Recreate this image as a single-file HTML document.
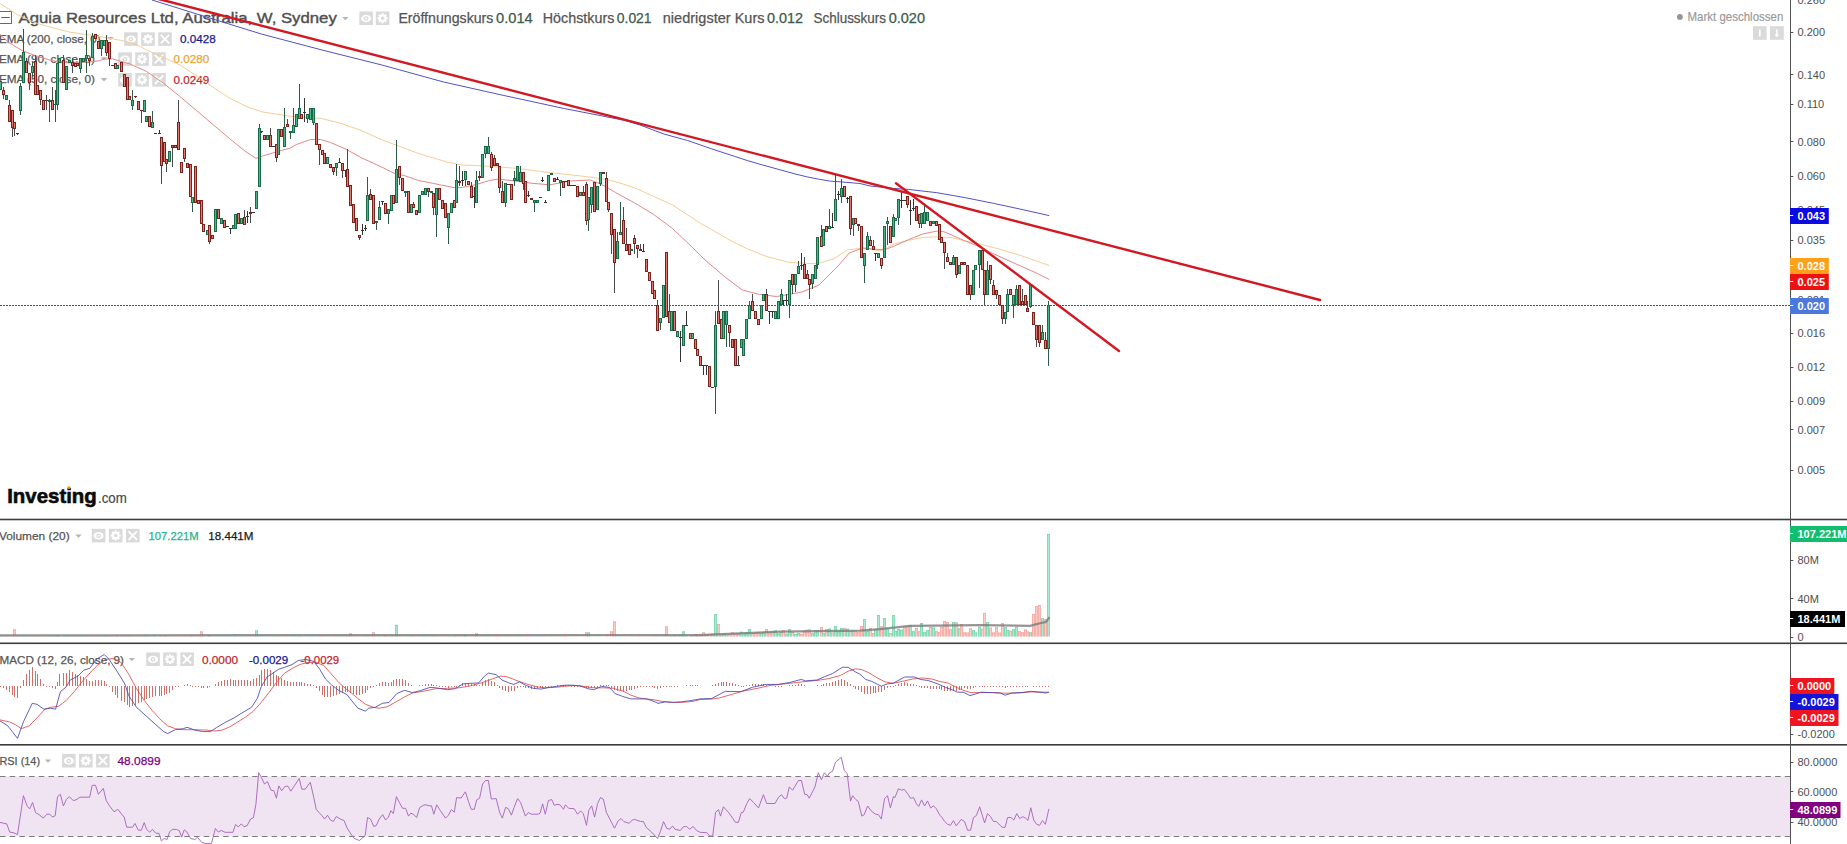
<!DOCTYPE html>
<html><head><meta charset="utf-8"><title>Chart</title>
<style>
html,body{margin:0;padding:0;background:#fff;}
body{width:1847px;height:844px;overflow:hidden;position:relative;font-family:"Liberation Sans",sans-serif;}
svg text{font-family:"Liberation Sans",sans-serif;}
</style></head><body>
<svg width="1847" height="844" viewBox="0 0 1847 844" style="position:absolute;left:0;top:0">
<rect x="0" y="776.5" width="1790.5" height="60" fill="#f0e4f3"/>
<line x1="0" y1="776.5" x2="1790.5" y2="776.5" stroke="#7d7d7d" stroke-width="1" stroke-dasharray="5.5 4.2"/>
<line x1="0" y1="836.5" x2="1790.5" y2="836.5" stroke="#7d7d7d" stroke-width="1" stroke-dasharray="5.5 4.2"/>
<rect x="-2.5" y="11.5" width="14" height="12" fill="none" stroke="#6a6a6a" stroke-width="1"/><rect x="1.3" y="17" width="8.4" height="1" fill="#5a5a5a"/>
<text x="18.5" y="23.4" font-size="15.2" fill="#505050" textLength="318.3" lengthAdjust="spacingAndGlyphs" stroke="#505050" stroke-width="0.4" text-anchor="start">Aguia Resources Ltd, Australia, W, Sydney</text>
<path d="M342.1,16.9 L348.5,16.9 L345.3,20.3 Z" fill="#b5b5b5"/>
<rect x="359.3" y="11.5" width="13.6" height="13.6" fill="#dadada"/>
<ellipse cx="366.1" cy="18.5" rx="5" ry="3.7" fill="#fff"/><circle cx="366.1" cy="18.5" r="2.3" fill="#dadada"/><circle cx="366.1" cy="18.5" r="1" fill="#fff"/>
<rect x="375.8" y="11.5" width="13.6" height="13.6" fill="#dadada"/>
<rect x="381.5" y="13.3" width="2.2" height="10" fill="#fff" transform="rotate(0 382.6 18.3)"/><rect x="381.5" y="13.3" width="2.2" height="10" fill="#fff" transform="rotate(45 382.6 18.3)"/><rect x="381.5" y="13.3" width="2.2" height="10" fill="#fff" transform="rotate(90 382.6 18.3)"/><rect x="381.5" y="13.3" width="2.2" height="10" fill="#fff" transform="rotate(135 382.6 18.3)"/><circle cx="382.6" cy="18.3" r="3.7" fill="#fff"/><circle cx="382.6" cy="18.3" r="1.7" fill="#dadada"/>
<text x="398.4" y="23.2" font-size="14.2" fill="#555555" textLength="95" lengthAdjust="spacingAndGlyphs" stroke="#555555" stroke-width="0.25" text-anchor="start">Eröffnungskurs</text>
<text x="496" y="23.2" font-size="14.2" fill="#3d5a4c" textLength="36.7" lengthAdjust="spacingAndGlyphs" stroke="#3d5a4c" stroke-width="0.25" text-anchor="start">0.014</text>
<text x="542.8" y="23.2" font-size="14.2" fill="#555555" textLength="71.5" lengthAdjust="spacingAndGlyphs" stroke="#555555" stroke-width="0.25" text-anchor="start">Höchstkurs</text>
<text x="616.8" y="23.2" font-size="14.2" fill="#3d5a4c" textLength="34.8" lengthAdjust="spacingAndGlyphs" stroke="#3d5a4c" stroke-width="0.25" text-anchor="start">0.021</text>
<text x="662.8" y="23.2" font-size="14.2" fill="#555555" textLength="101.7" lengthAdjust="spacingAndGlyphs" stroke="#555555" stroke-width="0.25" text-anchor="start">niedrigster Kurs</text>
<text x="767" y="23.2" font-size="14.2" fill="#3d5a4c" textLength="36" lengthAdjust="spacingAndGlyphs" stroke="#3d5a4c" stroke-width="0.25" text-anchor="start">0.012</text>
<text x="813.5" y="23.2" font-size="14.2" fill="#555555" textLength="72.5" lengthAdjust="spacingAndGlyphs" stroke="#555555" stroke-width="0.25" text-anchor="start">Schlusskurs</text>
<text x="888.7" y="23.2" font-size="14.2" fill="#3d5a4c" textLength="36.3" lengthAdjust="spacingAndGlyphs" stroke="#3d5a4c" stroke-width="0.25" text-anchor="start">0.020</text>
<text x="-1" y="42.7" font-size="11.7" fill="#555555" textLength="101.7" lengthAdjust="spacingAndGlyphs" stroke="#555555" stroke-width="0.25" text-anchor="start">EMA (200, close, 0)</text>
<path d="M107.3,36.9 L113.7,36.9 L110.5,40.3 Z" fill="#b5b5b5"/>
<rect x="124.1" y="32.3" width="13.6" height="13.6" fill="#dadada"/>
<ellipse cx="130.9" cy="39.3" rx="5" ry="3.7" fill="#fff"/><circle cx="130.9" cy="39.3" r="2.3" fill="#dadada"/><circle cx="130.9" cy="39.3" r="1" fill="#fff"/>
<rect x="141.2" y="32.3" width="13.6" height="13.6" fill="#dadada"/>
<rect x="146.9" y="34.099999999999994" width="2.2" height="10" fill="#fff" transform="rotate(0 148.0 39.099999999999994)"/><rect x="146.9" y="34.099999999999994" width="2.2" height="10" fill="#fff" transform="rotate(45 148.0 39.099999999999994)"/><rect x="146.9" y="34.099999999999994" width="2.2" height="10" fill="#fff" transform="rotate(90 148.0 39.099999999999994)"/><rect x="146.9" y="34.099999999999994" width="2.2" height="10" fill="#fff" transform="rotate(135 148.0 39.099999999999994)"/><circle cx="148.0" cy="39.099999999999994" r="3.7" fill="#fff"/><circle cx="148.0" cy="39.099999999999994" r="1.7" fill="#dadada"/>
<rect x="158.2" y="32.3" width="13.6" height="13.6" fill="#dadada"/>
<path d="M160.79999999999998,34.9 L169.2,43.3 M169.2,34.9 L160.79999999999998,43.3" stroke="#fff" stroke-width="1.8" fill="none"/>
<text x="180" y="42.9" font-size="11.7" fill="#17178f" textLength="35.7" lengthAdjust="spacingAndGlyphs" stroke="#17178f" stroke-width="0.25" text-anchor="start">0.0428</text>
<text x="-1" y="62.9" font-size="11.7" fill="#555555" textLength="96" lengthAdjust="spacingAndGlyphs" stroke="#555555" stroke-width="0.25" text-anchor="start">EMA (90, close, 0)</text>
<path d="M100.8,57.199999999999996 L107.2,57.199999999999996 L104,60.599999999999994 Z" fill="#b5b5b5"/>
<rect x="118.2" y="52.3" width="13.6" height="13.6" fill="#dadada"/>
<ellipse cx="125.0" cy="59.3" rx="5" ry="3.7" fill="#fff"/><circle cx="125.0" cy="59.3" r="2.3" fill="#dadada"/><circle cx="125.0" cy="59.3" r="1" fill="#fff"/>
<rect x="135.2" y="52.3" width="13.6" height="13.6" fill="#dadada"/>
<rect x="140.9" y="54.099999999999994" width="2.2" height="10" fill="#fff" transform="rotate(0 142.0 59.099999999999994)"/><rect x="140.9" y="54.099999999999994" width="2.2" height="10" fill="#fff" transform="rotate(45 142.0 59.099999999999994)"/><rect x="140.9" y="54.099999999999994" width="2.2" height="10" fill="#fff" transform="rotate(90 142.0 59.099999999999994)"/><rect x="140.9" y="54.099999999999994" width="2.2" height="10" fill="#fff" transform="rotate(135 142.0 59.099999999999994)"/><circle cx="142.0" cy="59.099999999999994" r="3.7" fill="#fff"/><circle cx="142.0" cy="59.099999999999994" r="1.7" fill="#dadada"/>
<rect x="152.2" y="52.3" width="13.6" height="13.6" fill="#dadada"/>
<path d="M154.79999999999998,54.9 L163.2,63.3 M163.2,54.9 L154.79999999999998,63.3" stroke="#fff" stroke-width="1.8" fill="none"/>
<text x="173.6" y="63.1" font-size="11.7" fill="#e8a530" textLength="35.7" lengthAdjust="spacingAndGlyphs" stroke="#e8a530" stroke-width="0.25" text-anchor="start">0.0280</text>
<text x="-1" y="83.4" font-size="11.7" fill="#555555" textLength="96" lengthAdjust="spacingAndGlyphs" stroke="#555555" stroke-width="0.25" text-anchor="start">EMA (50, close, 0)</text>
<path d="M100.8,78.0 L107.2,78.0 L104,81.39999999999999 Z" fill="#b5b5b5"/>
<rect x="118.2" y="73" width="13.6" height="13.6" fill="#dadada"/>
<ellipse cx="125.0" cy="80.0" rx="5" ry="3.7" fill="#fff"/><circle cx="125.0" cy="80.0" r="2.3" fill="#dadada"/><circle cx="125.0" cy="80.0" r="1" fill="#fff"/>
<rect x="135.2" y="73" width="13.6" height="13.6" fill="#dadada"/>
<rect x="140.9" y="74.8" width="2.2" height="10" fill="#fff" transform="rotate(0 142.0 79.8)"/><rect x="140.9" y="74.8" width="2.2" height="10" fill="#fff" transform="rotate(45 142.0 79.8)"/><rect x="140.9" y="74.8" width="2.2" height="10" fill="#fff" transform="rotate(90 142.0 79.8)"/><rect x="140.9" y="74.8" width="2.2" height="10" fill="#fff" transform="rotate(135 142.0 79.8)"/><circle cx="142.0" cy="79.8" r="3.7" fill="#fff"/><circle cx="142.0" cy="79.8" r="1.7" fill="#dadada"/>
<rect x="152.2" y="73" width="13.6" height="13.6" fill="#dadada"/>
<path d="M154.79999999999998,75.6 L163.2,84 M163.2,75.6 L154.79999999999998,84" stroke="#fff" stroke-width="1.8" fill="none"/>
<text x="173.6" y="83.6" font-size="11.7" fill="#c4262c" textLength="35.7" lengthAdjust="spacingAndGlyphs" stroke="#c4262c" stroke-width="0.25" text-anchor="start">0.0249</text>
<circle cx="1679.9" cy="16.9" r="2.9" fill="#949494"/>
<text x="1687.5" y="20.9" font-size="12.6" fill="#989898" textLength="95.8" lengthAdjust="spacingAndGlyphs" stroke="#989898" stroke-width="0.15" text-anchor="start">Markt geschlossen</text>
<rect x="1753" y="26.2" width="13.6" height="13.6" fill="#dadada"/><rect x="1770" y="26.2" width="13.8" height="13.6" fill="#dadada"/>
<path d="M1759.8,29.5 v7" stroke="#fff" stroke-width="1.8"/><path d="M1776.9,29.3 v6" stroke="#fff" stroke-width="1.5" fill="none"/><path d="M1774.6,34.6 h4.6 l-2.3,2.8 z" fill="#fff"/>
<text x="7.2" y="502.8" font-size="20.4" fill="#0a0a0a" textLength="89.6" lengthAdjust="spacingAndGlyphs" font-weight="bold" stroke="#0a0a0a" stroke-width="0.6" text-anchor="start">Investing</text>
<circle cx="68.9" cy="487.6" r="1.5" fill="#f0a020"/>
<text x="98" y="502.8" font-size="14.5" fill="#4a4a4a" textLength="28.8" lengthAdjust="spacingAndGlyphs" stroke="#4a4a4a" stroke-width="0.2" text-anchor="start">.com</text>
<text x="-1" y="540" font-size="11.7" fill="#555555" textLength="70.6" lengthAdjust="spacingAndGlyphs" stroke="#555555" stroke-width="0.25" text-anchor="start">Volumen (20)</text>
<path d="M75.3,534.4 L81.7,534.4 L78.5,537.8 Z" fill="#b5b5b5"/>
<rect x="91.8" y="528.8" width="13.6" height="13.6" fill="#dadada"/>
<ellipse cx="98.6" cy="535.8" rx="5" ry="3.7" fill="#fff"/><circle cx="98.6" cy="535.8" r="2.3" fill="#dadada"/><circle cx="98.6" cy="535.8" r="1" fill="#fff"/>
<rect x="108.9" y="528.8" width="13.6" height="13.6" fill="#dadada"/>
<rect x="114.60000000000001" y="530.5999999999999" width="2.2" height="10" fill="#fff" transform="rotate(0 115.7 535.5999999999999)"/><rect x="114.60000000000001" y="530.5999999999999" width="2.2" height="10" fill="#fff" transform="rotate(45 115.7 535.5999999999999)"/><rect x="114.60000000000001" y="530.5999999999999" width="2.2" height="10" fill="#fff" transform="rotate(90 115.7 535.5999999999999)"/><rect x="114.60000000000001" y="530.5999999999999" width="2.2" height="10" fill="#fff" transform="rotate(135 115.7 535.5999999999999)"/><circle cx="115.7" cy="535.5999999999999" r="3.7" fill="#fff"/><circle cx="115.7" cy="535.5999999999999" r="1.7" fill="#dadada"/>
<rect x="126" y="528.8" width="13.6" height="13.6" fill="#dadada"/>
<path d="M128.6,531.4 L137,539.8 M137,531.4 L128.6,539.8" stroke="#fff" stroke-width="1.8" fill="none"/>
<text x="148.5" y="540.2" font-size="11.7" fill="#26b38a" textLength="50.2" lengthAdjust="spacingAndGlyphs" stroke="#26b38a" stroke-width="0.25" text-anchor="start">107.221M</text>
<text x="208.3" y="540.2" font-size="11.7" fill="#1a1a1a" textLength="45.2" lengthAdjust="spacingAndGlyphs" stroke="#1a1a1a" stroke-width="0.25" text-anchor="start">18.441M</text>
<text x="-0.5" y="663.7" font-size="11.7" fill="#555555" textLength="124.5" lengthAdjust="spacingAndGlyphs" stroke="#555555" stroke-width="0.25" text-anchor="start">MACD (12, 26, close, 9)</text>
<path d="M128.60000000000002,657.9 L135.0,657.9 L131.8,661.3 Z" fill="#b5b5b5"/>
<rect x="146.2" y="652.4" width="13.6" height="13.6" fill="#dadada"/>
<ellipse cx="153.0" cy="659.4" rx="5" ry="3.7" fill="#fff"/><circle cx="153.0" cy="659.4" r="2.3" fill="#dadada"/><circle cx="153.0" cy="659.4" r="1" fill="#fff"/>
<rect x="163.2" y="652.4" width="13.6" height="13.6" fill="#dadada"/>
<rect x="168.9" y="654.1999999999999" width="2.2" height="10" fill="#fff" transform="rotate(0 170.0 659.1999999999999)"/><rect x="168.9" y="654.1999999999999" width="2.2" height="10" fill="#fff" transform="rotate(45 170.0 659.1999999999999)"/><rect x="168.9" y="654.1999999999999" width="2.2" height="10" fill="#fff" transform="rotate(90 170.0 659.1999999999999)"/><rect x="168.9" y="654.1999999999999" width="2.2" height="10" fill="#fff" transform="rotate(135 170.0 659.1999999999999)"/><circle cx="170.0" cy="659.1999999999999" r="3.7" fill="#fff"/><circle cx="170.0" cy="659.1999999999999" r="1.7" fill="#dadada"/>
<rect x="180.3" y="652.4" width="13.6" height="13.6" fill="#dadada"/>
<path d="M182.9,655.0 L191.3,663.4 M191.3,655.0 L182.9,663.4" stroke="#fff" stroke-width="1.8" fill="none"/>
<text x="202" y="663.9" font-size="11.7" fill="#c4262c" textLength="36" lengthAdjust="spacingAndGlyphs" stroke="#c4262c" stroke-width="0.25" text-anchor="start">0.0000</text>
<text x="249" y="663.9" font-size="11.7" fill="#17178f" textLength="39.2" lengthAdjust="spacingAndGlyphs" stroke="#17178f" stroke-width="0.25" text-anchor="start">-0.0029</text>
<text x="300.5" y="663.9" font-size="11.7" fill="#c4262c" textLength="38.7" lengthAdjust="spacingAndGlyphs" stroke="#c4262c" stroke-width="0.25" text-anchor="start">-0.0029</text>
<text x="-0.5" y="765.2" font-size="11.7" fill="#555555" textLength="40.5" lengthAdjust="spacingAndGlyphs" stroke="#555555" stroke-width="0.25" text-anchor="start">RSI (14)</text>
<path d="M44.8,759.4 L51.2,759.4 L48,762.8 Z" fill="#b5b5b5"/>
<rect x="62" y="753.9" width="13.6" height="13.6" fill="#dadada"/>
<ellipse cx="68.8" cy="760.9" rx="5" ry="3.7" fill="#fff"/><circle cx="68.8" cy="760.9" r="2.3" fill="#dadada"/><circle cx="68.8" cy="760.9" r="1" fill="#fff"/>
<rect x="79" y="753.9" width="13.6" height="13.6" fill="#dadada"/>
<rect x="84.7" y="755.6999999999999" width="2.2" height="10" fill="#fff" transform="rotate(0 85.8 760.6999999999999)"/><rect x="84.7" y="755.6999999999999" width="2.2" height="10" fill="#fff" transform="rotate(45 85.8 760.6999999999999)"/><rect x="84.7" y="755.6999999999999" width="2.2" height="10" fill="#fff" transform="rotate(90 85.8 760.6999999999999)"/><rect x="84.7" y="755.6999999999999" width="2.2" height="10" fill="#fff" transform="rotate(135 85.8 760.6999999999999)"/><circle cx="85.8" cy="760.6999999999999" r="3.7" fill="#fff"/><circle cx="85.8" cy="760.6999999999999" r="1.7" fill="#dadada"/>
<rect x="96.1" y="753.9" width="13.6" height="13.6" fill="#dadada"/>
<path d="M98.69999999999999,756.5 L107.1,764.9 M107.1,756.5 L98.69999999999999,764.9" stroke="#fff" stroke-width="1.8" fill="none"/>
<text x="117.5" y="765.4" font-size="11.7" fill="#800080" textLength="43" lengthAdjust="spacingAndGlyphs" stroke="#800080" stroke-width="0.25" text-anchor="start">48.0899</text>
<polyline points="-6.0,0.0 0.0,3.5 17.3,14.7 34.7,22.5 52.0,27.7 69.3,32.0 86.7,34.7 104.0,37.3 120.0,40.2 133.0,43.3 140.0,46.4 146.6,50.0 163.2,57.4 179.7,64.8 196.3,75.6 213.0,87.2 229.5,98.0 246.0,106.3 262.7,112.0 279.2,114.6 290.0,116.2 300.5,117.3 320.6,118.3 340.8,123.3 361.0,130.4 381.0,139.5 400.0,146.5 418.4,153.5 446.9,162.0 461.0,164.8 489.6,166.3 518.0,168.4 550.0,172.7 578.0,175.6 606.4,179.4 620.0,183.0 634.8,187.9 653.7,196.4 672.7,205.0 700.0,223.0 729.6,240.0 746.6,248.5 768.0,257.0 789.3,262.4 810.6,263.5 820.0,263.0 834.0,258.6 847.4,250.0 862.6,248.0 880.0,251.0 887.0,248.0 894.2,243.9 908.4,240.4 922.6,237.5 936.9,236.8 951.0,237.5 965.3,241.0 979.5,243.9 993.7,247.5 1007.9,251.7 1022.1,256.0 1036.4,261.0 1049.2,265.5" fill="none" stroke="#f4cd94" stroke-width="1" />
<polyline points="-3.0,30.0 0.0,34.7 8.7,42.5 21.7,50.3 34.7,55.5 52.0,60.7 69.3,62.8 86.7,62.4 99.7,60.7 104.0,59.0 112.7,59.0 130.0,64.0 146.6,71.5 163.2,83.0 179.7,96.3 196.3,110.4 213.0,124.5 229.5,138.6 246.0,151.9 256.0,158.3 262.7,156.0 279.2,151.0 290.0,148.2 296.5,144.5 310.6,139.5 320.6,139.5 330.7,142.5 346.9,149.6 361.0,157.6 381.0,166.7 395.2,173.8 404.2,175.5 418.4,180.5 432.7,183.3 446.9,186.2 454.0,187.6 461.0,187.6 475.3,184.8 489.6,180.5 498.0,179.0 511.0,180.5 532.2,183.3 550.0,184.8 570.5,181.0 590.0,180.0 597.0,182.5 606.4,187.0 615.8,192.7 634.8,203.0 653.7,214.5 672.7,228.7 691.7,246.7 704.0,259.0 725.3,277.3 742.4,290.0 759.4,294.4 776.5,296.5 789.3,294.4 802.0,292.0 819.0,285.0 838.0,266.0 849.3,253.0 862.6,248.0 880.0,249.6 887.1,248.9 894.2,246.0 908.4,239.7 922.6,234.0 936.9,231.1 944.0,231.8 951.0,234.7 965.3,241.0 979.5,246.8 993.7,253.9 1007.9,260.3 1022.1,266.7 1036.4,273.0 1049.2,279.5" fill="none" stroke="#e48888" stroke-width="1" />
<polyline points="152.0,0.0 200.6,15.2 261.3,34.0 322.0,50.0 382.6,65.2 443.2,81.9 503.9,95.5 564.5,108.6 600.0,115.5 625.2,120.5 640.0,125.0 663.8,134.0 687.6,140.5 711.5,148.8 735.3,156.6 747.2,160.5 759.0,164.0 771.0,167.3 783.0,170.6 794.9,173.9 806.8,176.8 818.7,179.2 830.6,181.2 842.5,182.0 860.0,183.5 870.0,186.0 894.2,188.5 908.4,189.4 936.9,192.7 965.3,197.7 993.7,203.4 1022.1,209.5 1049.2,215.6" fill="none" stroke="#5252c4" stroke-width="1" />
<line x1="0" y1="305.5" x2="1790.5" y2="305.5" stroke="#4f5473" stroke-width="1" stroke-dasharray="2 1"/>
<g shape-rendering="crispEdges"><rect x="-1" y="81.0" width="3" height="9.0" fill="#1a6b47"/><rect x="0" y="82.0" width="1" height="7.0" fill="#4ab587"/><rect x="3" y="87.0" width="1" height="12.0" fill="#4a4a4a"/><rect x="2" y="90.0" width="3" height="5.0" fill="#7a221b"/><rect x="3" y="91.0" width="1" height="3.0" fill="#e27770"/><rect x="5" y="95.0" width="3" height="5.0" fill="#1a6b47"/><rect x="6" y="96.0" width="1" height="3.0" fill="#4ab587"/><rect x="9" y="100.0" width="1" height="22.0" fill="#4a4a4a"/><rect x="8" y="105.0" width="3" height="17.0" fill="#7a221b"/><rect x="9" y="106.0" width="1" height="15.0" fill="#e27770"/><rect x="12" y="110.0" width="1" height="27.0" fill="#4a4a4a"/><rect x="11" y="110.0" width="3" height="18.0" fill="#7a221b"/><rect x="12" y="111.0" width="1" height="16.0" fill="#e27770"/><rect x="14" y="122.0" width="1" height="14.0" fill="#4a4a4a"/><rect x="13" y="122.0" width="3" height="7.0" fill="#7a221b"/><rect x="14" y="123.0" width="1" height="5.0" fill="#e27770"/><rect x="17" y="132.5" width="1" height="2.5" fill="#4a4a4a"/><rect x="16" y="132.5" width="3" height="1.0" fill="#7a221b"/><rect x="20" y="83.0" width="1" height="32.0" fill="#2f5a45"/><rect x="19" y="86.0" width="3" height="25.0" fill="#1a6b47"/><rect x="20" y="87.0" width="1" height="23.0" fill="#4ab587"/><rect x="23" y="28.5" width="1" height="54.5" fill="#2f5a45"/><rect x="22" y="52.0" width="3" height="31.0" fill="#1a6b47"/><rect x="23" y="53.0" width="1" height="29.0" fill="#4ab587"/><rect x="26" y="58.0" width="1" height="15.0" fill="#4a4a4a"/><rect x="25" y="61.0" width="3" height="12.0" fill="#7a221b"/><rect x="26" y="62.0" width="1" height="10.0" fill="#e27770"/><rect x="29" y="73.0" width="1" height="17.0" fill="#4a4a4a"/><rect x="28" y="73.0" width="3" height="10.0" fill="#7a221b"/><rect x="29" y="74.0" width="1" height="8.0" fill="#e27770"/><rect x="32" y="62.0" width="1" height="15.0" fill="#2f5a45"/><rect x="31" y="66.0" width="3" height="7.0" fill="#1a6b47"/><rect x="32" y="67.0" width="1" height="5.0" fill="#4ab587"/><rect x="35" y="55.0" width="1" height="40.0" fill="#4a4a4a"/><rect x="34" y="61.0" width="3" height="34.0" fill="#7a221b"/><rect x="35" y="62.0" width="1" height="32.0" fill="#e27770"/><rect x="36" y="85.0" width="3" height="10.0" fill="#7a221b"/><rect x="37" y="86.0" width="1" height="8.0" fill="#e27770"/><rect x="40" y="90.0" width="1" height="15.0" fill="#4a4a4a"/><rect x="39" y="90.0" width="3" height="10.0" fill="#7a221b"/><rect x="40" y="91.0" width="1" height="8.0" fill="#e27770"/><rect x="42" y="100.0" width="3" height="10.0" fill="#7a221b"/><rect x="43" y="101.0" width="1" height="8.0" fill="#e27770"/><rect x="46" y="95.0" width="1" height="15.0" fill="#4a4a4a"/><rect x="45" y="100.0" width="3" height="1.0" fill="#7a221b"/><rect x="49" y="99.0" width="1" height="23.0" fill="#2f5a45"/><rect x="48" y="100.0" width="3" height="2.0" fill="#1a6b47"/><rect x="52" y="87.0" width="1" height="23.0" fill="#4a4a4a"/><rect x="51" y="100.0" width="3" height="10.0" fill="#7a221b"/><rect x="52" y="101.0" width="1" height="8.0" fill="#e27770"/><rect x="55" y="90.0" width="1" height="32.0" fill="#2f5a45"/><rect x="54" y="104.0" width="3" height="1.0" fill="#1a6b47"/><rect x="57" y="63.0" width="1" height="47.0" fill="#2f5a45"/><rect x="56" y="63.0" width="3" height="42.0" fill="#1a6b47"/><rect x="57" y="64.0" width="1" height="40.0" fill="#4ab587"/><rect x="58" y="58.0" width="3" height="5.0" fill="#1a6b47"/><rect x="59" y="59.0" width="1" height="3.0" fill="#4ab587"/><rect x="63" y="55.0" width="1" height="28.0" fill="#4a4a4a"/><rect x="62" y="60.0" width="3" height="23.0" fill="#7a221b"/><rect x="63" y="61.0" width="1" height="21.0" fill="#e27770"/><rect x="65" y="66.0" width="3" height="24.0" fill="#1a6b47"/><rect x="66" y="67.0" width="1" height="22.0" fill="#4ab587"/><rect x="68" y="60.0" width="3" height="3.0" fill="#1a6b47"/><rect x="69" y="61.0" width="1" height="1.0" fill="#4ab587"/><rect x="72" y="58.0" width="1" height="15.0" fill="#4a4a4a"/><rect x="71" y="62.0" width="3" height="4.0" fill="#7a221b"/><rect x="72" y="63.0" width="1" height="2.0" fill="#e27770"/><rect x="74" y="63.0" width="3" height="4.0" fill="#7a221b"/><rect x="75" y="64.0" width="1" height="2.0" fill="#e27770"/><rect x="76" y="63.0" width="3" height="3.0" fill="#7a221b"/><rect x="77" y="64.0" width="1" height="1.0" fill="#e27770"/><rect x="80" y="58.0" width="1" height="15.0" fill="#2f5a45"/><rect x="79" y="58.0" width="3" height="11.0" fill="#1a6b47"/><rect x="80" y="59.0" width="1" height="9.0" fill="#4ab587"/><rect x="82" y="58.0" width="3" height="4.0" fill="#1a6b47"/><rect x="83" y="59.0" width="1" height="2.0" fill="#4ab587"/><rect x="86" y="30.0" width="1" height="43.0" fill="#2f5a45"/><rect x="85" y="55.0" width="3" height="4.0" fill="#1a6b47"/><rect x="86" y="56.0" width="1" height="2.0" fill="#4ab587"/><rect x="89" y="58.0" width="1" height="8.0" fill="#4a4a4a"/><rect x="88" y="58.0" width="3" height="3.0" fill="#7a221b"/><rect x="89" y="59.0" width="1" height="1.0" fill="#e27770"/><rect x="92" y="33.0" width="1" height="25.0" fill="#2f5a45"/><rect x="91" y="36.0" width="3" height="22.0" fill="#1a6b47"/><rect x="92" y="37.0" width="1" height="20.0" fill="#4ab587"/><rect x="94" y="33.5" width="3" height="5.5" fill="#7a221b"/><rect x="95" y="34.5" width="1" height="3.5" fill="#e27770"/><rect x="97" y="41.0" width="3" height="7.5" fill="#7a221b"/><rect x="98" y="42.0" width="1" height="5.5" fill="#e27770"/><rect x="101" y="40.0" width="1" height="16.0" fill="#2f5a45"/><rect x="100" y="40.0" width="3" height="8.5" fill="#1a6b47"/><rect x="101" y="41.0" width="1" height="6.5" fill="#4ab587"/><rect x="103" y="40.0" width="3" height="6.0" fill="#1a6b47"/><rect x="104" y="41.0" width="1" height="4.0" fill="#4ab587"/><rect x="106" y="35.0" width="1" height="21.0" fill="#4a4a4a"/><rect x="105" y="40.0" width="3" height="13.0" fill="#7a221b"/><rect x="106" y="41.0" width="1" height="11.0" fill="#e27770"/><rect x="109" y="42.0" width="1" height="23.5" fill="#4a4a4a"/><rect x="108" y="42.0" width="3" height="17.0" fill="#7a221b"/><rect x="109" y="43.0" width="1" height="15.0" fill="#e27770"/><rect x="111" y="65.0" width="3" height="1.0" fill="#7a221b"/><rect x="114" y="63.0" width="3" height="6.0" fill="#7a221b"/><rect x="115" y="64.0" width="1" height="4.0" fill="#e27770"/><rect x="116" y="65.0" width="3" height="3.6" fill="#1a6b47"/><rect x="117" y="66.0" width="1" height="1.6" fill="#4ab587"/><rect x="120" y="62.0" width="3" height="10.0" fill="#7a221b"/><rect x="121" y="63.0" width="1" height="8.0" fill="#e27770"/><rect x="123" y="73.6" width="3" height="13.4" fill="#7a221b"/><rect x="124" y="74.6" width="1" height="11.4" fill="#e27770"/><rect x="126" y="77.0" width="3" height="23.0" fill="#7a221b"/><rect x="127" y="78.0" width="1" height="21.0" fill="#e27770"/><rect x="128" y="96.0" width="3" height="4.0" fill="#7a221b"/><rect x="129" y="97.0" width="1" height="2.0" fill="#e27770"/><rect x="132" y="90.0" width="1" height="20.0" fill="#2f5a45"/><rect x="131" y="100.0" width="3" height="6.0" fill="#1a6b47"/><rect x="132" y="101.0" width="1" height="4.0" fill="#4ab587"/><rect x="135" y="95.5" width="1" height="2.5" fill="#4a4a4a"/><rect x="134" y="95.5" width="3" height="1.0" fill="#7a221b"/><rect x="137" y="101.0" width="3" height="9.0" fill="#7a221b"/><rect x="138" y="102.0" width="1" height="7.0" fill="#e27770"/><rect x="141" y="109.5" width="1" height="13.5" fill="#4a4a4a"/><rect x="140" y="109.5" width="3" height="1.0" fill="#7a221b"/><rect x="143" y="100.0" width="3" height="12.0" fill="#1a6b47"/><rect x="144" y="101.0" width="1" height="10.0" fill="#4ab587"/><rect x="145" y="116.0" width="3" height="6.0" fill="#1a6b47"/><rect x="146" y="117.0" width="1" height="4.0" fill="#4ab587"/><rect x="148" y="116.0" width="3" height="11.0" fill="#7a221b"/><rect x="149" y="117.0" width="1" height="9.0" fill="#e27770"/><rect x="152" y="111.0" width="1" height="17.0" fill="#2f5a45"/><rect x="151" y="122.0" width="3" height="6.0" fill="#1a6b47"/><rect x="152" y="123.0" width="1" height="4.0" fill="#4ab587"/><rect x="155" y="133.0" width="1" height="1.0" fill="#333"/><rect x="154" y="133.0" width="3" height="1" fill="#333"/><rect x="159" y="130.0" width="1" height="4.0" fill="#333"/><rect x="158" y="133.0" width="3" height="1" fill="#333"/><rect x="161" y="137.0" width="1" height="47.0" fill="#4a4a4a"/><rect x="160" y="137.0" width="3" height="29.0" fill="#7a221b"/><rect x="161" y="138.0" width="1" height="27.0" fill="#e27770"/><rect x="163" y="142.0" width="3" height="20.0" fill="#7a221b"/><rect x="164" y="143.0" width="1" height="18.0" fill="#e27770"/><rect x="166" y="159.0" width="1" height="13.0" fill="#4a4a4a"/><rect x="165" y="159.0" width="3" height="5.0" fill="#7a221b"/><rect x="166" y="160.0" width="1" height="3.0" fill="#e27770"/><rect x="168" y="151.0" width="3" height="11.0" fill="#1a6b47"/><rect x="169" y="152.0" width="1" height="9.0" fill="#4ab587"/><rect x="172" y="144.5" width="1" height="22.5" fill="#4a4a4a"/><rect x="171" y="144.5" width="3" height="3.0" fill="#7a221b"/><rect x="172" y="145.5" width="1" height="1.0" fill="#e27770"/><rect x="174" y="144.5" width="3" height="3.0" fill="#7a221b"/><rect x="175" y="145.5" width="1" height="1.0" fill="#e27770"/><rect x="178" y="99.7" width="1" height="49.8" fill="#4a4a4a"/><rect x="177" y="122.0" width="3" height="27.5" fill="#7a221b"/><rect x="178" y="123.0" width="1" height="25.5" fill="#e27770"/><rect x="180" y="162.0" width="3" height="11.0" fill="#7a221b"/><rect x="181" y="163.0" width="1" height="9.0" fill="#e27770"/><rect x="184" y="148.0" width="1" height="14.0" fill="#4a4a4a"/><rect x="183" y="148.0" width="3" height="11.4" fill="#7a221b"/><rect x="184" y="149.0" width="1" height="9.4" fill="#e27770"/><rect x="186" y="163.0" width="3" height="5.0" fill="#7a221b"/><rect x="187" y="164.0" width="1" height="3.0" fill="#e27770"/><rect x="189" y="164.0" width="3" height="33.0" fill="#7a221b"/><rect x="190" y="165.0" width="1" height="31.0" fill="#e27770"/><rect x="192" y="197.0" width="1" height="14.6" fill="#2f5a45"/><rect x="191" y="197.0" width="3" height="6.0" fill="#1a6b47"/><rect x="192" y="198.0" width="1" height="4.0" fill="#4ab587"/><rect x="194" y="165.6" width="3" height="37.4" fill="#7a221b"/><rect x="195" y="166.6" width="1" height="35.4" fill="#e27770"/><rect x="197" y="200.0" width="3" height="4.0" fill="#7a221b"/><rect x="198" y="201.0" width="1" height="2.0" fill="#e27770"/><rect x="200" y="200.0" width="3" height="24.0" fill="#7a221b"/><rect x="201" y="201.0" width="1" height="22.0" fill="#e27770"/><rect x="202" y="224.0" width="3" height="7.5" fill="#7a221b"/><rect x="203" y="225.0" width="1" height="5.5" fill="#e27770"/><rect x="206" y="230.0" width="3" height="5.0" fill="#1a6b47"/><rect x="207" y="231.0" width="1" height="3.0" fill="#4ab587"/><rect x="209" y="225.0" width="1" height="19.0" fill="#4a4a4a"/><rect x="208" y="225.0" width="3" height="16.5" fill="#7a221b"/><rect x="209" y="226.0" width="1" height="14.5" fill="#e27770"/><rect x="211" y="235.0" width="3" height="4.0" fill="#7a221b"/><rect x="212" y="236.0" width="1" height="2.0" fill="#e27770"/><rect x="214" y="209.0" width="3" height="22.5" fill="#1a6b47"/><rect x="215" y="210.0" width="1" height="20.5" fill="#4ab587"/><rect x="217" y="209.0" width="3" height="10.0" fill="#7a221b"/><rect x="218" y="210.0" width="1" height="8.0" fill="#e27770"/><rect x="220" y="218.0" width="3" height="6.0" fill="#1a6b47"/><rect x="221" y="219.0" width="1" height="4.0" fill="#4ab587"/><rect x="223" y="220.0" width="3" height="8.0" fill="#7a221b"/><rect x="224" y="221.0" width="1" height="6.0" fill="#e27770"/><rect x="227" y="226.0" width="1" height="1.0" fill="#333"/><rect x="226" y="226.0" width="3" height="1" fill="#333"/><rect x="230" y="227.5" width="1" height="6.5" fill="#333"/><rect x="229" y="227.5" width="3" height="1" fill="#333"/><rect x="232" y="225.0" width="3" height="4.0" fill="#1a6b47"/><rect x="233" y="226.0" width="1" height="2.0" fill="#4ab587"/><rect x="234" y="214.0" width="3" height="15.0" fill="#1a6b47"/><rect x="235" y="215.0" width="1" height="13.0" fill="#4ab587"/><rect x="237" y="213.0" width="3" height="11.0" fill="#7a221b"/><rect x="238" y="214.0" width="1" height="9.0" fill="#e27770"/><rect x="240" y="218.0" width="3" height="6.0" fill="#1a6b47"/><rect x="241" y="219.0" width="1" height="4.0" fill="#4ab587"/><rect x="244" y="210.0" width="1" height="15.0" fill="#4a4a4a"/><rect x="243" y="217.0" width="3" height="8.0" fill="#7a221b"/><rect x="244" y="218.0" width="1" height="6.0" fill="#e27770"/><rect x="247" y="211.0" width="1" height="12.0" fill="#333"/><rect x="246" y="216.0" width="3" height="1" fill="#333"/><rect x="250" y="207.0" width="1" height="16.0" fill="#4a4a4a"/><rect x="249" y="212.0" width="3" height="2.0" fill="#7a221b"/><rect x="253" y="211.5" width="1" height="1.0" fill="#333"/><rect x="252" y="211.5" width="3" height="1" fill="#333"/><rect x="255" y="191.0" width="3" height="18.0" fill="#1a6b47"/><rect x="256" y="192.0" width="1" height="16.0" fill="#4ab587"/><rect x="259" y="124.0" width="1" height="63.0" fill="#2f5a45"/><rect x="258" y="128.0" width="3" height="59.0" fill="#1a6b47"/><rect x="259" y="129.0" width="1" height="57.0" fill="#4ab587"/><rect x="261" y="131.0" width="1" height="2.0" fill="#333"/><rect x="260" y="131.0" width="3" height="1" fill="#333"/><rect x="263" y="135.0" width="3" height="5.0" fill="#7a221b"/><rect x="264" y="136.0" width="1" height="3.0" fill="#e27770"/><rect x="266" y="135.0" width="3" height="5.0" fill="#1a6b47"/><rect x="267" y="136.0" width="1" height="3.0" fill="#4ab587"/><rect x="270" y="128.0" width="1" height="18.5" fill="#4a4a4a"/><rect x="269" y="135.0" width="3" height="11.5" fill="#7a221b"/><rect x="270" y="136.0" width="1" height="9.5" fill="#e27770"/><rect x="273" y="146.0" width="1" height="1.0" fill="#333"/><rect x="272" y="146.0" width="3" height="1" fill="#333"/><rect x="276" y="143.5" width="1" height="18.1" fill="#4a4a4a"/><rect x="275" y="143.5" width="3" height="14.1" fill="#7a221b"/><rect x="276" y="144.5" width="1" height="12.1" fill="#e27770"/><rect x="277" y="129.0" width="3" height="25.6" fill="#1a6b47"/><rect x="278" y="130.0" width="1" height="23.6" fill="#4ab587"/><rect x="280" y="129.0" width="3" height="7.5" fill="#7a221b"/><rect x="281" y="130.0" width="1" height="5.5" fill="#e27770"/><rect x="284" y="108.0" width="1" height="38.5" fill="#2f5a45"/><rect x="283" y="127.0" width="3" height="19.5" fill="#1a6b47"/><rect x="284" y="128.0" width="1" height="17.5" fill="#4ab587"/><rect x="287" y="119.0" width="1" height="8.0" fill="#4a4a4a"/><rect x="286" y="124.0" width="3" height="3.0" fill="#7a221b"/><rect x="287" y="125.0" width="1" height="1.0" fill="#e27770"/><rect x="290" y="131.0" width="1" height="8.0" fill="#2f5a45"/><rect x="289" y="131.0" width="3" height="2.4" fill="#1a6b47"/><rect x="290" y="132.0" width="1" height="0.4" fill="#4ab587"/><rect x="293" y="108.0" width="1" height="25.4" fill="#2f5a45"/><rect x="292" y="125.0" width="3" height="8.4" fill="#1a6b47"/><rect x="293" y="126.0" width="1" height="6.4" fill="#4ab587"/><rect x="295" y="114.0" width="3" height="13.0" fill="#1a6b47"/><rect x="296" y="115.0" width="1" height="11.0" fill="#4ab587"/><rect x="299" y="84.0" width="1" height="35.0" fill="#2f5a45"/><rect x="298" y="108.0" width="3" height="11.0" fill="#1a6b47"/><rect x="299" y="109.0" width="1" height="9.0" fill="#4ab587"/><rect x="300" y="114.0" width="3" height="5.0" fill="#7a221b"/><rect x="301" y="115.0" width="1" height="3.0" fill="#e27770"/><rect x="304" y="98.0" width="1" height="24.0" fill="#333"/><rect x="303" y="112.0" width="3" height="1" fill="#333"/><rect x="307" y="114.0" width="1" height="9.0" fill="#2f5a45"/><rect x="306" y="114.0" width="3" height="5.0" fill="#1a6b47"/><rect x="307" y="115.0" width="1" height="3.0" fill="#4ab587"/><rect x="309" y="108.0" width="3" height="12.0" fill="#1a6b47"/><rect x="310" y="109.0" width="1" height="10.0" fill="#4ab587"/><rect x="313" y="108.0" width="1" height="17.0" fill="#2f5a45"/><rect x="312" y="108.0" width="3" height="15.0" fill="#1a6b47"/><rect x="313" y="109.0" width="1" height="13.0" fill="#4ab587"/><rect x="315" y="123.0" width="3" height="21.5" fill="#7a221b"/><rect x="316" y="124.0" width="1" height="19.5" fill="#e27770"/><rect x="319" y="143.5" width="1" height="21.2" fill="#4a4a4a"/><rect x="318" y="143.5" width="3" height="6.0" fill="#7a221b"/><rect x="319" y="144.5" width="1" height="4.0" fill="#e27770"/><rect x="321" y="149.5" width="3" height="5.1" fill="#7a221b"/><rect x="322" y="150.5" width="1" height="3.1" fill="#e27770"/><rect x="323" y="152.6" width="3" height="11.1" fill="#7a221b"/><rect x="324" y="153.6" width="1" height="9.1" fill="#e27770"/><rect x="326" y="156.6" width="3" height="7.1" fill="#1a6b47"/><rect x="327" y="157.6" width="1" height="5.1" fill="#4ab587"/><rect x="329" y="163.7" width="3" height="4.0" fill="#7a221b"/><rect x="330" y="164.7" width="1" height="2.0" fill="#e27770"/><rect x="333" y="166.7" width="1" height="8.0" fill="#4a4a4a"/><rect x="332" y="166.7" width="3" height="5.0" fill="#7a221b"/><rect x="333" y="167.7" width="1" height="3.0" fill="#e27770"/><rect x="336" y="162.7" width="1" height="13.1" fill="#2f5a45"/><rect x="335" y="162.7" width="3" height="5.0" fill="#1a6b47"/><rect x="336" y="163.7" width="1" height="3.0" fill="#4ab587"/><rect x="339" y="157.6" width="1" height="5.4" fill="#333"/><rect x="338" y="162.0" width="3" height="1" fill="#333"/><rect x="342" y="162.7" width="1" height="15.1" fill="#4a4a4a"/><rect x="341" y="162.7" width="3" height="8.0" fill="#7a221b"/><rect x="342" y="163.7" width="1" height="6.0" fill="#e27770"/><rect x="345" y="170.0" width="1" height="6.8" fill="#333"/><rect x="344" y="170.0" width="3" height="1" fill="#333"/><rect x="347" y="148.5" width="1" height="38.4" fill="#4a4a4a"/><rect x="346" y="168.7" width="3" height="18.2" fill="#7a221b"/><rect x="347" y="169.7" width="1" height="16.2" fill="#e27770"/><rect x="349" y="184.8" width="3" height="21.2" fill="#7a221b"/><rect x="350" y="185.8" width="1" height="19.2" fill="#e27770"/><rect x="352" y="204.0" width="3" height="19.0" fill="#7a221b"/><rect x="353" y="205.0" width="1" height="17.0" fill="#e27770"/><rect x="355" y="218.0" width="3" height="13.0" fill="#7a221b"/><rect x="356" y="219.0" width="1" height="11.0" fill="#e27770"/><rect x="359" y="235.0" width="1" height="5.0" fill="#4a4a4a"/><rect x="358" y="235.0" width="3" height="3.0" fill="#7a221b"/><rect x="359" y="236.0" width="1" height="1.0" fill="#e27770"/><rect x="362" y="224.0" width="1" height="11.0" fill="#333"/><rect x="361" y="230.0" width="3" height="1" fill="#333"/><rect x="365" y="225.0" width="1" height="6.0" fill="#333"/><rect x="364" y="227.5" width="3" height="1" fill="#333"/><rect x="367" y="176.8" width="1" height="44.2" fill="#2f5a45"/><rect x="366" y="195.0" width="3" height="26.0" fill="#1a6b47"/><rect x="367" y="196.0" width="1" height="24.0" fill="#4ab587"/><rect x="370" y="189.0" width="1" height="11.0" fill="#4a4a4a"/><rect x="369" y="194.0" width="3" height="6.0" fill="#7a221b"/><rect x="370" y="195.0" width="1" height="4.0" fill="#e27770"/><rect x="372" y="195.0" width="3" height="29.0" fill="#7a221b"/><rect x="373" y="196.0" width="1" height="27.0" fill="#e27770"/><rect x="376" y="221.0" width="1" height="9.0" fill="#2f5a45"/><rect x="375" y="221.0" width="3" height="2.0" fill="#1a6b47"/><rect x="379" y="201.0" width="1" height="19.0" fill="#2f5a45"/><rect x="378" y="207.0" width="3" height="13.0" fill="#1a6b47"/><rect x="379" y="208.0" width="1" height="11.0" fill="#4ab587"/><rect x="382" y="200.5" width="1" height="4.5" fill="#333"/><rect x="381" y="200.5" width="3" height="1" fill="#333"/><rect x="384" y="203.0" width="3" height="11.0" fill="#7a221b"/><rect x="385" y="204.0" width="1" height="9.0" fill="#e27770"/><rect x="388" y="209.0" width="1" height="15.0" fill="#2f5a45"/><rect x="387" y="209.0" width="3" height="5.0" fill="#1a6b47"/><rect x="388" y="210.0" width="1" height="3.0" fill="#4ab587"/><rect x="390" y="195.4" width="3" height="15.6" fill="#1a6b47"/><rect x="391" y="196.4" width="1" height="13.6" fill="#4ab587"/><rect x="392" y="195.4" width="3" height="8.6" fill="#7a221b"/><rect x="393" y="196.4" width="1" height="6.6" fill="#e27770"/><rect x="396" y="140.0" width="1" height="62.5" fill="#2f5a45"/><rect x="395" y="169.0" width="3" height="33.5" fill="#1a6b47"/><rect x="396" y="170.0" width="1" height="31.5" fill="#4ab587"/><rect x="399" y="165.6" width="1" height="19.4" fill="#4a4a4a"/><rect x="398" y="165.6" width="3" height="12.8" fill="#7a221b"/><rect x="399" y="166.6" width="1" height="10.8" fill="#e27770"/><rect x="401" y="178.4" width="3" height="12.8" fill="#7a221b"/><rect x="402" y="179.4" width="1" height="10.8" fill="#e27770"/><rect x="405" y="191.0" width="1" height="6.0" fill="#2f5a45"/><rect x="404" y="191.0" width="3" height="2.3" fill="#1a6b47"/><rect x="405" y="192.0" width="1" height="0.3" fill="#4ab587"/><rect x="407" y="191.0" width="3" height="21.5" fill="#7a221b"/><rect x="408" y="192.0" width="1" height="19.5" fill="#e27770"/><rect x="410" y="204.0" width="3" height="8.5" fill="#1a6b47"/><rect x="411" y="205.0" width="1" height="6.5" fill="#4ab587"/><rect x="413" y="202.0" width="1" height="5.5" fill="#4a4a4a"/><rect x="412" y="204.0" width="3" height="3.5" fill="#7a221b"/><rect x="413" y="205.0" width="1" height="1.5" fill="#e27770"/><rect x="415" y="209.7" width="3" height="4.9" fill="#7a221b"/><rect x="416" y="210.7" width="1" height="2.9" fill="#e27770"/><rect x="418" y="195.4" width="3" height="17.1" fill="#1a6b47"/><rect x="419" y="196.4" width="1" height="15.1" fill="#4ab587"/><rect x="421" y="191.0" width="3" height="4.4" fill="#1a6b47"/><rect x="422" y="192.0" width="1" height="2.4" fill="#4ab587"/><rect x="424" y="188.3" width="3" height="7.1" fill="#1a6b47"/><rect x="425" y="189.3" width="1" height="5.1" fill="#4ab587"/><rect x="428" y="188.3" width="1" height="8.7" fill="#4a4a4a"/><rect x="427" y="188.3" width="3" height="3.6" fill="#7a221b"/><rect x="428" y="189.3" width="1" height="1.6" fill="#e27770"/><rect x="430" y="191.0" width="3" height="2.3" fill="#1a6b47"/><rect x="431" y="192.0" width="1" height="0.3" fill="#4ab587"/><rect x="433" y="193.3" width="1" height="21.7" fill="#4a4a4a"/><rect x="432" y="193.3" width="3" height="14.2" fill="#7a221b"/><rect x="433" y="194.3" width="1" height="12.2" fill="#e27770"/><rect x="436" y="188.3" width="1" height="49.1" fill="#2f5a45"/><rect x="435" y="188.3" width="3" height="26.3" fill="#1a6b47"/><rect x="436" y="189.3" width="1" height="24.3" fill="#4ab587"/><rect x="438" y="188.3" width="3" height="12.1" fill="#7a221b"/><rect x="439" y="189.3" width="1" height="10.1" fill="#e27770"/><rect x="441" y="200.4" width="3" height="8.6" fill="#7a221b"/><rect x="442" y="201.4" width="1" height="6.6" fill="#e27770"/><rect x="444" y="202.5" width="3" height="15.0" fill="#7a221b"/><rect x="445" y="203.5" width="1" height="13.0" fill="#e27770"/><rect x="448" y="212.5" width="1" height="31.3" fill="#2f5a45"/><rect x="447" y="212.5" width="3" height="15.5" fill="#1a6b47"/><rect x="448" y="213.5" width="1" height="13.5" fill="#4ab587"/><rect x="450" y="202.5" width="3" height="10.0" fill="#1a6b47"/><rect x="451" y="203.5" width="1" height="8.0" fill="#4ab587"/><rect x="453" y="200.4" width="3" height="7.1" fill="#7a221b"/><rect x="454" y="201.4" width="1" height="5.1" fill="#e27770"/><rect x="456" y="164.0" width="1" height="38.5" fill="#2f5a45"/><rect x="455" y="179.8" width="3" height="22.7" fill="#1a6b47"/><rect x="456" y="180.8" width="1" height="20.7" fill="#4ab587"/><rect x="459" y="165.6" width="1" height="19.9" fill="#4a4a4a"/><rect x="458" y="180.5" width="3" height="2.1" fill="#7a221b"/><rect x="459" y="181.5" width="1" height="0.1" fill="#e27770"/><rect x="462" y="171.0" width="1" height="14.5" fill="#333"/><rect x="461" y="179.5" width="3" height="1" fill="#333"/><rect x="465" y="171.0" width="1" height="14.5" fill="#2f5a45"/><rect x="464" y="171.0" width="3" height="9.0" fill="#1a6b47"/><rect x="465" y="172.0" width="1" height="7.0" fill="#4ab587"/><rect x="467" y="180.5" width="3" height="4.3" fill="#7a221b"/><rect x="468" y="181.5" width="1" height="2.3" fill="#e27770"/><rect x="471" y="182.0" width="1" height="15.6" fill="#4a4a4a"/><rect x="470" y="186.0" width="3" height="11.6" fill="#7a221b"/><rect x="471" y="187.0" width="1" height="9.6" fill="#e27770"/><rect x="474" y="187.0" width="1" height="21.0" fill="#333"/><rect x="473" y="196.0" width="3" height="1" fill="#333"/><rect x="476" y="171.0" width="1" height="31.5" fill="#2f5a45"/><rect x="475" y="179.8" width="3" height="22.7" fill="#1a6b47"/><rect x="476" y="180.8" width="1" height="20.7" fill="#4ab587"/><rect x="479" y="171.0" width="1" height="10.0" fill="#4a4a4a"/><rect x="478" y="176.0" width="3" height="2.4" fill="#7a221b"/><rect x="479" y="177.0" width="1" height="0.4" fill="#e27770"/><rect x="481" y="154.0" width="3" height="24.4" fill="#1a6b47"/><rect x="482" y="155.0" width="1" height="22.4" fill="#4ab587"/><rect x="485" y="146.4" width="1" height="11.6" fill="#2f5a45"/><rect x="484" y="146.4" width="3" height="7.6" fill="#1a6b47"/><rect x="485" y="147.4" width="1" height="5.6" fill="#4ab587"/><rect x="488" y="137.0" width="1" height="17.0" fill="#2f5a45"/><rect x="487" y="146.4" width="3" height="7.6" fill="#1a6b47"/><rect x="488" y="147.4" width="1" height="5.6" fill="#4ab587"/><rect x="491" y="152.0" width="1" height="19.0" fill="#4a4a4a"/><rect x="490" y="154.0" width="3" height="13.7" fill="#7a221b"/><rect x="491" y="155.0" width="1" height="11.7" fill="#e27770"/><rect x="494" y="155.0" width="1" height="10.6" fill="#4a4a4a"/><rect x="493" y="157.7" width="3" height="7.9" fill="#7a221b"/><rect x="494" y="158.7" width="1" height="5.9" fill="#e27770"/><rect x="496" y="162.7" width="3" height="2.9" fill="#7a221b"/><rect x="497" y="163.7" width="1" height="0.9" fill="#e27770"/><rect x="499" y="165.6" width="1" height="27.0" fill="#4a4a4a"/><rect x="498" y="165.6" width="3" height="22.7" fill="#7a221b"/><rect x="499" y="166.6" width="1" height="20.7" fill="#e27770"/><rect x="502" y="180.5" width="1" height="22.0" fill="#4a4a4a"/><rect x="501" y="191.0" width="3" height="11.5" fill="#7a221b"/><rect x="502" y="192.0" width="1" height="9.5" fill="#e27770"/><rect x="505" y="182.6" width="1" height="24.2" fill="#2f5a45"/><rect x="504" y="182.6" width="3" height="19.9" fill="#1a6b47"/><rect x="505" y="183.6" width="1" height="17.9" fill="#4ab587"/><rect x="508" y="183.5" width="1" height="1.0" fill="#333"/><rect x="507" y="183.5" width="3" height="1" fill="#333"/><rect x="510" y="184.0" width="3" height="16.4" fill="#7a221b"/><rect x="511" y="185.0" width="1" height="14.4" fill="#e27770"/><rect x="514" y="171.0" width="1" height="14.5" fill="#2f5a45"/><rect x="513" y="178.4" width="3" height="2.1" fill="#1a6b47"/><rect x="514" y="179.4" width="1" height="0.1" fill="#4ab587"/><rect x="516" y="165.6" width="3" height="14.9" fill="#1a6b47"/><rect x="517" y="166.6" width="1" height="12.9" fill="#4ab587"/><rect x="520" y="165.6" width="1" height="16.4" fill="#2f5a45"/><rect x="519" y="172.0" width="3" height="10.0" fill="#1a6b47"/><rect x="520" y="173.0" width="1" height="8.0" fill="#4ab587"/><rect x="523" y="172.0" width="1" height="18.0" fill="#4a4a4a"/><rect x="522" y="172.0" width="3" height="12.0" fill="#7a221b"/><rect x="523" y="173.0" width="1" height="10.0" fill="#e27770"/><rect x="524" y="180.5" width="3" height="22.0" fill="#7a221b"/><rect x="525" y="181.5" width="1" height="20.0" fill="#e27770"/><rect x="528" y="191.0" width="1" height="6.0" fill="#333"/><rect x="527" y="195.0" width="3" height="1" fill="#333"/><rect x="530" y="197.6" width="3" height="2.8" fill="#7a221b"/><rect x="531" y="198.6" width="1" height="0.8" fill="#e27770"/><rect x="534" y="200.4" width="1" height="11.4" fill="#2f5a45"/><rect x="533" y="200.4" width="3" height="2.1" fill="#1a6b47"/><rect x="534" y="201.4" width="1" height="0.1" fill="#4ab587"/><rect x="536" y="200.4" width="3" height="2.6" fill="#1a6b47"/><rect x="537" y="201.4" width="1" height="0.6" fill="#4ab587"/><rect x="540" y="196.5" width="1" height="1.0" fill="#333"/><rect x="539" y="196.5" width="3" height="1" fill="#333"/><rect x="542" y="176.5" width="1" height="5.0" fill="#333"/><rect x="541" y="179.5" width="3" height="1" fill="#333"/><rect x="545" y="199.5" width="1" height="3.0" fill="#333"/><rect x="544" y="201.5" width="3" height="1" fill="#333"/><rect x="547" y="174.6" width="3" height="16.2" fill="#1a6b47"/><rect x="548" y="175.6" width="1" height="14.2" fill="#4ab587"/><rect x="550" y="172.7" width="3" height="1.9" fill="#1a6b47"/><rect x="553" y="178.4" width="3" height="3.8" fill="#7a221b"/><rect x="554" y="179.4" width="1" height="1.8" fill="#e27770"/><rect x="557" y="177.0" width="1" height="3.0" fill="#333"/><rect x="556" y="179.0" width="3" height="1" fill="#333"/><rect x="560" y="180.3" width="1" height="16.1" fill="#2f5a45"/><rect x="559" y="180.3" width="3" height="2.9" fill="#1a6b47"/><rect x="560" y="181.3" width="1" height="0.9" fill="#4ab587"/><rect x="562" y="181.3" width="3" height="6.7" fill="#7a221b"/><rect x="563" y="182.3" width="1" height="4.7" fill="#e27770"/><rect x="565" y="181.0" width="1" height="1.0" fill="#333"/><rect x="564" y="181.0" width="3" height="1" fill="#333"/><rect x="567" y="180.3" width="3" height="5.7" fill="#7a221b"/><rect x="568" y="181.3" width="1" height="3.7" fill="#e27770"/><rect x="571" y="184.5" width="1" height="1.0" fill="#333"/><rect x="570" y="184.5" width="3" height="1" fill="#333"/><rect x="574" y="184.5" width="1" height="1.0" fill="#333"/><rect x="573" y="184.5" width="3" height="1" fill="#333"/><rect x="576" y="186.0" width="3" height="11.4" fill="#7a221b"/><rect x="577" y="187.0" width="1" height="9.4" fill="#e27770"/><rect x="579" y="191.7" width="3" height="4.7" fill="#1a6b47"/><rect x="580" y="192.7" width="1" height="2.7" fill="#4ab587"/><rect x="583" y="186.0" width="1" height="9.5" fill="#4a4a4a"/><rect x="582" y="191.7" width="3" height="3.8" fill="#7a221b"/><rect x="583" y="192.7" width="1" height="1.8" fill="#e27770"/><rect x="586" y="182.0" width="1" height="43.0" fill="#4a4a4a"/><rect x="585" y="184.0" width="3" height="37.0" fill="#7a221b"/><rect x="586" y="185.0" width="1" height="35.0" fill="#e27770"/><rect x="588" y="197.4" width="1" height="33.2" fill="#2f5a45"/><rect x="587" y="197.4" width="3" height="22.6" fill="#1a6b47"/><rect x="588" y="198.4" width="1" height="20.6" fill="#4ab587"/><rect x="591" y="187.0" width="1" height="25.5" fill="#2f5a45"/><rect x="590" y="187.0" width="3" height="18.0" fill="#1a6b47"/><rect x="591" y="188.0" width="1" height="16.0" fill="#4ab587"/><rect x="593" y="182.2" width="3" height="29.4" fill="#7a221b"/><rect x="594" y="183.2" width="1" height="27.4" fill="#e27770"/><rect x="596" y="186.0" width="3" height="23.7" fill="#1a6b47"/><rect x="597" y="187.0" width="1" height="21.7" fill="#4ab587"/><rect x="600" y="171.8" width="1" height="14.2" fill="#2f5a45"/><rect x="599" y="171.8" width="3" height="12.2" fill="#1a6b47"/><rect x="600" y="172.8" width="1" height="10.2" fill="#4ab587"/><rect x="602" y="171.8" width="3" height="2.5" fill="#7a221b"/><rect x="603" y="172.8" width="1" height="0.5" fill="#e27770"/><rect x="606" y="171.8" width="1" height="30.2" fill="#4a4a4a"/><rect x="605" y="178.4" width="3" height="23.6" fill="#7a221b"/><rect x="606" y="179.4" width="1" height="21.6" fill="#e27770"/><rect x="608" y="202.0" width="1" height="10.0" fill="#4a4a4a"/><rect x="607" y="202.0" width="3" height="7.7" fill="#7a221b"/><rect x="608" y="203.0" width="1" height="5.7" fill="#e27770"/><rect x="611" y="212.6" width="1" height="41.7" fill="#4a4a4a"/><rect x="610" y="212.6" width="3" height="22.7" fill="#7a221b"/><rect x="611" y="213.6" width="1" height="20.7" fill="#e27770"/><rect x="614" y="228.7" width="1" height="64.3" fill="#4a4a4a"/><rect x="613" y="228.7" width="3" height="34.1" fill="#7a221b"/><rect x="614" y="229.7" width="1" height="32.1" fill="#e27770"/><rect x="617" y="231.5" width="1" height="27.5" fill="#2f5a45"/><rect x="616" y="241.0" width="3" height="18.0" fill="#1a6b47"/><rect x="617" y="242.0" width="1" height="16.0" fill="#4ab587"/><rect x="620" y="202.0" width="1" height="33.3" fill="#2f5a45"/><rect x="619" y="231.5" width="3" height="3.8" fill="#1a6b47"/><rect x="620" y="232.5" width="1" height="1.8" fill="#4ab587"/><rect x="623" y="207.0" width="1" height="36.8" fill="#4a4a4a"/><rect x="622" y="220.0" width="3" height="23.8" fill="#7a221b"/><rect x="623" y="221.0" width="1" height="21.8" fill="#e27770"/><rect x="626" y="228.0" width="1" height="23.4" fill="#4a4a4a"/><rect x="625" y="243.8" width="3" height="7.6" fill="#7a221b"/><rect x="626" y="244.8" width="1" height="5.6" fill="#e27770"/><rect x="628" y="243.8" width="3" height="11.4" fill="#7a221b"/><rect x="629" y="244.8" width="1" height="9.4" fill="#e27770"/><rect x="630" y="248.6" width="3" height="2.8" fill="#1a6b47"/><rect x="631" y="249.6" width="1" height="0.8" fill="#4ab587"/><rect x="634" y="235.0" width="1" height="19.0" fill="#4a4a4a"/><rect x="633" y="238.0" width="3" height="5.8" fill="#7a221b"/><rect x="634" y="239.0" width="1" height="3.8" fill="#e27770"/><rect x="637" y="244.8" width="1" height="13.2" fill="#4a4a4a"/><rect x="636" y="244.8" width="3" height="3.8" fill="#7a221b"/><rect x="637" y="245.8" width="1" height="1.8" fill="#e27770"/><rect x="640" y="244.0" width="1" height="7.4" fill="#4a4a4a"/><rect x="639" y="248.6" width="3" height="2.8" fill="#7a221b"/><rect x="640" y="249.6" width="1" height="0.8" fill="#e27770"/><rect x="643" y="244.0" width="1" height="8.0" fill="#333"/><rect x="642" y="251.0" width="3" height="1" fill="#333"/><rect x="645" y="259.3" width="3" height="12.4" fill="#7a221b"/><rect x="646" y="260.3" width="1" height="10.4" fill="#e27770"/><rect x="648" y="271.7" width="3" height="8.9" fill="#7a221b"/><rect x="649" y="272.7" width="1" height="6.9" fill="#e27770"/><rect x="651" y="280.6" width="3" height="13.0" fill="#7a221b"/><rect x="652" y="281.6" width="1" height="11.0" fill="#e27770"/><rect x="653" y="290.0" width="3" height="9.3" fill="#7a221b"/><rect x="654" y="291.0" width="1" height="7.3" fill="#e27770"/><rect x="657" y="299.7" width="1" height="30.9" fill="#4a4a4a"/><rect x="656" y="305.0" width="3" height="25.6" fill="#7a221b"/><rect x="657" y="306.0" width="1" height="23.6" fill="#e27770"/><rect x="660" y="317.8" width="1" height="11.8" fill="#2f5a45"/><rect x="659" y="317.8" width="3" height="5.2" fill="#1a6b47"/><rect x="660" y="318.8" width="1" height="3.2" fill="#4ab587"/><rect x="662" y="284.7" width="3" height="33.1" fill="#1a6b47"/><rect x="663" y="285.7" width="1" height="31.1" fill="#4ab587"/><rect x="665" y="251.5" width="3" height="65.3" fill="#7a221b"/><rect x="666" y="252.5" width="1" height="63.3" fill="#e27770"/><rect x="669" y="294.4" width="1" height="28.6" fill="#4a4a4a"/><rect x="668" y="311.4" width="3" height="11.6" fill="#7a221b"/><rect x="669" y="312.4" width="1" height="9.6" fill="#e27770"/><rect x="670" y="311.4" width="3" height="19.2" fill="#1a6b47"/><rect x="671" y="312.4" width="1" height="17.2" fill="#4ab587"/><rect x="673" y="311.4" width="3" height="19.2" fill="#7a221b"/><rect x="674" y="312.4" width="1" height="17.2" fill="#e27770"/><rect x="676" y="330.6" width="3" height="6.4" fill="#1a6b47"/><rect x="677" y="331.6" width="1" height="4.4" fill="#4ab587"/><rect x="680" y="330.6" width="1" height="31.0" fill="#333"/><rect x="679" y="336.5" width="3" height="1" fill="#333"/><rect x="682" y="325.3" width="3" height="20.3" fill="#1a6b47"/><rect x="683" y="326.3" width="1" height="18.3" fill="#4ab587"/><rect x="686" y="311.4" width="1" height="14.4" fill="#333"/><rect x="685" y="324.8" width="3" height="1" fill="#333"/><rect x="689" y="332.8" width="3" height="6.4" fill="#7a221b"/><rect x="690" y="333.8" width="1" height="4.4" fill="#e27770"/><rect x="691" y="332.8" width="3" height="6.4" fill="#1a6b47"/><rect x="692" y="333.8" width="1" height="4.4" fill="#4ab587"/><rect x="694" y="339.2" width="3" height="9.6" fill="#7a221b"/><rect x="695" y="340.2" width="1" height="7.6" fill="#e27770"/><rect x="696" y="348.8" width="3" height="7.4" fill="#7a221b"/><rect x="697" y="349.8" width="1" height="5.4" fill="#e27770"/><rect x="699" y="356.2" width="3" height="9.6" fill="#7a221b"/><rect x="700" y="357.2" width="1" height="7.6" fill="#e27770"/><rect x="703" y="365.3" width="1" height="10.1" fill="#333"/><rect x="702" y="365.3" width="3" height="1" fill="#333"/><rect x="706" y="365.3" width="1" height="10.1" fill="#333"/><rect x="705" y="365.3" width="3" height="1" fill="#333"/><rect x="708" y="365.8" width="3" height="21.2" fill="#7a221b"/><rect x="709" y="366.8" width="1" height="19.2" fill="#e27770"/><rect x="712" y="386.5" width="1" height="1.0" fill="#333"/><rect x="711" y="386.5" width="3" height="1" fill="#333"/><rect x="715" y="311.0" width="1" height="102.8" fill="#2f5a45"/><rect x="714" y="325.3" width="3" height="61.7" fill="#1a6b47"/><rect x="715" y="326.3" width="1" height="59.7" fill="#4ab587"/><rect x="718" y="279.5" width="1" height="44.7" fill="#4a4a4a"/><rect x="717" y="311.4" width="3" height="12.8" fill="#7a221b"/><rect x="718" y="312.4" width="1" height="10.8" fill="#e27770"/><rect x="720" y="319.0" width="3" height="20.2" fill="#7a221b"/><rect x="721" y="320.0" width="1" height="18.2" fill="#e27770"/><rect x="722" y="311.4" width="3" height="27.8" fill="#1a6b47"/><rect x="723" y="312.4" width="1" height="25.8" fill="#4ab587"/><rect x="726" y="311.4" width="1" height="35.2" fill="#2f5a45"/><rect x="725" y="311.4" width="3" height="13.9" fill="#1a6b47"/><rect x="726" y="312.4" width="1" height="11.9" fill="#4ab587"/><rect x="729" y="325.3" width="1" height="21.3" fill="#4a4a4a"/><rect x="728" y="325.3" width="3" height="7.5" fill="#7a221b"/><rect x="729" y="326.3" width="1" height="5.5" fill="#e27770"/><rect x="731" y="339.2" width="3" height="8.5" fill="#7a221b"/><rect x="732" y="340.2" width="1" height="6.5" fill="#e27770"/><rect x="734" y="339.2" width="3" height="26.6" fill="#7a221b"/><rect x="735" y="340.2" width="1" height="24.6" fill="#e27770"/><rect x="738" y="356.2" width="1" height="10.1" fill="#333"/><rect x="737" y="365.3" width="3" height="1" fill="#333"/><rect x="740" y="339.2" width="3" height="8.5" fill="#1a6b47"/><rect x="741" y="340.2" width="1" height="6.5" fill="#4ab587"/><rect x="742" y="339.2" width="3" height="17.0" fill="#1a6b47"/><rect x="743" y="340.2" width="1" height="15.0" fill="#4ab587"/><rect x="745" y="319.0" width="3" height="20.2" fill="#1a6b47"/><rect x="746" y="320.0" width="1" height="18.2" fill="#4ab587"/><rect x="749" y="300.8" width="1" height="18.2" fill="#2f5a45"/><rect x="748" y="305.0" width="3" height="14.0" fill="#1a6b47"/><rect x="749" y="306.0" width="1" height="12.0" fill="#4ab587"/><rect x="752" y="294.4" width="1" height="17.0" fill="#4a4a4a"/><rect x="751" y="300.8" width="3" height="10.6" fill="#7a221b"/><rect x="752" y="301.8" width="1" height="8.6" fill="#e27770"/><rect x="754" y="311.4" width="3" height="7.6" fill="#7a221b"/><rect x="755" y="312.4" width="1" height="5.6" fill="#e27770"/><rect x="757" y="319.0" width="3" height="6.3" fill="#7a221b"/><rect x="758" y="320.0" width="1" height="4.3" fill="#e27770"/><rect x="760" y="305.0" width="3" height="14.0" fill="#1a6b47"/><rect x="761" y="306.0" width="1" height="12.0" fill="#4ab587"/><rect x="762" y="294.4" width="3" height="6.4" fill="#1a6b47"/><rect x="763" y="295.4" width="1" height="4.4" fill="#4ab587"/><rect x="766" y="289.0" width="1" height="22.4" fill="#4a4a4a"/><rect x="765" y="294.4" width="3" height="17.0" fill="#7a221b"/><rect x="766" y="295.4" width="1" height="15.0" fill="#e27770"/><rect x="769" y="311.0" width="1" height="13.2" fill="#333"/><rect x="768" y="311.0" width="3" height="1" fill="#333"/><rect x="772" y="311.0" width="1" height="6.8" fill="#333"/><rect x="771" y="311.0" width="3" height="1" fill="#333"/><rect x="774" y="311.4" width="3" height="7.6" fill="#1a6b47"/><rect x="775" y="312.4" width="1" height="5.6" fill="#4ab587"/><rect x="777" y="300.8" width="3" height="18.2" fill="#1a6b47"/><rect x="778" y="301.8" width="1" height="16.2" fill="#4ab587"/><rect x="781" y="289.0" width="1" height="16.0" fill="#2f5a45"/><rect x="780" y="294.4" width="3" height="10.6" fill="#1a6b47"/><rect x="781" y="295.4" width="1" height="8.6" fill="#4ab587"/><rect x="783" y="300.3" width="1" height="4.7" fill="#333"/><rect x="782" y="300.3" width="3" height="1" fill="#333"/><rect x="786" y="294.4" width="1" height="10.6" fill="#333"/><rect x="785" y="300.3" width="3" height="1" fill="#333"/><rect x="789" y="279.5" width="1" height="38.3" fill="#2f5a45"/><rect x="788" y="279.5" width="3" height="25.5" fill="#1a6b47"/><rect x="789" y="280.5" width="1" height="23.5" fill="#4ab587"/><rect x="792" y="274.0" width="1" height="20.4" fill="#4a4a4a"/><rect x="791" y="274.0" width="3" height="10.8" fill="#7a221b"/><rect x="792" y="275.0" width="1" height="8.8" fill="#e27770"/><rect x="795" y="274.0" width="1" height="18.3" fill="#2f5a45"/><rect x="794" y="274.0" width="3" height="10.8" fill="#1a6b47"/><rect x="795" y="275.0" width="1" height="8.8" fill="#4ab587"/><rect x="798" y="261.3" width="1" height="12.7" fill="#2f5a45"/><rect x="797" y="265.6" width="3" height="8.4" fill="#1a6b47"/><rect x="798" y="266.6" width="1" height="6.4" fill="#4ab587"/><rect x="801" y="252.8" width="1" height="17.2" fill="#333"/><rect x="800" y="265.0" width="3" height="1" fill="#333"/><rect x="804" y="256.7" width="1" height="21.8" fill="#4a4a4a"/><rect x="803" y="264.3" width="3" height="14.2" fill="#7a221b"/><rect x="804" y="265.3" width="1" height="12.2" fill="#e27770"/><rect x="807" y="270.0" width="1" height="9.4" fill="#4a4a4a"/><rect x="806" y="273.7" width="3" height="5.7" fill="#7a221b"/><rect x="807" y="274.7" width="1" height="3.7" fill="#e27770"/><rect x="809" y="279.4" width="1" height="19.9" fill="#4a4a4a"/><rect x="808" y="279.4" width="3" height="5.6" fill="#7a221b"/><rect x="809" y="280.4" width="1" height="3.6" fill="#e27770"/><rect x="812" y="273.7" width="1" height="15.3" fill="#2f5a45"/><rect x="811" y="273.7" width="3" height="10.5" fill="#1a6b47"/><rect x="812" y="274.7" width="1" height="8.5" fill="#4ab587"/><rect x="814" y="265.2" width="3" height="13.3" fill="#1a6b47"/><rect x="815" y="266.2" width="1" height="11.3" fill="#4ab587"/><rect x="817" y="236.8" width="1" height="32.2" fill="#2f5a45"/><rect x="816" y="236.8" width="3" height="28.4" fill="#1a6b47"/><rect x="817" y="237.8" width="1" height="26.4" fill="#4ab587"/><rect x="821" y="224.5" width="1" height="22.7" fill="#4a4a4a"/><rect x="820" y="235.8" width="3" height="11.4" fill="#7a221b"/><rect x="821" y="236.8" width="1" height="9.4" fill="#e27770"/><rect x="822" y="229.2" width="3" height="17.1" fill="#1a6b47"/><rect x="823" y="230.2" width="1" height="15.1" fill="#4ab587"/><rect x="825" y="226.4" width="3" height="5.6" fill="#7a221b"/><rect x="826" y="227.4" width="1" height="3.6" fill="#e27770"/><rect x="829" y="209.3" width="1" height="19.9" fill="#2f5a45"/><rect x="828" y="226.4" width="3" height="2.8" fill="#1a6b47"/><rect x="829" y="227.4" width="1" height="0.8" fill="#4ab587"/><rect x="832" y="213.0" width="1" height="15.2" fill="#333"/><rect x="831" y="227.0" width="3" height="1" fill="#333"/><rect x="835" y="175.2" width="1" height="45.5" fill="#2f5a45"/><rect x="834" y="198.9" width="3" height="21.8" fill="#1a6b47"/><rect x="835" y="199.9" width="1" height="19.8" fill="#4ab587"/><rect x="838" y="191.3" width="1" height="8.5" fill="#333"/><rect x="837" y="193.5" width="3" height="1" fill="#333"/><rect x="841" y="179.0" width="1" height="23.7" fill="#2f5a45"/><rect x="840" y="187.5" width="3" height="9.5" fill="#1a6b47"/><rect x="841" y="188.5" width="1" height="7.5" fill="#4ab587"/><rect x="843" y="185.6" width="3" height="11.4" fill="#7a221b"/><rect x="844" y="186.6" width="1" height="9.4" fill="#e27770"/><rect x="847" y="197.0" width="1" height="5.7" fill="#333"/><rect x="846" y="197.5" width="3" height="1" fill="#333"/><rect x="850" y="196.0" width="1" height="39.0" fill="#4a4a4a"/><rect x="849" y="196.0" width="3" height="33.2" fill="#7a221b"/><rect x="850" y="197.0" width="1" height="31.2" fill="#e27770"/><rect x="853" y="217.8" width="1" height="18.0" fill="#2f5a45"/><rect x="852" y="217.8" width="3" height="7.6" fill="#1a6b47"/><rect x="853" y="218.8" width="1" height="5.6" fill="#4ab587"/><rect x="854" y="217.8" width="3" height="5.7" fill="#7a221b"/><rect x="855" y="218.8" width="1" height="3.7" fill="#e27770"/><rect x="858" y="223.5" width="1" height="7.5" fill="#4a4a4a"/><rect x="857" y="223.5" width="3" height="2.9" fill="#7a221b"/><rect x="858" y="224.5" width="1" height="0.9" fill="#e27770"/><rect x="860" y="226.4" width="3" height="31.2" fill="#7a221b"/><rect x="861" y="227.4" width="1" height="29.2" fill="#e27770"/><rect x="864" y="252.9" width="1" height="30.3" fill="#2f5a45"/><rect x="863" y="252.9" width="3" height="13.3" fill="#1a6b47"/><rect x="864" y="253.9" width="1" height="11.3" fill="#4ab587"/><rect x="867" y="232.0" width="1" height="18.0" fill="#2f5a45"/><rect x="866" y="235.8" width="3" height="14.2" fill="#1a6b47"/><rect x="867" y="236.8" width="1" height="12.2" fill="#4ab587"/><rect x="870" y="235.8" width="1" height="10.5" fill="#4a4a4a"/><rect x="869" y="239.6" width="3" height="6.7" fill="#7a221b"/><rect x="870" y="240.6" width="1" height="4.7" fill="#e27770"/><rect x="873" y="239.6" width="1" height="10.4" fill="#4a4a4a"/><rect x="872" y="246.3" width="3" height="3.7" fill="#7a221b"/><rect x="873" y="247.3" width="1" height="1.7" fill="#e27770"/><rect x="875" y="252.5" width="1" height="8.0" fill="#333"/><rect x="874" y="252.5" width="3" height="1" fill="#333"/><rect x="877" y="252.9" width="3" height="4.7" fill="#1a6b47"/><rect x="878" y="253.9" width="1" height="2.7" fill="#4ab587"/><rect x="881" y="257.6" width="1" height="11.4" fill="#4a4a4a"/><rect x="880" y="257.6" width="3" height="8.6" fill="#7a221b"/><rect x="881" y="258.6" width="1" height="6.6" fill="#e27770"/><rect x="883" y="226.4" width="3" height="31.2" fill="#1a6b47"/><rect x="884" y="227.4" width="1" height="29.2" fill="#4ab587"/><rect x="887" y="216.9" width="1" height="28.4" fill="#2f5a45"/><rect x="886" y="220.7" width="3" height="2.8" fill="#1a6b47"/><rect x="887" y="221.7" width="1" height="0.8" fill="#4ab587"/><rect x="889" y="226.4" width="3" height="16.1" fill="#7a221b"/><rect x="890" y="227.4" width="1" height="14.1" fill="#e27770"/><rect x="893" y="214.0" width="1" height="22.8" fill="#2f5a45"/><rect x="892" y="216.9" width="3" height="19.9" fill="#1a6b47"/><rect x="893" y="217.9" width="1" height="17.9" fill="#4ab587"/><rect x="894" y="217.8" width="3" height="2.9" fill="#1a6b47"/><rect x="895" y="218.8" width="1" height="0.9" fill="#4ab587"/><rect x="898" y="198.9" width="1" height="26.5" fill="#2f5a45"/><rect x="897" y="198.9" width="3" height="18.9" fill="#1a6b47"/><rect x="898" y="199.9" width="1" height="16.9" fill="#4ab587"/><rect x="901" y="191.3" width="1" height="17.0" fill="#333"/><rect x="900" y="199.5" width="3" height="1" fill="#333"/><rect x="904" y="199.5" width="1" height="1.0" fill="#333"/><rect x="903" y="199.5" width="3" height="1" fill="#333"/><rect x="907" y="196.0" width="1" height="12.3" fill="#4a4a4a"/><rect x="906" y="196.0" width="3" height="8.5" fill="#7a221b"/><rect x="907" y="197.0" width="1" height="6.5" fill="#e27770"/><rect x="910" y="199.8" width="1" height="25.6" fill="#333"/><rect x="909" y="210.0" width="3" height="1" fill="#333"/><rect x="913" y="198.9" width="1" height="12.3" fill="#333"/><rect x="912" y="208.0" width="3" height="1" fill="#333"/><rect x="915" y="206.4" width="3" height="14.3" fill="#7a221b"/><rect x="916" y="207.4" width="1" height="12.3" fill="#e27770"/><rect x="919" y="214.0" width="1" height="14.2" fill="#4a4a4a"/><rect x="918" y="214.0" width="3" height="9.5" fill="#7a221b"/><rect x="919" y="215.0" width="1" height="7.5" fill="#e27770"/><rect x="921" y="213.0" width="1" height="15.2" fill="#2f5a45"/><rect x="920" y="213.0" width="3" height="10.5" fill="#1a6b47"/><rect x="921" y="214.0" width="1" height="8.5" fill="#4ab587"/><rect x="924" y="205.5" width="1" height="18.0" fill="#2f5a45"/><rect x="923" y="212.0" width="3" height="11.5" fill="#1a6b47"/><rect x="924" y="213.0" width="1" height="9.5" fill="#4ab587"/><rect x="926" y="212.0" width="3" height="8.7" fill="#1a6b47"/><rect x="927" y="213.0" width="1" height="6.7" fill="#4ab587"/><rect x="929" y="220.7" width="3" height="5.7" fill="#7a221b"/><rect x="930" y="221.7" width="1" height="3.7" fill="#e27770"/><rect x="932" y="220.7" width="3" height="2.8" fill="#1a6b47"/><rect x="933" y="221.7" width="1" height="0.8" fill="#4ab587"/><rect x="935" y="220.7" width="3" height="5.7" fill="#7a221b"/><rect x="936" y="221.7" width="1" height="3.7" fill="#e27770"/><rect x="938" y="223.5" width="3" height="16.1" fill="#7a221b"/><rect x="939" y="224.5" width="1" height="14.1" fill="#e27770"/><rect x="940" y="236.8" width="3" height="5.7" fill="#7a221b"/><rect x="941" y="237.8" width="1" height="3.7" fill="#e27770"/><rect x="944" y="242.0" width="1" height="27.2" fill="#4a4a4a"/><rect x="943" y="242.0" width="3" height="11.0" fill="#7a221b"/><rect x="944" y="243.0" width="1" height="9.0" fill="#e27770"/><rect x="947" y="253.2" width="1" height="8.4" fill="#4a4a4a"/><rect x="946" y="257.0" width="3" height="4.6" fill="#7a221b"/><rect x="947" y="258.0" width="1" height="2.6" fill="#e27770"/><rect x="949" y="261.6" width="3" height="3.8" fill="#7a221b"/><rect x="950" y="262.6" width="1" height="1.8" fill="#e27770"/><rect x="953" y="255.0" width="1" height="10.4" fill="#2f5a45"/><rect x="952" y="257.0" width="3" height="8.4" fill="#1a6b47"/><rect x="953" y="258.0" width="1" height="6.4" fill="#4ab587"/><rect x="956" y="257.0" width="1" height="21.0" fill="#4a4a4a"/><rect x="955" y="257.0" width="3" height="18.0" fill="#7a221b"/><rect x="956" y="258.0" width="1" height="16.0" fill="#e27770"/><rect x="958" y="265.4" width="3" height="8.6" fill="#1a6b47"/><rect x="959" y="266.4" width="1" height="6.6" fill="#4ab587"/><rect x="960" y="261.6" width="3" height="3.8" fill="#7a221b"/><rect x="961" y="262.6" width="1" height="1.8" fill="#e27770"/><rect x="963" y="261.6" width="3" height="3.8" fill="#7a221b"/><rect x="964" y="262.6" width="1" height="1.8" fill="#e27770"/><rect x="966" y="265.4" width="3" height="29.6" fill="#7a221b"/><rect x="967" y="266.4" width="1" height="27.6" fill="#e27770"/><rect x="970" y="284.5" width="1" height="15.2" fill="#4a4a4a"/><rect x="969" y="284.5" width="3" height="10.5" fill="#7a221b"/><rect x="970" y="285.5" width="1" height="8.5" fill="#e27770"/><rect x="972" y="270.3" width="3" height="24.7" fill="#1a6b47"/><rect x="973" y="271.3" width="1" height="22.7" fill="#4ab587"/><rect x="974" y="265.4" width="3" height="4.9" fill="#1a6b47"/><rect x="975" y="266.4" width="1" height="2.9" fill="#4ab587"/><rect x="979" y="250.4" width="1" height="37.9" fill="#2f5a45"/><rect x="978" y="250.4" width="3" height="15.0" fill="#1a6b47"/><rect x="979" y="251.4" width="1" height="13.0" fill="#4ab587"/><rect x="981" y="250.4" width="3" height="19.9" fill="#7a221b"/><rect x="982" y="251.4" width="1" height="17.9" fill="#e27770"/><rect x="984" y="270.3" width="1" height="35.1" fill="#4a4a4a"/><rect x="983" y="270.3" width="3" height="24.7" fill="#7a221b"/><rect x="984" y="271.3" width="1" height="22.7" fill="#e27770"/><rect x="987" y="260.8" width="1" height="34.2" fill="#2f5a45"/><rect x="986" y="270.3" width="3" height="24.7" fill="#1a6b47"/><rect x="987" y="271.3" width="1" height="22.7" fill="#4ab587"/><rect x="990" y="265.4" width="1" height="18.2" fill="#4a4a4a"/><rect x="989" y="265.4" width="3" height="14.4" fill="#7a221b"/><rect x="990" y="266.4" width="1" height="12.4" fill="#e27770"/><rect x="993" y="279.8" width="1" height="15.2" fill="#4a4a4a"/><rect x="992" y="284.5" width="3" height="10.5" fill="#7a221b"/><rect x="993" y="285.5" width="1" height="8.5" fill="#e27770"/><rect x="996" y="290.2" width="1" height="8.5" fill="#4a4a4a"/><rect x="995" y="290.2" width="3" height="4.8" fill="#7a221b"/><rect x="996" y="291.2" width="1" height="2.8" fill="#e27770"/><rect x="998" y="295.0" width="3" height="10.4" fill="#7a221b"/><rect x="999" y="296.0" width="1" height="8.4" fill="#e27770"/><rect x="1002" y="305.4" width="1" height="19.0" fill="#4a4a4a"/><rect x="1001" y="305.4" width="3" height="13.3" fill="#7a221b"/><rect x="1002" y="306.4" width="1" height="11.3" fill="#e27770"/><rect x="1005" y="312.0" width="1" height="12.4" fill="#2f5a45"/><rect x="1004" y="312.0" width="3" height="6.7" fill="#1a6b47"/><rect x="1005" y="313.0" width="1" height="4.7" fill="#4ab587"/><rect x="1007" y="289.3" width="1" height="22.7" fill="#2f5a45"/><rect x="1006" y="294.0" width="3" height="18.0" fill="#1a6b47"/><rect x="1007" y="295.0" width="1" height="16.0" fill="#4ab587"/><rect x="1009" y="289.3" width="3" height="5.7" fill="#7a221b"/><rect x="1010" y="290.3" width="1" height="3.7" fill="#e27770"/><rect x="1013" y="295.0" width="1" height="22.7" fill="#2f5a45"/><rect x="1012" y="295.0" width="3" height="10.4" fill="#1a6b47"/><rect x="1013" y="296.0" width="1" height="8.4" fill="#4ab587"/><rect x="1016" y="284.5" width="1" height="20.9" fill="#2f5a45"/><rect x="1015" y="289.3" width="3" height="16.1" fill="#1a6b47"/><rect x="1016" y="290.3" width="1" height="14.1" fill="#4ab587"/><rect x="1018" y="284.5" width="3" height="20.9" fill="#7a221b"/><rect x="1019" y="285.5" width="1" height="18.9" fill="#e27770"/><rect x="1022" y="289.3" width="1" height="16.1" fill="#4a4a4a"/><rect x="1021" y="300.6" width="3" height="4.8" fill="#7a221b"/><rect x="1022" y="301.6" width="1" height="2.8" fill="#e27770"/><rect x="1024" y="295.0" width="3" height="10.4" fill="#7a221b"/><rect x="1025" y="296.0" width="1" height="8.4" fill="#e27770"/><rect x="1027" y="300.6" width="1" height="11.4" fill="#4a4a4a"/><rect x="1026" y="308.2" width="3" height="3.8" fill="#7a221b"/><rect x="1027" y="309.2" width="1" height="1.8" fill="#e27770"/><rect x="1030" y="284.5" width="1" height="23.5" fill="#2f5a45"/><rect x="1029" y="284.5" width="3" height="22.8" fill="#1a6b47"/><rect x="1030" y="285.5" width="1" height="20.8" fill="#4ab587"/><rect x="1032" y="312.0" width="3" height="13.3" fill="#7a221b"/><rect x="1033" y="313.0" width="1" height="11.3" fill="#e27770"/><rect x="1036" y="325.3" width="1" height="21.7" fill="#4a4a4a"/><rect x="1035" y="325.3" width="3" height="14.2" fill="#7a221b"/><rect x="1036" y="326.3" width="1" height="12.2" fill="#e27770"/><rect x="1039" y="325.3" width="1" height="21.7" fill="#4a4a4a"/><rect x="1038" y="325.3" width="3" height="18.0" fill="#7a221b"/><rect x="1039" y="326.3" width="1" height="16.0" fill="#e27770"/><rect x="1042" y="325.3" width="1" height="14.2" fill="#2f5a45"/><rect x="1041" y="332.0" width="3" height="7.5" fill="#1a6b47"/><rect x="1042" y="333.0" width="1" height="5.5" fill="#4ab587"/><rect x="1045" y="332.0" width="1" height="17.0" fill="#4a4a4a"/><rect x="1044" y="339.5" width="3" height="9.5" fill="#7a221b"/><rect x="1045" y="340.5" width="1" height="7.5" fill="#e27770"/><rect x="1048" y="300.6" width="1" height="65.4" fill="#2f5a45"/><rect x="1047" y="305.4" width="3" height="43.6" fill="#1a6b47"/><rect x="1048" y="306.4" width="1" height="41.6" fill="#4ab587"/></g>
<line x1="158.8" y1="-1" x2="1320" y2="300" stroke="#d21822" stroke-width="2.4" stroke-linecap="round"/>
<line x1="896" y1="183.3" x2="1119" y2="351" stroke="#d21822" stroke-width="2.4" stroke-linecap="round"/>
<g><rect x="-1" y="635.5" width="3" height="1" fill="#7cd6b0" opacity="0.7"/><rect x="2" y="635.5" width="3" height="1" fill="#f3a9a3" opacity="0.7"/><rect x="5" y="635.5" width="3" height="1" fill="#7cd6b0" opacity="0.7"/><rect x="8" y="635.5" width="3" height="1" fill="#f3a9a3" opacity="0.7"/><rect x="11" y="635.5" width="3" height="1" fill="#f3a9a3" opacity="0.7"/><rect x="13" y="629.5" width="3" height="7.0" fill="#fbccc8"/><rect x="13" y="629.5" width="0.8" height="7.0" fill="#f3a9a3"/><rect x="15.3" y="629.5" width="0.7" height="7.0" fill="#f3a9a3"/><rect x="13" y="629.5" width="3" height="0.8" fill="#f3a9a3"/><rect x="16" y="635.5" width="3" height="1" fill="#f3a9a3" opacity="0.7"/><rect x="19" y="635.5" width="3" height="1" fill="#7cd6b0" opacity="0.7"/><rect x="22" y="635.5" width="3" height="1" fill="#7cd6b0" opacity="0.7"/><rect x="25" y="635.5" width="3" height="1" fill="#f3a9a3" opacity="0.7"/><rect x="28" y="635.5" width="3" height="1" fill="#f3a9a3" opacity="0.7"/><rect x="31" y="635.5" width="3" height="1" fill="#7cd6b0" opacity="0.7"/><rect x="34" y="635.5" width="3" height="1" fill="#f3a9a3" opacity="0.7"/><rect x="36" y="635.5" width="3" height="1" fill="#f3a9a3" opacity="0.7"/><rect x="39" y="635.5" width="3" height="1" fill="#f3a9a3" opacity="0.7"/><rect x="42" y="635.5" width="3" height="1" fill="#f3a9a3" opacity="0.7"/><rect x="45" y="635.5" width="3" height="1" fill="#f3a9a3" opacity="0.7"/><rect x="48" y="635.5" width="3" height="1" fill="#7cd6b0" opacity="0.7"/><rect x="51" y="635.5" width="3" height="1" fill="#f3a9a3" opacity="0.7"/><rect x="54" y="635.5" width="3" height="1" fill="#7cd6b0" opacity="0.7"/><rect x="56" y="635.5" width="3" height="1" fill="#7cd6b0" opacity="0.7"/><rect x="58" y="635.5" width="3" height="1" fill="#7cd6b0" opacity="0.7"/><rect x="62" y="635.5" width="3" height="1" fill="#f3a9a3" opacity="0.7"/><rect x="65" y="635.5" width="3" height="1" fill="#7cd6b0" opacity="0.7"/><rect x="68" y="635.5" width="3" height="1" fill="#7cd6b0" opacity="0.7"/><rect x="71" y="635.5" width="3" height="1" fill="#f3a9a3" opacity="0.7"/><rect x="74" y="635.5" width="3" height="1" fill="#f3a9a3" opacity="0.7"/><rect x="76" y="635.5" width="3" height="1" fill="#f3a9a3" opacity="0.7"/><rect x="79" y="635.5" width="3" height="1" fill="#7cd6b0" opacity="0.7"/><rect x="82" y="635.5" width="3" height="1" fill="#7cd6b0" opacity="0.7"/><rect x="85" y="635.5" width="3" height="1" fill="#7cd6b0" opacity="0.7"/><rect x="88" y="635.5" width="3" height="1" fill="#f3a9a3" opacity="0.7"/><rect x="91" y="635.5" width="3" height="1" fill="#7cd6b0" opacity="0.7"/><rect x="94" y="635.5" width="3" height="1" fill="#f3a9a3" opacity="0.7"/><rect x="97" y="635.5" width="3" height="1" fill="#f3a9a3" opacity="0.7"/><rect x="100" y="635.5" width="3" height="1" fill="#7cd6b0" opacity="0.7"/><rect x="103" y="635.5" width="3" height="1" fill="#7cd6b0" opacity="0.7"/><rect x="105" y="635.5" width="3" height="1" fill="#f3a9a3" opacity="0.7"/><rect x="108" y="635.5" width="3" height="1" fill="#f3a9a3" opacity="0.7"/><rect x="111" y="635.5" width="3" height="1" fill="#f3a9a3" opacity="0.7"/><rect x="114" y="635.5" width="3" height="1" fill="#f3a9a3" opacity="0.7"/><rect x="116" y="635.5" width="3" height="1" fill="#7cd6b0" opacity="0.7"/><rect x="120" y="635.5" width="3" height="1" fill="#f3a9a3" opacity="0.7"/><rect x="123" y="635.5" width="3" height="1" fill="#f3a9a3" opacity="0.7"/><rect x="126" y="635.5" width="3" height="1" fill="#f3a9a3" opacity="0.7"/><rect x="128" y="635.5" width="3" height="1" fill="#f3a9a3" opacity="0.7"/><rect x="131" y="635.5" width="3" height="1" fill="#7cd6b0" opacity="0.7"/><rect x="134" y="635.5" width="3" height="1" fill="#f3a9a3" opacity="0.7"/><rect x="137" y="635.5" width="3" height="1" fill="#f3a9a3" opacity="0.7"/><rect x="140" y="635.5" width="3" height="1" fill="#f3a9a3" opacity="0.7"/><rect x="143" y="635.5" width="3" height="1" fill="#7cd6b0" opacity="0.7"/><rect x="145" y="635.5" width="3" height="1" fill="#7cd6b0" opacity="0.7"/><rect x="148" y="635.5" width="3" height="1" fill="#f3a9a3" opacity="0.7"/><rect x="151" y="635.5" width="3" height="1" fill="#7cd6b0" opacity="0.7"/><rect x="154" y="635.5" width="3" height="1" fill="#7cd6b0" opacity="0.7"/><rect x="158" y="635.5" width="3" height="1" fill="#7cd6b0" opacity="0.7"/><rect x="160" y="635.5" width="3" height="1" fill="#f3a9a3" opacity="0.7"/><rect x="163" y="635.5" width="3" height="1" fill="#f3a9a3" opacity="0.7"/><rect x="165" y="635.5" width="3" height="1" fill="#f3a9a3" opacity="0.7"/><rect x="168" y="635.5" width="3" height="1" fill="#7cd6b0" opacity="0.7"/><rect x="171" y="635.5" width="3" height="1" fill="#f3a9a3" opacity="0.7"/><rect x="174" y="635.5" width="3" height="1" fill="#f3a9a3" opacity="0.7"/><rect x="177" y="635.5" width="3" height="1" fill="#f3a9a3" opacity="0.7"/><rect x="180" y="635.5" width="3" height="1" fill="#f3a9a3" opacity="0.7"/><rect x="183" y="635.5" width="3" height="1" fill="#f3a9a3" opacity="0.7"/><rect x="186" y="635.5" width="3" height="1" fill="#f3a9a3" opacity="0.7"/><rect x="189" y="635.5" width="3" height="1" fill="#f3a9a3" opacity="0.7"/><rect x="191" y="635.5" width="3" height="1" fill="#7cd6b0" opacity="0.7"/><rect x="194" y="635.5" width="3" height="1" fill="#f3a9a3" opacity="0.7"/><rect x="197" y="635.5" width="3" height="1" fill="#f3a9a3" opacity="0.7"/><rect x="200" y="631.5" width="3" height="5.0" fill="#fbccc8"/><rect x="200" y="631.5" width="0.8" height="5.0" fill="#f3a9a3"/><rect x="202.3" y="631.5" width="0.7" height="5.0" fill="#f3a9a3"/><rect x="200" y="631.5" width="3" height="0.8" fill="#f3a9a3"/><rect x="202" y="635.5" width="3" height="1" fill="#f3a9a3" opacity="0.7"/><rect x="206" y="635.5" width="3" height="1" fill="#7cd6b0" opacity="0.7"/><rect x="208" y="635.3" width="3" height="1.2" fill="#fbccc8"/><rect x="208" y="635.3" width="0.8" height="1.2" fill="#f3a9a3"/><rect x="210.3" y="635.3" width="0.7" height="1.2" fill="#f3a9a3"/><rect x="208" y="635.3" width="3" height="0.8" fill="#f3a9a3"/><rect x="211" y="635.5" width="3" height="1" fill="#f3a9a3" opacity="0.7"/><rect x="214" y="635.5" width="3" height="1" fill="#7cd6b0" opacity="0.7"/><rect x="217" y="635.5" width="3" height="1" fill="#f3a9a3" opacity="0.7"/><rect x="220" y="635.5" width="3" height="1" fill="#7cd6b0" opacity="0.7"/><rect x="223" y="635.5" width="3" height="1" fill="#f3a9a3" opacity="0.7"/><rect x="226" y="635.5" width="3" height="1" fill="#7cd6b0" opacity="0.7"/><rect x="229" y="635.5" width="3" height="1" fill="#7cd6b0" opacity="0.7"/><rect x="232" y="635.5" width="3" height="1" fill="#7cd6b0" opacity="0.7"/><rect x="234" y="635.5" width="3" height="1" fill="#7cd6b0" opacity="0.7"/><rect x="237" y="635.5" width="3" height="1" fill="#f3a9a3" opacity="0.7"/><rect x="240" y="635.5" width="3" height="1" fill="#7cd6b0" opacity="0.7"/><rect x="243" y="635.5" width="3" height="1" fill="#f3a9a3" opacity="0.7"/><rect x="246" y="635.5" width="3" height="1" fill="#7cd6b0" opacity="0.7"/><rect x="249" y="635.5" width="3" height="1" fill="#f3a9a3" opacity="0.7"/><rect x="252" y="635.5" width="3" height="1" fill="#f3a9a3" opacity="0.7"/><rect x="255" y="630.5" width="3" height="6.0" fill="#aaebd0"/><rect x="255" y="630.5" width="0.8" height="6.0" fill="#7cd6b0"/><rect x="257.3" y="630.5" width="0.7" height="6.0" fill="#7cd6b0"/><rect x="255" y="630.5" width="3" height="0.8" fill="#7cd6b0"/><rect x="258" y="635.5" width="3" height="1" fill="#7cd6b0" opacity="0.7"/><rect x="260" y="635.5" width="3" height="1" fill="#7cd6b0" opacity="0.7"/><rect x="263" y="635.5" width="3" height="1" fill="#f3a9a3" opacity="0.7"/><rect x="266" y="635.5" width="3" height="1" fill="#7cd6b0" opacity="0.7"/><rect x="269" y="635.5" width="3" height="1" fill="#f3a9a3" opacity="0.7"/><rect x="272" y="635.5" width="3" height="1" fill="#7cd6b0" opacity="0.7"/><rect x="275" y="635.5" width="3" height="1" fill="#f3a9a3" opacity="0.7"/><rect x="277" y="635.5" width="3" height="1" fill="#7cd6b0" opacity="0.7"/><rect x="280" y="635.5" width="3" height="1" fill="#f3a9a3" opacity="0.7"/><rect x="283" y="635.5" width="3" height="1" fill="#7cd6b0" opacity="0.7"/><rect x="286" y="635.5" width="3" height="1" fill="#f3a9a3" opacity="0.7"/><rect x="289" y="635.5" width="3" height="1" fill="#7cd6b0" opacity="0.7"/><rect x="292" y="635.5" width="3" height="1" fill="#7cd6b0" opacity="0.7"/><rect x="295" y="635.5" width="3" height="1" fill="#7cd6b0" opacity="0.7"/><rect x="298" y="635.5" width="3" height="1" fill="#7cd6b0" opacity="0.7"/><rect x="300" y="635.5" width="3" height="1" fill="#f3a9a3" opacity="0.7"/><rect x="303" y="635.5" width="3" height="1" fill="#f3a9a3" opacity="0.7"/><rect x="306" y="635.5" width="3" height="1" fill="#7cd6b0" opacity="0.7"/><rect x="309" y="635.5" width="3" height="1" fill="#7cd6b0" opacity="0.7"/><rect x="312" y="635.5" width="3" height="1" fill="#7cd6b0" opacity="0.7"/><rect x="315" y="635.5" width="3" height="1" fill="#f3a9a3" opacity="0.7"/><rect x="318" y="635.5" width="3" height="1" fill="#f3a9a3" opacity="0.7"/><rect x="321" y="635.5" width="3" height="1" fill="#f3a9a3" opacity="0.7"/><rect x="323" y="635.5" width="3" height="1" fill="#f3a9a3" opacity="0.7"/><rect x="326" y="635.5" width="3" height="1" fill="#7cd6b0" opacity="0.7"/><rect x="329" y="635.5" width="3" height="1" fill="#f3a9a3" opacity="0.7"/><rect x="332" y="635.5" width="3" height="1" fill="#f3a9a3" opacity="0.7"/><rect x="335" y="635.5" width="3" height="1" fill="#7cd6b0" opacity="0.7"/><rect x="338" y="635.5" width="3" height="1" fill="#7cd6b0" opacity="0.7"/><rect x="341" y="635.5" width="3" height="1" fill="#f3a9a3" opacity="0.7"/><rect x="344" y="635.5" width="3" height="1" fill="#7cd6b0" opacity="0.7"/><rect x="346" y="635.5" width="3" height="1" fill="#f3a9a3" opacity="0.7"/><rect x="349" y="633.5" width="3" height="3.0" fill="#fbccc8"/><rect x="349" y="633.5" width="0.8" height="3.0" fill="#f3a9a3"/><rect x="351.3" y="633.5" width="0.7" height="3.0" fill="#f3a9a3"/><rect x="349" y="633.5" width="3" height="0.8" fill="#f3a9a3"/><rect x="352" y="635.5" width="3" height="1" fill="#f3a9a3" opacity="0.7"/><rect x="355" y="635.5" width="3" height="1" fill="#f3a9a3" opacity="0.7"/><rect x="358" y="635.5" width="3" height="1" fill="#f3a9a3" opacity="0.7"/><rect x="361" y="635.5" width="3" height="1" fill="#7cd6b0" opacity="0.7"/><rect x="364" y="635.5" width="3" height="1" fill="#f3a9a3" opacity="0.7"/><rect x="366" y="635.5" width="3" height="1" fill="#7cd6b0" opacity="0.7"/><rect x="369" y="635.5" width="3" height="1" fill="#f3a9a3" opacity="0.7"/><rect x="372" y="632.5" width="3" height="4.0" fill="#fbccc8"/><rect x="372" y="632.5" width="0.8" height="4.0" fill="#f3a9a3"/><rect x="374.3" y="632.5" width="0.7" height="4.0" fill="#f3a9a3"/><rect x="372" y="632.5" width="3" height="0.8" fill="#f3a9a3"/><rect x="375" y="635.5" width="3" height="1" fill="#7cd6b0" opacity="0.7"/><rect x="378" y="635.5" width="3" height="1" fill="#7cd6b0" opacity="0.7"/><rect x="381" y="635.5" width="3" height="1" fill="#f3a9a3" opacity="0.7"/><rect x="384" y="635.3" width="3" height="1.2" fill="#fbccc8"/><rect x="384" y="635.3" width="0.8" height="1.2" fill="#f3a9a3"/><rect x="386.3" y="635.3" width="0.7" height="1.2" fill="#f3a9a3"/><rect x="384" y="635.3" width="3" height="0.8" fill="#f3a9a3"/><rect x="387" y="635.5" width="3" height="1" fill="#7cd6b0" opacity="0.7"/><rect x="390" y="635.5" width="3" height="1" fill="#7cd6b0" opacity="0.7"/><rect x="392" y="635.5" width="3" height="1" fill="#f3a9a3" opacity="0.7"/><rect x="395" y="624.9" width="3" height="11.6" fill="#aaebd0"/><rect x="395" y="624.9" width="0.8" height="11.6" fill="#7cd6b0"/><rect x="397.3" y="624.9" width="0.7" height="11.6" fill="#7cd6b0"/><rect x="395" y="624.9" width="3" height="0.8" fill="#7cd6b0"/><rect x="398" y="635.5" width="3" height="1" fill="#f3a9a3" opacity="0.7"/><rect x="401" y="635.5" width="3" height="1" fill="#f3a9a3" opacity="0.7"/><rect x="404" y="635.5" width="3" height="1" fill="#7cd6b0" opacity="0.7"/><rect x="407" y="635.5" width="3" height="1" fill="#f3a9a3" opacity="0.7"/><rect x="410" y="635.5" width="3" height="1" fill="#7cd6b0" opacity="0.7"/><rect x="412" y="635.5" width="3" height="1" fill="#f3a9a3" opacity="0.7"/><rect x="415" y="635.5" width="3" height="1" fill="#f3a9a3" opacity="0.7"/><rect x="418" y="635.5" width="3" height="1" fill="#7cd6b0" opacity="0.7"/><rect x="421" y="635.5" width="3" height="1" fill="#7cd6b0" opacity="0.7"/><rect x="424" y="635.5" width="3" height="1" fill="#7cd6b0" opacity="0.7"/><rect x="427" y="635.5" width="3" height="1" fill="#f3a9a3" opacity="0.7"/><rect x="430" y="635.5" width="3" height="1" fill="#7cd6b0" opacity="0.7"/><rect x="432" y="635.5" width="3" height="1" fill="#f3a9a3" opacity="0.7"/><rect x="435" y="635.5" width="3" height="1" fill="#7cd6b0" opacity="0.7"/><rect x="438" y="635.5" width="3" height="1" fill="#f3a9a3" opacity="0.7"/><rect x="441" y="635.5" width="3" height="1" fill="#f3a9a3" opacity="0.7"/><rect x="444" y="635.5" width="3" height="1" fill="#f3a9a3" opacity="0.7"/><rect x="447" y="635.5" width="3" height="1" fill="#7cd6b0" opacity="0.7"/><rect x="450" y="635.5" width="3" height="1" fill="#7cd6b0" opacity="0.7"/><rect x="453" y="635.5" width="3" height="1" fill="#f3a9a3" opacity="0.7"/><rect x="455" y="635.5" width="3" height="1" fill="#7cd6b0" opacity="0.7"/><rect x="458" y="635.5" width="3" height="1" fill="#f3a9a3" opacity="0.7"/><rect x="461" y="635.5" width="3" height="1" fill="#f3a9a3" opacity="0.7"/><rect x="464" y="635.3" width="3" height="1.2" fill="#aaebd0"/><rect x="464" y="635.3" width="0.8" height="1.2" fill="#7cd6b0"/><rect x="466.3" y="635.3" width="0.7" height="1.2" fill="#7cd6b0"/><rect x="464" y="635.3" width="3" height="0.8" fill="#7cd6b0"/><rect x="467" y="635.5" width="3" height="1" fill="#f3a9a3" opacity="0.7"/><rect x="470" y="635.5" width="3" height="1" fill="#f3a9a3" opacity="0.7"/><rect x="473" y="635.5" width="3" height="1" fill="#f3a9a3" opacity="0.7"/><rect x="475" y="633.5" width="3" height="3.0" fill="#aaebd0"/><rect x="475" y="633.5" width="0.8" height="3.0" fill="#7cd6b0"/><rect x="477.3" y="633.5" width="0.7" height="3.0" fill="#7cd6b0"/><rect x="475" y="633.5" width="3" height="0.8" fill="#7cd6b0"/><rect x="478" y="635.5" width="3" height="1" fill="#f3a9a3" opacity="0.7"/><rect x="481" y="635.5" width="3" height="1" fill="#7cd6b0" opacity="0.7"/><rect x="484" y="635.5" width="3" height="1" fill="#7cd6b0" opacity="0.7"/><rect x="487" y="635.5" width="3" height="1" fill="#7cd6b0" opacity="0.7"/><rect x="490" y="635.5" width="3" height="1" fill="#f3a9a3" opacity="0.7"/><rect x="493" y="635.5" width="3" height="1" fill="#f3a9a3" opacity="0.7"/><rect x="496" y="635.5" width="3" height="1" fill="#f3a9a3" opacity="0.7"/><rect x="498" y="635.5" width="3" height="1" fill="#f3a9a3" opacity="0.7"/><rect x="501" y="635.5" width="3" height="1" fill="#f3a9a3" opacity="0.7"/><rect x="504" y="635.5" width="3" height="1" fill="#7cd6b0" opacity="0.7"/><rect x="507" y="635.5" width="3" height="1" fill="#f3a9a3" opacity="0.7"/><rect x="510" y="635.5" width="3" height="1" fill="#f3a9a3" opacity="0.7"/><rect x="513" y="635.5" width="3" height="1" fill="#7cd6b0" opacity="0.7"/><rect x="516" y="635.5" width="3" height="1" fill="#7cd6b0" opacity="0.7"/><rect x="519" y="635.5" width="3" height="1" fill="#7cd6b0" opacity="0.7"/><rect x="522" y="635.5" width="3" height="1" fill="#f3a9a3" opacity="0.7"/><rect x="524" y="635.5" width="3" height="1" fill="#f3a9a3" opacity="0.7"/><rect x="527" y="635.5" width="3" height="1" fill="#f3a9a3" opacity="0.7"/><rect x="530" y="635.5" width="3" height="1" fill="#f3a9a3" opacity="0.7"/><rect x="533" y="635.5" width="3" height="1" fill="#7cd6b0" opacity="0.7"/><rect x="536" y="635.5" width="3" height="1" fill="#7cd6b0" opacity="0.7"/><rect x="539" y="635.5" width="3" height="1" fill="#7cd6b0" opacity="0.7"/><rect x="541" y="635.5" width="3" height="1" fill="#f3a9a3" opacity="0.7"/><rect x="544" y="635.5" width="3" height="1" fill="#f3a9a3" opacity="0.7"/><rect x="547" y="635.5" width="3" height="1" fill="#7cd6b0" opacity="0.7"/><rect x="550" y="635.5" width="3" height="1" fill="#7cd6b0" opacity="0.7"/><rect x="553" y="635.5" width="3" height="1" fill="#f3a9a3" opacity="0.7"/><rect x="556" y="635.5" width="3" height="1" fill="#f3a9a3" opacity="0.7"/><rect x="559" y="635.5" width="3" height="1" fill="#7cd6b0" opacity="0.7"/><rect x="562" y="635.5" width="3" height="1" fill="#f3a9a3" opacity="0.7"/><rect x="564" y="635.5" width="3" height="1" fill="#f3a9a3" opacity="0.7"/><rect x="567" y="635.5" width="3" height="1" fill="#f3a9a3" opacity="0.7"/><rect x="570" y="635.5" width="3" height="1" fill="#7cd6b0" opacity="0.7"/><rect x="573" y="635.5" width="3" height="1" fill="#f3a9a3" opacity="0.7"/><rect x="576" y="635.5" width="3" height="1" fill="#f3a9a3" opacity="0.7"/><rect x="579" y="635.5" width="3" height="1" fill="#7cd6b0" opacity="0.7"/><rect x="582" y="635.5" width="3" height="1" fill="#f3a9a3" opacity="0.7"/><rect x="585" y="632.5" width="3" height="4.0" fill="#fbccc8"/><rect x="585" y="632.5" width="0.8" height="4.0" fill="#f3a9a3"/><rect x="587.3" y="632.5" width="0.7" height="4.0" fill="#f3a9a3"/><rect x="585" y="632.5" width="3" height="0.8" fill="#f3a9a3"/><rect x="587" y="632.5" width="3" height="4.0" fill="#aaebd0"/><rect x="587" y="632.5" width="0.8" height="4.0" fill="#7cd6b0"/><rect x="589.3" y="632.5" width="0.7" height="4.0" fill="#7cd6b0"/><rect x="587" y="632.5" width="3" height="0.8" fill="#7cd6b0"/><rect x="590" y="635.5" width="3" height="1" fill="#7cd6b0" opacity="0.7"/><rect x="593" y="635.5" width="3" height="1" fill="#f3a9a3" opacity="0.7"/><rect x="596" y="635.5" width="3" height="1" fill="#7cd6b0" opacity="0.7"/><rect x="599" y="635.5" width="3" height="1" fill="#7cd6b0" opacity="0.7"/><rect x="602" y="635.5" width="3" height="1" fill="#f3a9a3" opacity="0.7"/><rect x="605" y="635.5" width="3" height="1" fill="#f3a9a3" opacity="0.7"/><rect x="607" y="635.5" width="3" height="1" fill="#f3a9a3" opacity="0.7"/><rect x="610" y="631.5" width="3" height="5.0" fill="#fbccc8"/><rect x="610" y="631.5" width="0.8" height="5.0" fill="#f3a9a3"/><rect x="612.3" y="631.5" width="0.7" height="5.0" fill="#f3a9a3"/><rect x="610" y="631.5" width="3" height="0.8" fill="#f3a9a3"/><rect x="613" y="621.5" width="3" height="15.0" fill="#fbccc8"/><rect x="613" y="621.5" width="0.8" height="15.0" fill="#f3a9a3"/><rect x="615.3" y="621.5" width="0.7" height="15.0" fill="#f3a9a3"/><rect x="613" y="621.5" width="3" height="0.8" fill="#f3a9a3"/><rect x="616" y="635.5" width="3" height="1" fill="#7cd6b0" opacity="0.7"/><rect x="619" y="635.5" width="3" height="1" fill="#7cd6b0" opacity="0.7"/><rect x="622" y="635.5" width="3" height="1" fill="#f3a9a3" opacity="0.7"/><rect x="625" y="635.5" width="3" height="1" fill="#f3a9a3" opacity="0.7"/><rect x="628" y="635.5" width="3" height="1" fill="#f3a9a3" opacity="0.7"/><rect x="630" y="635.5" width="3" height="1" fill="#7cd6b0" opacity="0.7"/><rect x="633" y="635.5" width="3" height="1" fill="#f3a9a3" opacity="0.7"/><rect x="636" y="635.5" width="3" height="1" fill="#f3a9a3" opacity="0.7"/><rect x="639" y="635.5" width="3" height="1" fill="#f3a9a3" opacity="0.7"/><rect x="642" y="635.5" width="3" height="1" fill="#f3a9a3" opacity="0.7"/><rect x="645" y="635.5" width="3" height="1" fill="#f3a9a3" opacity="0.7"/><rect x="648" y="635.5" width="3" height="1" fill="#f3a9a3" opacity="0.7"/><rect x="651" y="635.5" width="3" height="1" fill="#f3a9a3" opacity="0.7"/><rect x="653" y="635.5" width="3" height="1" fill="#f3a9a3" opacity="0.7"/><rect x="656" y="635.5" width="3" height="1" fill="#f3a9a3" opacity="0.7"/><rect x="659" y="635.5" width="3" height="1" fill="#7cd6b0" opacity="0.7"/><rect x="662" y="635.5" width="3" height="1" fill="#7cd6b0" opacity="0.7"/><rect x="665" y="626.5" width="3" height="10.0" fill="#fbccc8"/><rect x="665" y="626.5" width="0.8" height="10.0" fill="#f3a9a3"/><rect x="667.3" y="626.5" width="0.7" height="10.0" fill="#f3a9a3"/><rect x="665" y="626.5" width="3" height="0.8" fill="#f3a9a3"/><rect x="668" y="635.5" width="3" height="1" fill="#f3a9a3" opacity="0.7"/><rect x="670" y="635.5" width="3" height="1" fill="#7cd6b0" opacity="0.7"/><rect x="673" y="635.1" width="3" height="1.4" fill="#fbccc8"/><rect x="673" y="635.1" width="0.8" height="1.4" fill="#f3a9a3"/><rect x="675.3" y="635.1" width="0.7" height="1.4" fill="#f3a9a3"/><rect x="673" y="635.1" width="3" height="0.8" fill="#f3a9a3"/><rect x="676" y="635.5" width="3" height="1" fill="#7cd6b0" opacity="0.7"/><rect x="679" y="635.2" width="3" height="1.3" fill="#fbccc8"/><rect x="679" y="635.2" width="0.8" height="1.3" fill="#f3a9a3"/><rect x="681.3" y="635.2" width="0.7" height="1.3" fill="#f3a9a3"/><rect x="679" y="635.2" width="3" height="0.8" fill="#f3a9a3"/><rect x="682" y="631.5" width="3" height="5.0" fill="#aaebd0"/><rect x="682" y="631.5" width="0.8" height="5.0" fill="#7cd6b0"/><rect x="684.3" y="631.5" width="0.7" height="5.0" fill="#7cd6b0"/><rect x="682" y="631.5" width="3" height="0.8" fill="#7cd6b0"/><rect x="685" y="635.5" width="3" height="1" fill="#7cd6b0" opacity="0.7"/><rect x="689" y="635.5" width="3" height="1" fill="#f3a9a3" opacity="0.7"/><rect x="691" y="635.5" width="3" height="1" fill="#7cd6b0" opacity="0.7"/><rect x="694" y="634.1" width="3" height="2.4" fill="#fbccc8"/><rect x="694" y="634.1" width="0.8" height="2.4" fill="#f3a9a3"/><rect x="696.3" y="634.1" width="0.7" height="2.4" fill="#f3a9a3"/><rect x="694" y="634.1" width="3" height="0.8" fill="#f3a9a3"/><rect x="696" y="635.2" width="3" height="1.3" fill="#fbccc8"/><rect x="696" y="635.2" width="0.8" height="1.3" fill="#f3a9a3"/><rect x="698.3" y="635.2" width="0.7" height="1.3" fill="#f3a9a3"/><rect x="696" y="635.2" width="3" height="0.8" fill="#f3a9a3"/><rect x="699" y="634.5" width="3" height="2.0" fill="#fbccc8"/><rect x="699" y="634.5" width="0.8" height="2.0" fill="#f3a9a3"/><rect x="701.3" y="634.5" width="0.7" height="2.0" fill="#f3a9a3"/><rect x="699" y="634.5" width="3" height="0.8" fill="#f3a9a3"/><rect x="702" y="632.5" width="3" height="4.0" fill="#fbccc8"/><rect x="702" y="632.5" width="0.8" height="4.0" fill="#f3a9a3"/><rect x="704.3" y="632.5" width="0.7" height="4.0" fill="#f3a9a3"/><rect x="702" y="632.5" width="3" height="0.8" fill="#f3a9a3"/><rect x="705" y="634.0" width="3" height="2.5" fill="#aaebd0"/><rect x="705" y="634.0" width="0.8" height="2.5" fill="#7cd6b0"/><rect x="707.3" y="634.0" width="0.7" height="2.5" fill="#7cd6b0"/><rect x="705" y="634.0" width="3" height="0.8" fill="#7cd6b0"/><rect x="708" y="634.0" width="3" height="2.5" fill="#fbccc8"/><rect x="708" y="634.0" width="0.8" height="2.5" fill="#f3a9a3"/><rect x="710.3" y="634.0" width="0.7" height="2.5" fill="#f3a9a3"/><rect x="708" y="634.0" width="3" height="0.8" fill="#f3a9a3"/><rect x="711" y="633.8" width="3" height="2.7" fill="#fbccc8"/><rect x="711" y="633.8" width="0.8" height="2.7" fill="#f3a9a3"/><rect x="713.3" y="633.8" width="0.7" height="2.7" fill="#f3a9a3"/><rect x="711" y="633.8" width="3" height="0.8" fill="#f3a9a3"/><rect x="714" y="614.1" width="3" height="22.4" fill="#aaebd0"/><rect x="714" y="614.1" width="0.8" height="22.4" fill="#7cd6b0"/><rect x="716.3" y="614.1" width="0.7" height="22.4" fill="#7cd6b0"/><rect x="714" y="614.1" width="3" height="0.8" fill="#7cd6b0"/><rect x="717" y="624.1" width="3" height="12.4" fill="#fbccc8"/><rect x="717" y="624.1" width="0.8" height="12.4" fill="#f3a9a3"/><rect x="719.3" y="624.1" width="0.7" height="12.4" fill="#f3a9a3"/><rect x="717" y="624.1" width="3" height="0.8" fill="#f3a9a3"/><rect x="720" y="634.7" width="3" height="1.8" fill="#fbccc8"/><rect x="720" y="634.7" width="0.8" height="1.8" fill="#f3a9a3"/><rect x="722.3" y="634.7" width="0.7" height="1.8" fill="#f3a9a3"/><rect x="720" y="634.7" width="3" height="0.8" fill="#f3a9a3"/><rect x="722" y="633.4" width="3" height="3.1" fill="#aaebd0"/><rect x="722" y="633.4" width="0.8" height="3.1" fill="#7cd6b0"/><rect x="724.3" y="633.4" width="0.7" height="3.1" fill="#7cd6b0"/><rect x="722" y="633.4" width="3" height="0.8" fill="#7cd6b0"/><rect x="725" y="634.2" width="3" height="2.3" fill="#aaebd0"/><rect x="725" y="634.2" width="0.8" height="2.3" fill="#7cd6b0"/><rect x="727.3" y="634.2" width="0.7" height="2.3" fill="#7cd6b0"/><rect x="725" y="634.2" width="3" height="0.8" fill="#7cd6b0"/><rect x="728" y="634.1" width="3" height="2.4" fill="#fbccc8"/><rect x="728" y="634.1" width="0.8" height="2.4" fill="#f3a9a3"/><rect x="730.3" y="634.1" width="0.7" height="2.4" fill="#f3a9a3"/><rect x="728" y="634.1" width="3" height="0.8" fill="#f3a9a3"/><rect x="731" y="632.5" width="3" height="4.0" fill="#fbccc8"/><rect x="731" y="632.5" width="0.8" height="4.0" fill="#f3a9a3"/><rect x="733.3" y="632.5" width="0.7" height="4.0" fill="#f3a9a3"/><rect x="731" y="632.5" width="3" height="0.8" fill="#f3a9a3"/><rect x="734" y="633.3" width="3" height="3.2" fill="#fbccc8"/><rect x="734" y="633.3" width="0.8" height="3.2" fill="#f3a9a3"/><rect x="736.3" y="633.3" width="0.7" height="3.2" fill="#f3a9a3"/><rect x="734" y="633.3" width="3" height="0.8" fill="#f3a9a3"/><rect x="737" y="633.0" width="3" height="3.5" fill="#fbccc8"/><rect x="737" y="633.0" width="0.8" height="3.5" fill="#f3a9a3"/><rect x="739.3" y="633.0" width="0.7" height="3.5" fill="#f3a9a3"/><rect x="737" y="633.0" width="3" height="0.8" fill="#f3a9a3"/><rect x="740" y="631.8" width="3" height="4.7" fill="#aaebd0"/><rect x="740" y="631.8" width="0.8" height="4.7" fill="#7cd6b0"/><rect x="742.3" y="631.8" width="0.7" height="4.7" fill="#7cd6b0"/><rect x="740" y="631.8" width="3" height="0.8" fill="#7cd6b0"/><rect x="742" y="633.3" width="3" height="3.2" fill="#aaebd0"/><rect x="742" y="633.3" width="0.8" height="3.2" fill="#7cd6b0"/><rect x="744.3" y="633.3" width="0.7" height="3.2" fill="#7cd6b0"/><rect x="742" y="633.3" width="3" height="0.8" fill="#7cd6b0"/><rect x="745" y="632.6" width="3" height="3.9" fill="#aaebd0"/><rect x="745" y="632.6" width="0.8" height="3.9" fill="#7cd6b0"/><rect x="747.3" y="632.6" width="0.7" height="3.9" fill="#7cd6b0"/><rect x="745" y="632.6" width="3" height="0.8" fill="#7cd6b0"/><rect x="748" y="629.1" width="3" height="7.4" fill="#aaebd0"/><rect x="748" y="629.1" width="0.8" height="7.4" fill="#7cd6b0"/><rect x="750.3" y="629.1" width="0.7" height="7.4" fill="#7cd6b0"/><rect x="748" y="629.1" width="3" height="0.8" fill="#7cd6b0"/><rect x="751" y="632.9" width="3" height="3.6" fill="#fbccc8"/><rect x="751" y="632.9" width="0.8" height="3.6" fill="#f3a9a3"/><rect x="753.3" y="632.9" width="0.7" height="3.6" fill="#f3a9a3"/><rect x="751" y="632.9" width="3" height="0.8" fill="#f3a9a3"/><rect x="754" y="632.8" width="3" height="3.7" fill="#fbccc8"/><rect x="754" y="632.8" width="0.8" height="3.7" fill="#f3a9a3"/><rect x="756.3" y="632.8" width="0.7" height="3.7" fill="#f3a9a3"/><rect x="754" y="632.8" width="3" height="0.8" fill="#f3a9a3"/><rect x="757" y="632.0" width="3" height="4.5" fill="#fbccc8"/><rect x="757" y="632.0" width="0.8" height="4.5" fill="#f3a9a3"/><rect x="759.3" y="632.0" width="0.7" height="4.5" fill="#f3a9a3"/><rect x="757" y="632.0" width="3" height="0.8" fill="#f3a9a3"/><rect x="760" y="632.9" width="3" height="3.6" fill="#aaebd0"/><rect x="760" y="632.9" width="0.8" height="3.6" fill="#7cd6b0"/><rect x="762.3" y="632.9" width="0.7" height="3.6" fill="#7cd6b0"/><rect x="760" y="632.9" width="3" height="0.8" fill="#7cd6b0"/><rect x="762" y="632.5" width="3" height="4.0" fill="#aaebd0"/><rect x="762" y="632.5" width="0.8" height="4.0" fill="#7cd6b0"/><rect x="764.3" y="632.5" width="0.7" height="4.0" fill="#7cd6b0"/><rect x="762" y="632.5" width="3" height="0.8" fill="#7cd6b0"/><rect x="765" y="629.1" width="3" height="7.4" fill="#fbccc8"/><rect x="765" y="629.1" width="0.8" height="7.4" fill="#f3a9a3"/><rect x="767.3" y="629.1" width="0.7" height="7.4" fill="#f3a9a3"/><rect x="765" y="629.1" width="3" height="0.8" fill="#f3a9a3"/><rect x="768" y="632.6" width="3" height="3.9" fill="#fbccc8"/><rect x="768" y="632.6" width="0.8" height="3.9" fill="#f3a9a3"/><rect x="770.3" y="632.6" width="0.7" height="3.9" fill="#f3a9a3"/><rect x="768" y="632.6" width="3" height="0.8" fill="#f3a9a3"/><rect x="771" y="631.6" width="3" height="4.9" fill="#fbccc8"/><rect x="771" y="631.6" width="0.8" height="4.9" fill="#f3a9a3"/><rect x="773.3" y="631.6" width="0.7" height="4.9" fill="#f3a9a3"/><rect x="771" y="631.6" width="3" height="0.8" fill="#f3a9a3"/><rect x="774" y="630.5" width="3" height="6.0" fill="#aaebd0"/><rect x="774" y="630.5" width="0.8" height="6.0" fill="#7cd6b0"/><rect x="776.3" y="630.5" width="0.7" height="6.0" fill="#7cd6b0"/><rect x="774" y="630.5" width="3" height="0.8" fill="#7cd6b0"/><rect x="777" y="633.3" width="3" height="3.2" fill="#aaebd0"/><rect x="777" y="633.3" width="0.8" height="3.2" fill="#7cd6b0"/><rect x="779.3" y="633.3" width="0.7" height="3.2" fill="#7cd6b0"/><rect x="777" y="633.3" width="3" height="0.8" fill="#7cd6b0"/><rect x="780" y="632.0" width="3" height="4.5" fill="#aaebd0"/><rect x="780" y="632.0" width="0.8" height="4.5" fill="#7cd6b0"/><rect x="782.3" y="632.0" width="0.7" height="4.5" fill="#7cd6b0"/><rect x="780" y="632.0" width="3" height="0.8" fill="#7cd6b0"/><rect x="782" y="630.3" width="3" height="6.2" fill="#fbccc8"/><rect x="782" y="630.3" width="0.8" height="6.2" fill="#f3a9a3"/><rect x="784.3" y="630.3" width="0.7" height="6.2" fill="#f3a9a3"/><rect x="782" y="630.3" width="3" height="0.8" fill="#f3a9a3"/><rect x="785" y="633.7" width="3" height="2.8" fill="#aaebd0"/><rect x="785" y="633.7" width="0.8" height="2.8" fill="#7cd6b0"/><rect x="787.3" y="633.7" width="0.7" height="2.8" fill="#7cd6b0"/><rect x="785" y="633.7" width="3" height="0.8" fill="#7cd6b0"/><rect x="788" y="629.1" width="3" height="7.4" fill="#aaebd0"/><rect x="788" y="629.1" width="0.8" height="7.4" fill="#7cd6b0"/><rect x="790.3" y="629.1" width="0.7" height="7.4" fill="#7cd6b0"/><rect x="788" y="629.1" width="3" height="0.8" fill="#7cd6b0"/><rect x="791" y="632.2" width="3" height="4.3" fill="#fbccc8"/><rect x="791" y="632.2" width="0.8" height="4.3" fill="#f3a9a3"/><rect x="793.3" y="632.2" width="0.7" height="4.3" fill="#f3a9a3"/><rect x="791" y="632.2" width="3" height="0.8" fill="#f3a9a3"/><rect x="794" y="633.9" width="3" height="2.6" fill="#aaebd0"/><rect x="794" y="633.9" width="0.8" height="2.6" fill="#7cd6b0"/><rect x="796.3" y="633.9" width="0.7" height="2.6" fill="#7cd6b0"/><rect x="794" y="633.9" width="3" height="0.8" fill="#7cd6b0"/><rect x="797" y="633.1" width="3" height="3.4" fill="#aaebd0"/><rect x="797" y="633.1" width="0.8" height="3.4" fill="#7cd6b0"/><rect x="799.3" y="633.1" width="0.7" height="3.4" fill="#7cd6b0"/><rect x="797" y="633.1" width="3" height="0.8" fill="#7cd6b0"/><rect x="800" y="633.8" width="3" height="2.7" fill="#fbccc8"/><rect x="800" y="633.8" width="0.8" height="2.7" fill="#f3a9a3"/><rect x="802.3" y="633.8" width="0.7" height="2.7" fill="#f3a9a3"/><rect x="800" y="633.8" width="3" height="0.8" fill="#f3a9a3"/><rect x="803" y="630.4" width="3" height="6.1" fill="#fbccc8"/><rect x="803" y="630.4" width="0.8" height="6.1" fill="#f3a9a3"/><rect x="805.3" y="630.4" width="0.7" height="6.1" fill="#f3a9a3"/><rect x="803" y="630.4" width="3" height="0.8" fill="#f3a9a3"/><rect x="806" y="629.7" width="3" height="6.8" fill="#fbccc8"/><rect x="806" y="629.7" width="0.8" height="6.8" fill="#f3a9a3"/><rect x="808.3" y="629.7" width="0.7" height="6.8" fill="#f3a9a3"/><rect x="806" y="629.7" width="3" height="0.8" fill="#f3a9a3"/><rect x="808" y="629.5" width="3" height="7.0" fill="#fbccc8"/><rect x="808" y="629.5" width="0.8" height="7.0" fill="#f3a9a3"/><rect x="810.3" y="629.5" width="0.7" height="7.0" fill="#f3a9a3"/><rect x="808" y="629.5" width="3" height="0.8" fill="#f3a9a3"/><rect x="811" y="633.3" width="3" height="3.2" fill="#aaebd0"/><rect x="811" y="633.3" width="0.8" height="3.2" fill="#7cd6b0"/><rect x="813.3" y="633.3" width="0.7" height="3.2" fill="#7cd6b0"/><rect x="811" y="633.3" width="3" height="0.8" fill="#7cd6b0"/><rect x="814" y="630.4" width="3" height="6.1" fill="#aaebd0"/><rect x="814" y="630.4" width="0.8" height="6.1" fill="#7cd6b0"/><rect x="816.3" y="630.4" width="0.7" height="6.1" fill="#7cd6b0"/><rect x="814" y="630.4" width="3" height="0.8" fill="#7cd6b0"/><rect x="816" y="630.6" width="3" height="5.9" fill="#aaebd0"/><rect x="816" y="630.6" width="0.8" height="5.9" fill="#7cd6b0"/><rect x="818.3" y="630.6" width="0.7" height="5.9" fill="#7cd6b0"/><rect x="816" y="630.6" width="3" height="0.8" fill="#7cd6b0"/><rect x="820" y="627.1" width="3" height="9.4" fill="#fbccc8"/><rect x="820" y="627.1" width="0.8" height="9.4" fill="#f3a9a3"/><rect x="822.3" y="627.1" width="0.7" height="9.4" fill="#f3a9a3"/><rect x="820" y="627.1" width="3" height="0.8" fill="#f3a9a3"/><rect x="822" y="633.1" width="3" height="3.4" fill="#aaebd0"/><rect x="822" y="633.1" width="0.8" height="3.4" fill="#7cd6b0"/><rect x="824.3" y="633.1" width="0.7" height="3.4" fill="#7cd6b0"/><rect x="822" y="633.1" width="3" height="0.8" fill="#7cd6b0"/><rect x="825" y="629.2" width="3" height="7.3" fill="#fbccc8"/><rect x="825" y="629.2" width="0.8" height="7.3" fill="#f3a9a3"/><rect x="827.3" y="629.2" width="0.7" height="7.3" fill="#f3a9a3"/><rect x="825" y="629.2" width="3" height="0.8" fill="#f3a9a3"/><rect x="828" y="628.7" width="3" height="7.8" fill="#aaebd0"/><rect x="828" y="628.7" width="0.8" height="7.8" fill="#7cd6b0"/><rect x="830.3" y="628.7" width="0.7" height="7.8" fill="#7cd6b0"/><rect x="828" y="628.7" width="3" height="0.8" fill="#7cd6b0"/><rect x="831" y="632.6" width="3" height="3.9" fill="#fbccc8"/><rect x="831" y="632.6" width="0.8" height="3.9" fill="#f3a9a3"/><rect x="833.3" y="632.6" width="0.7" height="3.9" fill="#f3a9a3"/><rect x="831" y="632.6" width="3" height="0.8" fill="#f3a9a3"/><rect x="834" y="626.1" width="3" height="10.4" fill="#aaebd0"/><rect x="834" y="626.1" width="0.8" height="10.4" fill="#7cd6b0"/><rect x="836.3" y="626.1" width="0.7" height="10.4" fill="#7cd6b0"/><rect x="834" y="626.1" width="3" height="0.8" fill="#7cd6b0"/><rect x="837" y="631.5" width="3" height="5.0" fill="#aaebd0"/><rect x="837" y="631.5" width="0.8" height="5.0" fill="#7cd6b0"/><rect x="839.3" y="631.5" width="0.7" height="5.0" fill="#7cd6b0"/><rect x="837" y="631.5" width="3" height="0.8" fill="#7cd6b0"/><rect x="840" y="628.1" width="3" height="8.4" fill="#aaebd0"/><rect x="840" y="628.1" width="0.8" height="8.4" fill="#7cd6b0"/><rect x="842.3" y="628.1" width="0.7" height="8.4" fill="#7cd6b0"/><rect x="840" y="628.1" width="3" height="0.8" fill="#7cd6b0"/><rect x="843" y="628.0" width="3" height="8.5" fill="#fbccc8"/><rect x="843" y="628.0" width="0.8" height="8.5" fill="#f3a9a3"/><rect x="845.3" y="628.0" width="0.7" height="8.5" fill="#f3a9a3"/><rect x="843" y="628.0" width="3" height="0.8" fill="#f3a9a3"/><rect x="846" y="628.8" width="3" height="7.7" fill="#aaebd0"/><rect x="846" y="628.8" width="0.8" height="7.7" fill="#7cd6b0"/><rect x="848.3" y="628.8" width="0.7" height="7.7" fill="#7cd6b0"/><rect x="846" y="628.8" width="3" height="0.8" fill="#7cd6b0"/><rect x="849" y="631.1" width="3" height="5.4" fill="#fbccc8"/><rect x="849" y="631.1" width="0.8" height="5.4" fill="#f3a9a3"/><rect x="851.3" y="631.1" width="0.7" height="5.4" fill="#f3a9a3"/><rect x="849" y="631.1" width="3" height="0.8" fill="#f3a9a3"/><rect x="852" y="630.5" width="3" height="6.0" fill="#aaebd0"/><rect x="852" y="630.5" width="0.8" height="6.0" fill="#7cd6b0"/><rect x="854.3" y="630.5" width="0.7" height="6.0" fill="#7cd6b0"/><rect x="852" y="630.5" width="3" height="0.8" fill="#7cd6b0"/><rect x="854" y="631.5" width="3" height="5.0" fill="#fbccc8"/><rect x="854" y="631.5" width="0.8" height="5.0" fill="#f3a9a3"/><rect x="856.3" y="631.5" width="0.7" height="5.0" fill="#f3a9a3"/><rect x="854" y="631.5" width="3" height="0.8" fill="#f3a9a3"/><rect x="857" y="632.3" width="3" height="4.2" fill="#fbccc8"/><rect x="857" y="632.3" width="0.8" height="4.2" fill="#f3a9a3"/><rect x="859.3" y="632.3" width="0.7" height="4.2" fill="#f3a9a3"/><rect x="857" y="632.3" width="3" height="0.8" fill="#f3a9a3"/><rect x="860" y="626.1" width="3" height="10.4" fill="#fbccc8"/><rect x="860" y="626.1" width="0.8" height="10.4" fill="#f3a9a3"/><rect x="862.3" y="626.1" width="0.7" height="10.4" fill="#f3a9a3"/><rect x="860" y="626.1" width="3" height="0.8" fill="#f3a9a3"/><rect x="863" y="619.1" width="3" height="17.4" fill="#aaebd0"/><rect x="863" y="619.1" width="0.8" height="17.4" fill="#7cd6b0"/><rect x="865.3" y="619.1" width="0.7" height="17.4" fill="#7cd6b0"/><rect x="863" y="619.1" width="3" height="0.8" fill="#7cd6b0"/><rect x="866" y="631.0" width="3" height="5.5" fill="#aaebd0"/><rect x="866" y="631.0" width="0.8" height="5.5" fill="#7cd6b0"/><rect x="868.3" y="631.0" width="0.7" height="5.5" fill="#7cd6b0"/><rect x="866" y="631.0" width="3" height="0.8" fill="#7cd6b0"/><rect x="869" y="628.3" width="3" height="8.2" fill="#fbccc8"/><rect x="869" y="628.3" width="0.8" height="8.2" fill="#f3a9a3"/><rect x="871.3" y="628.3" width="0.7" height="8.2" fill="#f3a9a3"/><rect x="869" y="628.3" width="3" height="0.8" fill="#f3a9a3"/><rect x="872" y="633.0" width="3" height="3.5" fill="#fbccc8"/><rect x="872" y="633.0" width="0.8" height="3.5" fill="#f3a9a3"/><rect x="874.3" y="633.0" width="0.7" height="3.5" fill="#f3a9a3"/><rect x="872" y="633.0" width="3" height="0.8" fill="#f3a9a3"/><rect x="874" y="629.4" width="3" height="7.1" fill="#aaebd0"/><rect x="874" y="629.4" width="0.8" height="7.1" fill="#7cd6b0"/><rect x="876.3" y="629.4" width="0.7" height="7.1" fill="#7cd6b0"/><rect x="874" y="629.4" width="3" height="0.8" fill="#7cd6b0"/><rect x="877" y="615.1" width="3" height="21.4" fill="#aaebd0"/><rect x="877" y="615.1" width="0.8" height="21.4" fill="#7cd6b0"/><rect x="879.3" y="615.1" width="0.7" height="21.4" fill="#7cd6b0"/><rect x="877" y="615.1" width="3" height="0.8" fill="#7cd6b0"/><rect x="880" y="626.5" width="3" height="10.0" fill="#fbccc8"/><rect x="880" y="626.5" width="0.8" height="10.0" fill="#f3a9a3"/><rect x="882.3" y="626.5" width="0.7" height="10.0" fill="#f3a9a3"/><rect x="880" y="626.5" width="3" height="0.8" fill="#f3a9a3"/><rect x="883" y="618.1" width="3" height="18.4" fill="#aaebd0"/><rect x="883" y="618.1" width="0.8" height="18.4" fill="#7cd6b0"/><rect x="885.3" y="618.1" width="0.7" height="18.4" fill="#7cd6b0"/><rect x="883" y="618.1" width="3" height="0.8" fill="#7cd6b0"/><rect x="886" y="628.5" width="3" height="8.0" fill="#aaebd0"/><rect x="886" y="628.5" width="0.8" height="8.0" fill="#7cd6b0"/><rect x="888.3" y="628.5" width="0.7" height="8.0" fill="#7cd6b0"/><rect x="886" y="628.5" width="3" height="0.8" fill="#7cd6b0"/><rect x="889" y="633.0" width="3" height="3.5" fill="#fbccc8"/><rect x="889" y="633.0" width="0.8" height="3.5" fill="#f3a9a3"/><rect x="891.3" y="633.0" width="0.7" height="3.5" fill="#f3a9a3"/><rect x="889" y="633.0" width="3" height="0.8" fill="#f3a9a3"/><rect x="892" y="615.1" width="3" height="21.4" fill="#aaebd0"/><rect x="892" y="615.1" width="0.8" height="21.4" fill="#7cd6b0"/><rect x="894.3" y="615.1" width="0.7" height="21.4" fill="#7cd6b0"/><rect x="892" y="615.1" width="3" height="0.8" fill="#7cd6b0"/><rect x="894" y="630.9" width="3" height="5.6" fill="#aaebd0"/><rect x="894" y="630.9" width="0.8" height="5.6" fill="#7cd6b0"/><rect x="896.3" y="630.9" width="0.7" height="5.6" fill="#7cd6b0"/><rect x="894" y="630.9" width="3" height="0.8" fill="#7cd6b0"/><rect x="897" y="628.9" width="3" height="7.6" fill="#aaebd0"/><rect x="897" y="628.9" width="0.8" height="7.6" fill="#7cd6b0"/><rect x="899.3" y="628.9" width="0.7" height="7.6" fill="#7cd6b0"/><rect x="897" y="628.9" width="3" height="0.8" fill="#7cd6b0"/><rect x="900" y="629.7" width="3" height="6.8" fill="#aaebd0"/><rect x="900" y="629.7" width="0.8" height="6.8" fill="#7cd6b0"/><rect x="902.3" y="629.7" width="0.7" height="6.8" fill="#7cd6b0"/><rect x="900" y="629.7" width="3" height="0.8" fill="#7cd6b0"/><rect x="903" y="626.5" width="3" height="10.0" fill="#fbccc8"/><rect x="903" y="626.5" width="0.8" height="10.0" fill="#f3a9a3"/><rect x="905.3" y="626.5" width="0.7" height="10.0" fill="#f3a9a3"/><rect x="903" y="626.5" width="3" height="0.8" fill="#f3a9a3"/><rect x="906" y="626.6" width="3" height="9.9" fill="#fbccc8"/><rect x="906" y="626.6" width="0.8" height="9.9" fill="#f3a9a3"/><rect x="908.3" y="626.6" width="0.7" height="9.9" fill="#f3a9a3"/><rect x="906" y="626.6" width="3" height="0.8" fill="#f3a9a3"/><rect x="909" y="625.1" width="3" height="11.4" fill="#aaebd0"/><rect x="909" y="625.1" width="0.8" height="11.4" fill="#7cd6b0"/><rect x="911.3" y="625.1" width="0.7" height="11.4" fill="#7cd6b0"/><rect x="909" y="625.1" width="3" height="0.8" fill="#7cd6b0"/><rect x="912" y="631.3" width="3" height="5.2" fill="#aaebd0"/><rect x="912" y="631.3" width="0.8" height="5.2" fill="#7cd6b0"/><rect x="914.3" y="631.3" width="0.7" height="5.2" fill="#7cd6b0"/><rect x="912" y="631.3" width="3" height="0.8" fill="#7cd6b0"/><rect x="915" y="627.9" width="3" height="8.6" fill="#fbccc8"/><rect x="915" y="627.9" width="0.8" height="8.6" fill="#f3a9a3"/><rect x="917.3" y="627.9" width="0.7" height="8.6" fill="#f3a9a3"/><rect x="915" y="627.9" width="3" height="0.8" fill="#f3a9a3"/><rect x="918" y="631.3" width="3" height="5.2" fill="#fbccc8"/><rect x="918" y="631.3" width="0.8" height="5.2" fill="#f3a9a3"/><rect x="920.3" y="631.3" width="0.7" height="5.2" fill="#f3a9a3"/><rect x="918" y="631.3" width="3" height="0.8" fill="#f3a9a3"/><rect x="920" y="623.1" width="3" height="13.4" fill="#aaebd0"/><rect x="920" y="623.1" width="0.8" height="13.4" fill="#7cd6b0"/><rect x="922.3" y="623.1" width="0.7" height="13.4" fill="#7cd6b0"/><rect x="920" y="623.1" width="3" height="0.8" fill="#7cd6b0"/><rect x="923" y="632.3" width="3" height="4.2" fill="#aaebd0"/><rect x="923" y="632.3" width="0.8" height="4.2" fill="#7cd6b0"/><rect x="925.3" y="632.3" width="0.7" height="4.2" fill="#7cd6b0"/><rect x="923" y="632.3" width="3" height="0.8" fill="#7cd6b0"/><rect x="926" y="630.3" width="3" height="6.2" fill="#aaebd0"/><rect x="926" y="630.3" width="0.8" height="6.2" fill="#7cd6b0"/><rect x="928.3" y="630.3" width="0.7" height="6.2" fill="#7cd6b0"/><rect x="926" y="630.3" width="3" height="0.8" fill="#7cd6b0"/><rect x="929" y="627.0" width="3" height="9.5" fill="#fbccc8"/><rect x="929" y="627.0" width="0.8" height="9.5" fill="#f3a9a3"/><rect x="931.3" y="627.0" width="0.7" height="9.5" fill="#f3a9a3"/><rect x="929" y="627.0" width="3" height="0.8" fill="#f3a9a3"/><rect x="932" y="627.6" width="3" height="8.9" fill="#aaebd0"/><rect x="932" y="627.6" width="0.8" height="8.9" fill="#7cd6b0"/><rect x="934.3" y="627.6" width="0.7" height="8.9" fill="#7cd6b0"/><rect x="932" y="627.6" width="3" height="0.8" fill="#7cd6b0"/><rect x="935" y="631.4" width="3" height="5.1" fill="#fbccc8"/><rect x="935" y="631.4" width="0.8" height="5.1" fill="#f3a9a3"/><rect x="937.3" y="631.4" width="0.7" height="5.1" fill="#f3a9a3"/><rect x="935" y="631.4" width="3" height="0.8" fill="#f3a9a3"/><rect x="938" y="632.1" width="3" height="4.4" fill="#fbccc8"/><rect x="938" y="632.1" width="0.8" height="4.4" fill="#f3a9a3"/><rect x="940.3" y="632.1" width="0.7" height="4.4" fill="#f3a9a3"/><rect x="938" y="632.1" width="3" height="0.8" fill="#f3a9a3"/><rect x="940" y="626.9" width="3" height="9.6" fill="#fbccc8"/><rect x="940" y="626.9" width="0.8" height="9.6" fill="#f3a9a3"/><rect x="942.3" y="626.9" width="0.7" height="9.6" fill="#f3a9a3"/><rect x="940" y="626.9" width="3" height="0.8" fill="#f3a9a3"/><rect x="943" y="621.1" width="3" height="15.4" fill="#fbccc8"/><rect x="943" y="621.1" width="0.8" height="15.4" fill="#f3a9a3"/><rect x="945.3" y="621.1" width="0.7" height="15.4" fill="#f3a9a3"/><rect x="943" y="621.1" width="3" height="0.8" fill="#f3a9a3"/><rect x="946" y="622.1" width="3" height="14.4" fill="#fbccc8"/><rect x="946" y="622.1" width="0.8" height="14.4" fill="#f3a9a3"/><rect x="948.3" y="622.1" width="0.7" height="14.4" fill="#f3a9a3"/><rect x="946" y="622.1" width="3" height="0.8" fill="#f3a9a3"/><rect x="949" y="629.3" width="3" height="7.2" fill="#fbccc8"/><rect x="949" y="629.3" width="0.8" height="7.2" fill="#f3a9a3"/><rect x="951.3" y="629.3" width="0.7" height="7.2" fill="#f3a9a3"/><rect x="949" y="629.3" width="3" height="0.8" fill="#f3a9a3"/><rect x="952" y="622.1" width="3" height="14.4" fill="#aaebd0"/><rect x="952" y="622.1" width="0.8" height="14.4" fill="#7cd6b0"/><rect x="954.3" y="622.1" width="0.7" height="14.4" fill="#7cd6b0"/><rect x="952" y="622.1" width="3" height="0.8" fill="#7cd6b0"/><rect x="955" y="622.5" width="3" height="14.0" fill="#fbccc8"/><rect x="955" y="622.5" width="0.8" height="14.0" fill="#f3a9a3"/><rect x="957.3" y="622.5" width="0.7" height="14.0" fill="#f3a9a3"/><rect x="955" y="622.5" width="3" height="0.8" fill="#f3a9a3"/><rect x="958" y="628.4" width="3" height="8.1" fill="#aaebd0"/><rect x="958" y="628.4" width="0.8" height="8.1" fill="#7cd6b0"/><rect x="960.3" y="628.4" width="0.7" height="8.1" fill="#7cd6b0"/><rect x="958" y="628.4" width="3" height="0.8" fill="#7cd6b0"/><rect x="960" y="624.1" width="3" height="12.4" fill="#fbccc8"/><rect x="960" y="624.1" width="0.8" height="12.4" fill="#f3a9a3"/><rect x="962.3" y="624.1" width="0.7" height="12.4" fill="#f3a9a3"/><rect x="960" y="624.1" width="3" height="0.8" fill="#f3a9a3"/><rect x="963" y="632.5" width="3" height="4.0" fill="#fbccc8"/><rect x="963" y="632.5" width="0.8" height="4.0" fill="#f3a9a3"/><rect x="965.3" y="632.5" width="0.7" height="4.0" fill="#f3a9a3"/><rect x="963" y="632.5" width="3" height="0.8" fill="#f3a9a3"/><rect x="966" y="632.7" width="3" height="3.8" fill="#fbccc8"/><rect x="966" y="632.7" width="0.8" height="3.8" fill="#f3a9a3"/><rect x="968.3" y="632.7" width="0.7" height="3.8" fill="#f3a9a3"/><rect x="966" y="632.7" width="3" height="0.8" fill="#f3a9a3"/><rect x="969" y="628.5" width="3" height="8.0" fill="#fbccc8"/><rect x="969" y="628.5" width="0.8" height="8.0" fill="#f3a9a3"/><rect x="971.3" y="628.5" width="0.7" height="8.0" fill="#f3a9a3"/><rect x="969" y="628.5" width="3" height="0.8" fill="#f3a9a3"/><rect x="972" y="630.3" width="3" height="6.2" fill="#aaebd0"/><rect x="972" y="630.3" width="0.8" height="6.2" fill="#7cd6b0"/><rect x="974.3" y="630.3" width="0.7" height="6.2" fill="#7cd6b0"/><rect x="972" y="630.3" width="3" height="0.8" fill="#7cd6b0"/><rect x="974" y="632.6" width="3" height="3.9" fill="#aaebd0"/><rect x="974" y="632.6" width="0.8" height="3.9" fill="#7cd6b0"/><rect x="976.3" y="632.6" width="0.7" height="3.9" fill="#7cd6b0"/><rect x="974" y="632.6" width="3" height="0.8" fill="#7cd6b0"/><rect x="978" y="626.8" width="3" height="9.7" fill="#aaebd0"/><rect x="978" y="626.8" width="0.8" height="9.7" fill="#7cd6b0"/><rect x="980.3" y="626.8" width="0.7" height="9.7" fill="#7cd6b0"/><rect x="978" y="626.8" width="3" height="0.8" fill="#7cd6b0"/><rect x="981" y="628.8" width="3" height="7.7" fill="#fbccc8"/><rect x="981" y="628.8" width="0.8" height="7.7" fill="#f3a9a3"/><rect x="983.3" y="628.8" width="0.7" height="7.7" fill="#f3a9a3"/><rect x="981" y="628.8" width="3" height="0.8" fill="#f3a9a3"/><rect x="983" y="613.1" width="3" height="23.4" fill="#fbccc8"/><rect x="983" y="613.1" width="0.8" height="23.4" fill="#f3a9a3"/><rect x="985.3" y="613.1" width="0.7" height="23.4" fill="#f3a9a3"/><rect x="983" y="613.1" width="3" height="0.8" fill="#f3a9a3"/><rect x="986" y="622.1" width="3" height="14.4" fill="#aaebd0"/><rect x="986" y="622.1" width="0.8" height="14.4" fill="#7cd6b0"/><rect x="988.3" y="622.1" width="0.7" height="14.4" fill="#7cd6b0"/><rect x="986" y="622.1" width="3" height="0.8" fill="#7cd6b0"/><rect x="989" y="627.7" width="3" height="8.8" fill="#fbccc8"/><rect x="989" y="627.7" width="0.8" height="8.8" fill="#f3a9a3"/><rect x="991.3" y="627.7" width="0.7" height="8.8" fill="#f3a9a3"/><rect x="989" y="627.7" width="3" height="0.8" fill="#f3a9a3"/><rect x="992" y="632.6" width="3" height="3.9" fill="#fbccc8"/><rect x="992" y="632.6" width="0.8" height="3.9" fill="#f3a9a3"/><rect x="994.3" y="632.6" width="0.7" height="3.9" fill="#f3a9a3"/><rect x="992" y="632.6" width="3" height="0.8" fill="#f3a9a3"/><rect x="995" y="627.3" width="3" height="9.2" fill="#fbccc8"/><rect x="995" y="627.3" width="0.8" height="9.2" fill="#f3a9a3"/><rect x="997.3" y="627.3" width="0.7" height="9.2" fill="#f3a9a3"/><rect x="995" y="627.3" width="3" height="0.8" fill="#f3a9a3"/><rect x="998" y="632.7" width="3" height="3.8" fill="#fbccc8"/><rect x="998" y="632.7" width="0.8" height="3.8" fill="#f3a9a3"/><rect x="1000.3" y="632.7" width="0.7" height="3.8" fill="#f3a9a3"/><rect x="998" y="632.7" width="3" height="0.8" fill="#f3a9a3"/><rect x="1001" y="623.1" width="3" height="13.4" fill="#fbccc8"/><rect x="1001" y="623.1" width="0.8" height="13.4" fill="#f3a9a3"/><rect x="1003.3" y="623.1" width="0.7" height="13.4" fill="#f3a9a3"/><rect x="1001" y="623.1" width="3" height="0.8" fill="#f3a9a3"/><rect x="1004" y="627.3" width="3" height="9.2" fill="#aaebd0"/><rect x="1004" y="627.3" width="0.8" height="9.2" fill="#7cd6b0"/><rect x="1006.3" y="627.3" width="0.7" height="9.2" fill="#7cd6b0"/><rect x="1004" y="627.3" width="3" height="0.8" fill="#7cd6b0"/><rect x="1006" y="630.1" width="3" height="6.4" fill="#aaebd0"/><rect x="1006" y="630.1" width="0.8" height="6.4" fill="#7cd6b0"/><rect x="1008.3" y="630.1" width="0.7" height="6.4" fill="#7cd6b0"/><rect x="1006" y="630.1" width="3" height="0.8" fill="#7cd6b0"/><rect x="1009" y="630.8" width="3" height="5.7" fill="#fbccc8"/><rect x="1009" y="630.8" width="0.8" height="5.7" fill="#f3a9a3"/><rect x="1011.3" y="630.8" width="0.7" height="5.7" fill="#f3a9a3"/><rect x="1009" y="630.8" width="3" height="0.8" fill="#f3a9a3"/><rect x="1012" y="629.4" width="3" height="7.1" fill="#aaebd0"/><rect x="1012" y="629.4" width="0.8" height="7.1" fill="#7cd6b0"/><rect x="1014.3" y="629.4" width="0.7" height="7.1" fill="#7cd6b0"/><rect x="1012" y="629.4" width="3" height="0.8" fill="#7cd6b0"/><rect x="1015" y="626.9" width="3" height="9.6" fill="#aaebd0"/><rect x="1015" y="626.9" width="0.8" height="9.6" fill="#7cd6b0"/><rect x="1017.3" y="626.9" width="0.7" height="9.6" fill="#7cd6b0"/><rect x="1015" y="626.9" width="3" height="0.8" fill="#7cd6b0"/><rect x="1018" y="631.3" width="3" height="5.2" fill="#fbccc8"/><rect x="1018" y="631.3" width="0.8" height="5.2" fill="#f3a9a3"/><rect x="1020.3" y="631.3" width="0.7" height="5.2" fill="#f3a9a3"/><rect x="1018" y="631.3" width="3" height="0.8" fill="#f3a9a3"/><rect x="1021" y="632.3" width="3" height="4.2" fill="#fbccc8"/><rect x="1021" y="632.3" width="0.8" height="4.2" fill="#f3a9a3"/><rect x="1023.3" y="632.3" width="0.7" height="4.2" fill="#f3a9a3"/><rect x="1021" y="632.3" width="3" height="0.8" fill="#f3a9a3"/><rect x="1024" y="629.6" width="3" height="6.9" fill="#fbccc8"/><rect x="1024" y="629.6" width="0.8" height="6.9" fill="#f3a9a3"/><rect x="1026.3" y="629.6" width="0.7" height="6.9" fill="#f3a9a3"/><rect x="1024" y="629.6" width="3" height="0.8" fill="#f3a9a3"/><rect x="1026" y="631.5" width="3" height="5.0" fill="#fbccc8"/><rect x="1026" y="631.5" width="0.8" height="5.0" fill="#f3a9a3"/><rect x="1028.3" y="631.5" width="0.7" height="5.0" fill="#f3a9a3"/><rect x="1026" y="631.5" width="3" height="0.8" fill="#f3a9a3"/><rect x="1029" y="632.4" width="3" height="4.1" fill="#aaebd0"/><rect x="1029" y="632.4" width="0.8" height="4.1" fill="#7cd6b0"/><rect x="1031.3" y="632.4" width="0.7" height="4.1" fill="#7cd6b0"/><rect x="1029" y="632.4" width="3" height="0.8" fill="#7cd6b0"/><rect x="1032" y="614.1" width="3" height="22.4" fill="#fbccc8"/><rect x="1032" y="614.1" width="0.8" height="22.4" fill="#f3a9a3"/><rect x="1034.3" y="614.1" width="0.7" height="22.4" fill="#f3a9a3"/><rect x="1032" y="614.1" width="3" height="0.8" fill="#f3a9a3"/><rect x="1035" y="606.0" width="3" height="30.5" fill="#fbccc8"/><rect x="1035" y="606.0" width="0.8" height="30.5" fill="#f3a9a3"/><rect x="1037.3" y="606.0" width="0.7" height="30.5" fill="#f3a9a3"/><rect x="1035" y="606.0" width="3" height="0.8" fill="#f3a9a3"/><rect x="1038" y="605.0" width="3" height="31.5" fill="#fbccc8"/><rect x="1038" y="605.0" width="0.8" height="31.5" fill="#f3a9a3"/><rect x="1040.3" y="605.0" width="0.7" height="31.5" fill="#f3a9a3"/><rect x="1038" y="605.0" width="3" height="0.8" fill="#f3a9a3"/><rect x="1041" y="618.1" width="3" height="18.4" fill="#aaebd0"/><rect x="1041" y="618.1" width="0.8" height="18.4" fill="#7cd6b0"/><rect x="1043.3" y="618.1" width="0.7" height="18.4" fill="#7cd6b0"/><rect x="1041" y="618.1" width="3" height="0.8" fill="#7cd6b0"/><rect x="1044" y="619.1" width="3" height="17.4" fill="#fbccc8"/><rect x="1044" y="619.1" width="0.8" height="17.4" fill="#f3a9a3"/><rect x="1046.3" y="619.1" width="0.7" height="17.4" fill="#f3a9a3"/><rect x="1044" y="619.1" width="3" height="0.8" fill="#f3a9a3"/><rect x="1047" y="533.9" width="3" height="102.6" fill="#aaebd0"/><rect x="1047" y="533.9" width="0.8" height="102.6" fill="#7cd6b0"/><rect x="1049.3" y="533.9" width="0.7" height="102.6" fill="#7cd6b0"/><rect x="1047" y="533.9" width="3" height="0.8" fill="#7cd6b0"/></g>
<polyline points="0.0,635.3 100.0,635.3 300.0,635.2 600.0,635.0 700.0,635.2 716.0,634.3 780.0,631.6 860.0,630.6 880.0,629.2 910.0,625.8 980.0,625.2 1030.0,625.8 1040.0,623.2 1046.0,622.0 1049.5,617.2" fill="none" stroke="#7a7a7a" stroke-width="2.2" opacity="0.8"/>
<g shape-rendering="crispEdges"><rect x="0" y="686.2" width="1" height="1.2" fill="#cc7068"/><rect x="3" y="686.2" width="1" height="2.2" fill="#cc7068"/><rect x="6" y="686.2" width="1" height="3.7" fill="#cc7068"/><rect x="9" y="686.2" width="1" height="6.2" fill="#cc7068"/><rect x="12" y="686.2" width="1" height="8.9" fill="#cc7068"/><rect x="14" y="686.2" width="1" height="10.6" fill="#cc7068"/><rect x="17" y="686.2" width="1" height="12.1" fill="#cc7068"/><rect x="20" y="686.2" width="1" height="1.6" fill="#cc7068"/><rect x="23" y="679.9" width="1" height="6.3" fill="#cc7068"/><rect x="26" y="674.4" width="1" height="11.8" fill="#cc7068"/><rect x="29" y="669.8" width="1" height="16.4" fill="#cc7068"/><rect x="32" y="667.4" width="1" height="18.8" fill="#cc7068"/><rect x="35" y="670.8" width="1" height="15.4" fill="#cc7068"/><rect x="37" y="674.1" width="1" height="12.1" fill="#cc7068"/><rect x="40" y="678.9" width="1" height="7.3" fill="#cc7068"/><rect x="43" y="684.3" width="1" height="1.9" fill="#cc7068"/><rect x="46" y="685.7" width="1" height="1" fill="#cc7068"/><rect x="49" y="686.2" width="1" height="0.7" fill="#cc7068"/><rect x="52" y="686.2" width="1" height="1.6" fill="#cc7068"/><rect x="55" y="686.2" width="1" height="2.5" fill="#cc7068"/><rect x="57" y="682.0" width="1" height="4.2" fill="#cc7068"/><rect x="59" y="674.3" width="1" height="11.9" fill="#cc7068"/><rect x="63" y="672.8" width="1" height="13.4" fill="#cc7068"/><rect x="66" y="672.5" width="1" height="13.7" fill="#cc7068"/><rect x="69" y="670.4" width="1" height="15.8" fill="#cc7068"/><rect x="72" y="671.6" width="1" height="14.6" fill="#cc7068"/><rect x="75" y="673.5" width="1" height="12.7" fill="#cc7068"/><rect x="77" y="675.3" width="1" height="10.9" fill="#cc7068"/><rect x="80" y="676.1" width="1" height="10.1" fill="#cc7068"/><rect x="83" y="676.6" width="1" height="9.6" fill="#cc7068"/><rect x="86" y="678.8" width="1" height="7.4" fill="#cc7068"/><rect x="89" y="681.3" width="1" height="4.9" fill="#cc7068"/><rect x="92" y="680.6" width="1" height="5.6" fill="#cc7068"/><rect x="95" y="679.9" width="1" height="6.3" fill="#cc7068"/><rect x="98" y="679.5" width="1" height="6.7" fill="#cc7068"/><rect x="101" y="680.1" width="1" height="6.1" fill="#cc7068"/><rect x="104" y="680.6" width="1" height="5.6" fill="#cc7068"/><rect x="106" y="684.1" width="1" height="2.1" fill="#cc7068"/><rect x="109" y="686.2" width="1" height="1.0" fill="#cc7068"/><rect x="112" y="686.2" width="1" height="5.7" fill="#cc7068"/><rect x="115" y="686.2" width="1" height="9.0" fill="#cc7068"/><rect x="117" y="686.2" width="1" height="11.9" fill="#cc7068"/><rect x="121" y="686.2" width="1" height="15.1" fill="#cc7068"/><rect x="124" y="686.2" width="1" height="15.6" fill="#cc7068"/><rect x="127" y="686.2" width="1" height="19.0" fill="#cc7068"/><rect x="129" y="686.2" width="1" height="21.1" fill="#cc7068"/><rect x="132" y="686.2" width="1" height="20.0" fill="#cc7068"/><rect x="135" y="686.2" width="1" height="19.1" fill="#cc7068"/><rect x="138" y="686.2" width="1" height="17.2" fill="#cc7068"/><rect x="141" y="686.2" width="1" height="15.4" fill="#cc7068"/><rect x="144" y="686.2" width="1" height="13.8" fill="#cc7068"/><rect x="146" y="686.2" width="1" height="12.9" fill="#cc7068"/><rect x="149" y="686.2" width="1" height="11.9" fill="#cc7068"/><rect x="152" y="686.2" width="1" height="10.9" fill="#cc7068"/><rect x="155" y="686.2" width="1" height="10.2" fill="#cc7068"/><rect x="159" y="686.2" width="1" height="9.5" fill="#cc7068"/><rect x="161" y="686.2" width="1" height="9.3" fill="#cc7068"/><rect x="164" y="686.2" width="1" height="9.0" fill="#cc7068"/><rect x="166" y="686.2" width="1" height="8.1" fill="#cc7068"/><rect x="169" y="686.2" width="1" height="6.3" fill="#cc7068"/><rect x="172" y="686.2" width="1" height="3.8" fill="#cc7068"/><rect x="175" y="686.2" width="1" height="1.2" fill="#cc7068"/><rect x="178" y="685.7" width="1" height="1" fill="#cc7068"/><rect x="181" y="685.6" width="1" height="0.6" fill="#cc7068"/><rect x="184" y="684.9" width="1" height="1.3" fill="#cc7068"/><rect x="187" y="683.9" width="1" height="2.3" fill="#cc7068"/><rect x="190" y="684.9" width="1" height="1.3" fill="#cc7068"/><rect x="192" y="685.7" width="1" height="1" fill="#cc7068"/><rect x="195" y="685.7" width="1" height="1" fill="#cc7068"/><rect x="198" y="686.2" width="1" height="1.0" fill="#cc7068"/><rect x="201" y="686.2" width="1" height="1.4" fill="#cc7068"/><rect x="203" y="686.2" width="1" height="1.6" fill="#cc7068"/><rect x="207" y="686.2" width="1" height="1.5" fill="#cc7068"/><rect x="209" y="686.2" width="1" height="1.1" fill="#cc7068"/><rect x="212" y="685.6" width="1" height="0.6" fill="#cc7068"/><rect x="215" y="683.5" width="1" height="2.7" fill="#cc7068"/><rect x="218" y="682.1" width="1" height="4.1" fill="#cc7068"/><rect x="221" y="680.8" width="1" height="5.4" fill="#cc7068"/><rect x="224" y="680.0" width="1" height="6.2" fill="#cc7068"/><rect x="227" y="679.6" width="1" height="6.6" fill="#cc7068"/><rect x="230" y="679.4" width="1" height="6.8" fill="#cc7068"/><rect x="233" y="679.8" width="1" height="6.4" fill="#cc7068"/><rect x="235" y="679.9" width="1" height="6.3" fill="#cc7068"/><rect x="238" y="679.9" width="1" height="6.3" fill="#cc7068"/><rect x="241" y="679.9" width="1" height="6.3" fill="#cc7068"/><rect x="244" y="679.9" width="1" height="6.3" fill="#cc7068"/><rect x="247" y="680.2" width="1" height="6.0" fill="#cc7068"/><rect x="250" y="680.7" width="1" height="5.5" fill="#cc7068"/><rect x="253" y="679.3" width="1" height="6.9" fill="#cc7068"/><rect x="256" y="678.2" width="1" height="8.0" fill="#cc7068"/><rect x="259" y="674.7" width="1" height="11.5" fill="#cc7068"/><rect x="261" y="670.4" width="1" height="15.8" fill="#cc7068"/><rect x="264" y="669.4" width="1" height="16.8" fill="#cc7068"/><rect x="267" y="668.5" width="1" height="17.7" fill="#cc7068"/><rect x="270" y="670.2" width="1" height="16.0" fill="#cc7068"/><rect x="273" y="672.3" width="1" height="13.9" fill="#cc7068"/><rect x="276" y="674.5" width="1" height="11.7" fill="#cc7068"/><rect x="278" y="675.8" width="1" height="10.4" fill="#cc7068"/><rect x="281" y="678.1" width="1" height="8.1" fill="#cc7068"/><rect x="284" y="680.2" width="1" height="6.0" fill="#cc7068"/><rect x="287" y="681.1" width="1" height="5.1" fill="#cc7068"/><rect x="290" y="681.8" width="1" height="4.4" fill="#cc7068"/><rect x="293" y="682.1" width="1" height="4.1" fill="#cc7068"/><rect x="296" y="681.6" width="1" height="4.6" fill="#cc7068"/><rect x="299" y="681.7" width="1" height="4.5" fill="#cc7068"/><rect x="301" y="682.3" width="1" height="3.9" fill="#cc7068"/><rect x="304" y="682.6" width="1" height="3.6" fill="#cc7068"/><rect x="307" y="683.5" width="1" height="2.7" fill="#cc7068"/><rect x="310" y="684.3" width="1" height="1.9" fill="#cc7068"/><rect x="313" y="685.0" width="1" height="1.2" fill="#cc7068"/><rect x="316" y="686.2" width="1" height="2.0" fill="#cc7068"/><rect x="319" y="686.2" width="1" height="4.9" fill="#cc7068"/><rect x="322" y="686.2" width="1" height="8.7" fill="#cc7068"/><rect x="324" y="686.2" width="1" height="11.1" fill="#cc7068"/><rect x="327" y="686.2" width="1" height="11.2" fill="#cc7068"/><rect x="330" y="686.2" width="1" height="10.9" fill="#cc7068"/><rect x="333" y="686.2" width="1" height="10.0" fill="#cc7068"/><rect x="336" y="686.2" width="1" height="8.7" fill="#cc7068"/><rect x="339" y="686.2" width="1" height="7.6" fill="#cc7068"/><rect x="342" y="686.2" width="1" height="6.4" fill="#cc7068"/><rect x="345" y="686.2" width="1" height="5.5" fill="#cc7068"/><rect x="347" y="686.2" width="1" height="5.5" fill="#cc7068"/><rect x="350" y="686.2" width="1" height="7.1" fill="#cc7068"/><rect x="353" y="686.2" width="1" height="8.1" fill="#cc7068"/><rect x="356" y="686.2" width="1" height="9.2" fill="#cc7068"/><rect x="359" y="686.2" width="1" height="9.1" fill="#cc7068"/><rect x="362" y="686.2" width="1" height="8.0" fill="#cc7068"/><rect x="365" y="686.2" width="1" height="7.0" fill="#cc7068"/><rect x="367" y="686.2" width="1" height="4.1" fill="#cc7068"/><rect x="370" y="686.2" width="1" height="1.8" fill="#cc7068"/><rect x="373" y="685.7" width="1" height="1" fill="#cc7068"/><rect x="376" y="685.0" width="1" height="1.2" fill="#cc7068"/><rect x="379" y="682.9" width="1" height="3.3" fill="#cc7068"/><rect x="382" y="681.9" width="1" height="4.3" fill="#cc7068"/><rect x="385" y="681.9" width="1" height="4.3" fill="#cc7068"/><rect x="388" y="682.6" width="1" height="3.6" fill="#cc7068"/><rect x="391" y="681.7" width="1" height="4.5" fill="#cc7068"/><rect x="393" y="680.1" width="1" height="6.1" fill="#cc7068"/><rect x="396" y="678.6" width="1" height="7.6" fill="#cc7068"/><rect x="399" y="678.8" width="1" height="7.4" fill="#cc7068"/><rect x="402" y="679.2" width="1" height="7.0" fill="#cc7068"/><rect x="405" y="680.2" width="1" height="6.0" fill="#cc7068"/><rect x="408" y="682.5" width="1" height="3.7" fill="#cc7068"/><rect x="411" y="684.7" width="1" height="1.5" fill="#cc7068"/><rect x="413" y="685.7" width="1" height="0.5" fill="#cc7068"/><rect x="416" y="685.5" width="1" height="0.7" fill="#cc7068"/><rect x="419" y="685.2" width="1" height="1.0" fill="#cc7068"/><rect x="422" y="684.7" width="1" height="1.5" fill="#cc7068"/><rect x="425" y="684.3" width="1" height="1.9" fill="#cc7068"/><rect x="428" y="683.9" width="1" height="2.3" fill="#cc7068"/><rect x="431" y="684.0" width="1" height="2.2" fill="#cc7068"/><rect x="433" y="684.7" width="1" height="1.5" fill="#cc7068"/><rect x="436" y="685.4" width="1" height="0.8" fill="#cc7068"/><rect x="439" y="685.7" width="1" height="1" fill="#cc7068"/><rect x="442" y="685.7" width="1" height="1" fill="#cc7068"/><rect x="445" y="686.2" width="1" height="1.0" fill="#cc7068"/><rect x="448" y="686.2" width="1" height="1.3" fill="#cc7068"/><rect x="451" y="686.2" width="1" height="1.1" fill="#cc7068"/><rect x="454" y="686.2" width="1" height="0.9" fill="#cc7068"/><rect x="456" y="685.7" width="1" height="1" fill="#cc7068"/><rect x="459" y="684.5" width="1" height="1.7" fill="#cc7068"/><rect x="462" y="683.2" width="1" height="3.0" fill="#cc7068"/><rect x="465" y="683.2" width="1" height="3.0" fill="#cc7068"/><rect x="468" y="683.4" width="1" height="2.8" fill="#cc7068"/><rect x="471" y="683.8" width="1" height="2.4" fill="#cc7068"/><rect x="474" y="684.4" width="1" height="1.8" fill="#cc7068"/><rect x="476" y="685.0" width="1" height="1.2" fill="#cc7068"/><rect x="479" y="684.7" width="1" height="1.5" fill="#cc7068"/><rect x="482" y="682.1" width="1" height="4.1" fill="#cc7068"/><rect x="485" y="680.0" width="1" height="6.2" fill="#cc7068"/><rect x="488" y="678.9" width="1" height="7.3" fill="#cc7068"/><rect x="491" y="680.6" width="1" height="5.6" fill="#cc7068"/><rect x="494" y="682.3" width="1" height="3.9" fill="#cc7068"/><rect x="497" y="684.6" width="1" height="1.6" fill="#cc7068"/><rect x="499" y="686.2" width="1" height="1.6" fill="#cc7068"/><rect x="502" y="686.2" width="1" height="4.0" fill="#cc7068"/><rect x="505" y="686.2" width="1" height="5.0" fill="#cc7068"/><rect x="508" y="686.2" width="1" height="5.3" fill="#cc7068"/><rect x="511" y="686.2" width="1" height="5.2" fill="#cc7068"/><rect x="514" y="686.2" width="1" height="4.5" fill="#cc7068"/><rect x="517" y="686.2" width="1" height="2.2" fill="#cc7068"/><rect x="520" y="685.7" width="1" height="1" fill="#cc7068"/><rect x="523" y="686.2" width="1" height="1.1" fill="#cc7068"/><rect x="525" y="686.2" width="1" height="1.7" fill="#cc7068"/><rect x="528" y="686.2" width="1" height="1.9" fill="#cc7068"/><rect x="531" y="686.2" width="1" height="2.3" fill="#cc7068"/><rect x="534" y="686.2" width="1" height="2.3" fill="#cc7068"/><rect x="537" y="686.2" width="1" height="1.9" fill="#cc7068"/><rect x="540" y="686.2" width="1" height="1.9" fill="#cc7068"/><rect x="542" y="686.2" width="1" height="1.3" fill="#cc7068"/><rect x="545" y="685.7" width="1" height="1" fill="#cc7068"/><rect x="548" y="685.7" width="1" height="1" fill="#cc7068"/><rect x="551" y="685.7" width="1" height="1" fill="#cc7068"/><rect x="554" y="685.5" width="1" height="0.7" fill="#cc7068"/><rect x="557" y="685.4" width="1" height="0.8" fill="#cc7068"/><rect x="560" y="685.2" width="1" height="1.0" fill="#cc7068"/><rect x="563" y="685.1" width="1" height="1.1" fill="#cc7068"/><rect x="565" y="685.1" width="1" height="1.1" fill="#cc7068"/><rect x="568" y="685.4" width="1" height="0.8" fill="#cc7068"/><rect x="571" y="685.7" width="1" height="1" fill="#cc7068"/><rect x="574" y="685.7" width="1" height="1" fill="#cc7068"/><rect x="577" y="685.7" width="1" height="1" fill="#cc7068"/><rect x="580" y="685.7" width="1" height="1" fill="#cc7068"/><rect x="583" y="686.2" width="1" height="0.7" fill="#cc7068"/><rect x="586" y="686.2" width="1" height="1.4" fill="#cc7068"/><rect x="588" y="686.2" width="1" height="1.8" fill="#cc7068"/><rect x="591" y="686.2" width="1" height="1.9" fill="#cc7068"/><rect x="594" y="686.2" width="1" height="1.6" fill="#cc7068"/><rect x="597" y="685.7" width="1" height="1" fill="#cc7068"/><rect x="600" y="685.2" width="1" height="1.0" fill="#cc7068"/><rect x="603" y="685.1" width="1" height="1.1" fill="#cc7068"/><rect x="606" y="685.3" width="1" height="0.9" fill="#cc7068"/><rect x="608" y="685.4" width="1" height="0.8" fill="#cc7068"/><rect x="611" y="686.2" width="1" height="1.5" fill="#cc7068"/><rect x="614" y="686.2" width="1" height="4.1" fill="#cc7068"/><rect x="617" y="686.2" width="1" height="4.9" fill="#cc7068"/><rect x="620" y="686.2" width="1" height="5.2" fill="#cc7068"/><rect x="623" y="686.2" width="1" height="5.4" fill="#cc7068"/><rect x="626" y="686.2" width="1" height="4.8" fill="#cc7068"/><rect x="629" y="686.2" width="1" height="4.2" fill="#cc7068"/><rect x="631" y="686.2" width="1" height="3.4" fill="#cc7068"/><rect x="634" y="686.2" width="1" height="2.4" fill="#cc7068"/><rect x="637" y="686.2" width="1" height="1.4" fill="#cc7068"/><rect x="640" y="686.2" width="1" height="0.7" fill="#cc7068"/><rect x="643" y="685.7" width="1" height="1" fill="#cc7068"/><rect x="646" y="685.7" width="1" height="1" fill="#cc7068"/><rect x="649" y="686.2" width="1" height="0.6" fill="#cc7068"/><rect x="652" y="686.2" width="1" height="1.2" fill="#cc7068"/><rect x="654" y="686.2" width="1" height="1.8" fill="#cc7068"/><rect x="657" y="686.2" width="1" height="2.6" fill="#cc7068"/><rect x="660" y="686.2" width="1" height="1.8" fill="#cc7068"/><rect x="663" y="686.2" width="1" height="0.7" fill="#cc7068"/><rect x="666" y="685.7" width="1" height="1" fill="#cc7068"/><rect x="669" y="685.7" width="1" height="1" fill="#cc7068"/><rect x="671" y="685.7" width="1" height="1" fill="#cc7068"/><rect x="674" y="685.7" width="1" height="1" fill="#cc7068"/><rect x="677" y="685.7" width="1" height="1" fill="#cc7068"/><rect x="680" y="685.7" width="1" height="0.5" fill="#cc7068"/><rect x="683" y="685.5" width="1" height="0.7" fill="#cc7068"/><rect x="686" y="685.4" width="1" height="0.8" fill="#cc7068"/><rect x="690" y="685.2" width="1" height="1.0" fill="#cc7068"/><rect x="692" y="685.0" width="1" height="1.2" fill="#cc7068"/><rect x="695" y="685.2" width="1" height="1.0" fill="#cc7068"/><rect x="697" y="685.4" width="1" height="0.8" fill="#cc7068"/><rect x="700" y="685.6" width="1" height="0.6" fill="#cc7068"/><rect x="703" y="685.6" width="1" height="0.6" fill="#cc7068"/><rect x="706" y="685.6" width="1" height="0.6" fill="#cc7068"/><rect x="709" y="685.6" width="1" height="0.6" fill="#cc7068"/><rect x="712" y="685.3" width="1" height="0.9" fill="#cc7068"/><rect x="715" y="684.2" width="1" height="2.0" fill="#cc7068"/><rect x="718" y="683.0" width="1" height="3.2" fill="#cc7068"/><rect x="721" y="682.3" width="1" height="3.9" fill="#cc7068"/><rect x="723" y="681.6" width="1" height="4.6" fill="#cc7068"/><rect x="726" y="681.6" width="1" height="4.6" fill="#cc7068"/><rect x="729" y="682.5" width="1" height="3.7" fill="#cc7068"/><rect x="732" y="683.4" width="1" height="2.8" fill="#cc7068"/><rect x="735" y="684.4" width="1" height="1.8" fill="#cc7068"/><rect x="738" y="685.3" width="1" height="0.9" fill="#cc7068"/><rect x="741" y="685.7" width="1" height="1" fill="#cc7068"/><rect x="743" y="685.7" width="1" height="1" fill="#cc7068"/><rect x="746" y="685.3" width="1" height="0.9" fill="#cc7068"/><rect x="749" y="684.8" width="1" height="1.4" fill="#cc7068"/><rect x="752" y="684.2" width="1" height="2.0" fill="#cc7068"/><rect x="755" y="684.1" width="1" height="2.1" fill="#cc7068"/><rect x="758" y="684.1" width="1" height="2.1" fill="#cc7068"/><rect x="761" y="684.1" width="1" height="2.1" fill="#cc7068"/><rect x="763" y="684.2" width="1" height="2.0" fill="#cc7068"/><rect x="766" y="684.5" width="1" height="1.7" fill="#cc7068"/><rect x="769" y="685.1" width="1" height="1.1" fill="#cc7068"/><rect x="772" y="685.5" width="1" height="0.7" fill="#cc7068"/><rect x="775" y="685.7" width="1" height="1" fill="#cc7068"/><rect x="778" y="685.7" width="1" height="1" fill="#cc7068"/><rect x="781" y="685.7" width="1" height="1" fill="#cc7068"/><rect x="783" y="685.6" width="1" height="0.6" fill="#cc7068"/><rect x="786" y="685.5" width="1" height="0.7" fill="#cc7068"/><rect x="789" y="685.4" width="1" height="0.8" fill="#cc7068"/><rect x="792" y="684.9" width="1" height="1.3" fill="#cc7068"/><rect x="795" y="684.5" width="1" height="1.7" fill="#cc7068"/><rect x="798" y="684.0" width="1" height="2.2" fill="#cc7068"/><rect x="801" y="683.6" width="1" height="2.6" fill="#cc7068"/><rect x="804" y="685.1" width="1" height="1.1" fill="#cc7068"/><rect x="807" y="685.6" width="1" height="0.6" fill="#cc7068"/><rect x="809" y="685.6" width="1" height="0.6" fill="#cc7068"/><rect x="812" y="685.6" width="1" height="0.6" fill="#cc7068"/><rect x="815" y="685.6" width="1" height="0.6" fill="#cc7068"/><rect x="817" y="685.3" width="1" height="0.9" fill="#cc7068"/><rect x="821" y="684.5" width="1" height="1.7" fill="#cc7068"/><rect x="823" y="683.9" width="1" height="2.3" fill="#cc7068"/><rect x="826" y="683.1" width="1" height="3.1" fill="#cc7068"/><rect x="829" y="682.6" width="1" height="3.6" fill="#cc7068"/><rect x="832" y="682.2" width="1" height="4.0" fill="#cc7068"/><rect x="835" y="681.1" width="1" height="5.1" fill="#cc7068"/><rect x="838" y="680.0" width="1" height="6.2" fill="#cc7068"/><rect x="841" y="679.2" width="1" height="7.0" fill="#cc7068"/><rect x="844" y="680.1" width="1" height="6.1" fill="#cc7068"/><rect x="847" y="681.9" width="1" height="4.3" fill="#cc7068"/><rect x="850" y="684.2" width="1" height="2.0" fill="#cc7068"/><rect x="853" y="686.2" width="1" height="0.7" fill="#cc7068"/><rect x="855" y="686.2" width="1" height="3.1" fill="#cc7068"/><rect x="858" y="686.2" width="1" height="4.2" fill="#cc7068"/><rect x="861" y="686.2" width="1" height="5.8" fill="#cc7068"/><rect x="864" y="686.2" width="1" height="7.5" fill="#cc7068"/><rect x="867" y="686.2" width="1" height="7.8" fill="#cc7068"/><rect x="870" y="686.2" width="1" height="7.4" fill="#cc7068"/><rect x="873" y="686.2" width="1" height="6.8" fill="#cc7068"/><rect x="875" y="686.2" width="1" height="6.4" fill="#cc7068"/><rect x="878" y="686.2" width="1" height="6.2" fill="#cc7068"/><rect x="881" y="686.2" width="1" height="6.0" fill="#cc7068"/><rect x="884" y="686.2" width="1" height="3.4" fill="#cc7068"/><rect x="887" y="686.2" width="1" height="1.6" fill="#cc7068"/><rect x="890" y="686.2" width="1" height="0.7" fill="#cc7068"/><rect x="893" y="685.7" width="1" height="1" fill="#cc7068"/><rect x="895" y="685.2" width="1" height="1.0" fill="#cc7068"/><rect x="898" y="684.3" width="1" height="1.9" fill="#cc7068"/><rect x="901" y="683.3" width="1" height="2.9" fill="#cc7068"/><rect x="904" y="682.4" width="1" height="3.8" fill="#cc7068"/><rect x="907" y="683.1" width="1" height="3.1" fill="#cc7068"/><rect x="910" y="683.8" width="1" height="2.4" fill="#cc7068"/><rect x="913" y="684.3" width="1" height="1.9" fill="#cc7068"/><rect x="916" y="685.3" width="1" height="0.9" fill="#cc7068"/><rect x="919" y="686.2" width="1" height="0.5" fill="#cc7068"/><rect x="921" y="686.2" width="1" height="1.5" fill="#cc7068"/><rect x="924" y="686.2" width="1" height="1.8" fill="#cc7068"/><rect x="927" y="686.2" width="1" height="1.9" fill="#cc7068"/><rect x="930" y="686.2" width="1" height="2.5" fill="#cc7068"/><rect x="933" y="686.2" width="1" height="2.9" fill="#cc7068"/><rect x="936" y="686.2" width="1" height="2.9" fill="#cc7068"/><rect x="939" y="686.2" width="1" height="3.1" fill="#cc7068"/><rect x="941" y="686.2" width="1" height="3.7" fill="#cc7068"/><rect x="944" y="686.2" width="1" height="4.5" fill="#cc7068"/><rect x="947" y="686.2" width="1" height="5.2" fill="#cc7068"/><rect x="950" y="686.2" width="1" height="4.9" fill="#cc7068"/><rect x="953" y="686.2" width="1" height="4.5" fill="#cc7068"/><rect x="956" y="686.2" width="1" height="4.5" fill="#cc7068"/><rect x="959" y="686.2" width="1" height="3.7" fill="#cc7068"/><rect x="961" y="686.2" width="1" height="2.6" fill="#cc7068"/><rect x="964" y="686.2" width="1" height="2.2" fill="#cc7068"/><rect x="967" y="686.2" width="1" height="2.8" fill="#cc7068"/><rect x="970" y="686.2" width="1" height="3.0" fill="#cc7068"/><rect x="973" y="686.2" width="1" height="2.0" fill="#cc7068"/><rect x="975" y="686.2" width="1" height="1.2" fill="#cc7068"/><rect x="979" y="685.7" width="1" height="1" fill="#cc7068"/><rect x="982" y="685.7" width="1" height="1" fill="#cc7068"/><rect x="984" y="685.7" width="1" height="1" fill="#cc7068"/><rect x="987" y="685.7" width="1" height="1" fill="#cc7068"/><rect x="990" y="685.7" width="1" height="1" fill="#cc7068"/><rect x="993" y="685.7" width="1" height="1" fill="#cc7068"/><rect x="996" y="685.7" width="1" height="1" fill="#cc7068"/><rect x="999" y="685.7" width="1" height="1" fill="#cc7068"/><rect x="1002" y="686.2" width="1" height="0.9" fill="#cc7068"/><rect x="1005" y="686.2" width="1" height="1.9" fill="#cc7068"/><rect x="1007" y="686.2" width="1" height="1.2" fill="#cc7068"/><rect x="1010" y="685.7" width="1" height="1" fill="#cc7068"/><rect x="1013" y="685.7" width="1" height="1" fill="#cc7068"/><rect x="1016" y="685.7" width="1" height="1" fill="#cc7068"/><rect x="1019" y="685.7" width="1" height="1" fill="#cc7068"/><rect x="1022" y="685.7" width="1" height="1" fill="#cc7068"/><rect x="1025" y="685.7" width="1" height="1" fill="#cc7068"/><rect x="1027" y="685.7" width="1" height="1" fill="#cc7068"/><rect x="1030" y="685.7" width="1" height="0.5" fill="#cc7068"/><rect x="1033" y="685.7" width="1" height="1" fill="#cc7068"/><rect x="1036" y="685.7" width="1" height="1" fill="#cc7068"/><rect x="1039" y="685.7" width="1" height="1" fill="#cc7068"/><rect x="1042" y="686.2" width="1" height="0.5" fill="#cc7068"/><rect x="1045" y="686.2" width="1" height="0.8" fill="#cc7068"/><rect x="1048" y="685.7" width="1" height="1" fill="#cc7068"/></g>
<polyline points="0.0,719.9 9.7,721.9 15.6,724.8 21.4,728.7 29.2,725.8 37.0,718.0 44.8,709.2 50.7,707.3 58.5,706.3 66.3,700.4 74.1,691.7 81.9,681.9 89.7,673.1 97.5,665.3 105.3,659.5 113.1,658.5 120.9,662.4 128.7,674.1 136.5,688.7 144.2,700.4 152.0,710.2 159.8,718.9 167.6,725.8 175.4,728.7 183.2,729.7 194.9,729.7 206.6,730.1 214.4,731.0 222.2,730.1 230.0,726.7 237.8,721.9 245.6,717.0 253.4,711.2 261.2,702.4 269.0,692.6 276.8,681.9 284.6,673.1 292.4,668.3 300.2,664.4 308.0,662.4 315.8,662.4 323.6,665.3 331.4,674.1 339.2,682.9 347.0,689.7 350.0,691.7 357.8,698.5 365.6,704.3 373.4,707.3 379.2,708.2 387.0,706.9 396.8,701.4 406.5,695.9 412.4,693.0 424.1,691.1 435.8,688.7 447.5,688.3 459.2,687.8 470.9,685.8 482.6,682.5 492.3,679.0 500.1,676.1 505.9,676.5 513.7,679.4 521.5,682.3 529.3,684.8 537.1,686.8 544.9,687.8 554.7,687.4 564.4,686.4 574.2,685.4 583.9,686.4 593.7,687.8 603.4,687.8 613.2,688.3 622.9,691.1 630.7,695.0 638.5,697.9 646.3,698.9 654.1,699.8 661.9,701.4 671.6,702.4 681.4,702.4 693.1,701.4 700.0,699.5 711.7,699.1 719.5,697.9 731.2,694.6 742.9,691.1 758.5,688.1 770.2,685.4 781.9,684.2 793.6,682.9 805.3,681.5 817.0,680.5 828.7,678.6 840.4,675.5 848.1,671.2 855.9,668.8 861.8,669.6 869.6,673.1 877.4,678.0 885.2,681.9 893.0,683.3 902.7,681.3 912.5,679.0 922.2,678.0 932.0,679.0 939.8,681.5 947.6,682.9 955.4,686.8 963.2,690.3 971.0,692.6 980.7,692.6 992.4,692.6 1004.1,693.2 1015.8,693.0 1031.4,691.9 1048.9,692.2" fill="none" stroke="#e24a4a" stroke-width="0.85" />
<polyline points="0.0,720.9 7.8,725.8 17.5,738.4 23.4,721.9 32.2,703.4 37.0,704.3 43.9,709.2 50.7,708.2 55.6,709.2 60.4,691.7 66.3,686.8 70.2,680.0 78.0,676.1 83.8,670.2 89.7,668.3 97.5,658.5 104.3,654.6 109.2,659.5 117.0,671.2 124.8,683.9 128.7,695.6 136.5,707.3 146.2,716.0 155.9,724.8 163.7,731.6 167.6,733.6 175.4,729.7 183.2,728.7 187.1,727.3 194.9,730.1 202.7,731.6 210.5,731.6 216.4,727.7 226.1,721.9 233.9,718.0 241.7,713.1 251.5,707.3 257.3,698.5 261.2,686.8 267.1,677.0 272.9,673.1 278.8,669.2 284.6,667.3 292.4,664.4 298.2,660.5 306.0,659.5 313.8,661.4 319.7,669.2 325.5,679.0 331.4,684.8 339.2,690.7 347.0,694.6 350.0,698.5 357.8,708.2 365.6,711.2 368.5,708.2 375.3,707.3 382.2,703.4 389.0,702.4 396.8,693.6 404.6,690.3 412.4,692.6 420.2,690.7 429.9,687.4 435.8,687.8 447.5,689.7 455.3,688.7 463.1,683.9 470.9,683.3 478.7,682.9 484.5,676.1 488.4,673.1 496.2,674.7 502.0,680.0 509.8,683.3 513.7,684.4 519.6,681.9 525.4,685.2 533.2,688.3 541.0,689.1 548.8,687.4 556.6,686.4 564.4,685.2 572.2,685.2 580.0,685.8 587.8,688.7 593.7,689.7 601.5,686.4 609.3,687.4 615.1,693.6 622.9,696.5 630.7,698.9 638.5,698.9 646.3,698.9 654.1,701.4 658.0,703.4 665.8,701.8 673.6,702.4 681.4,701.8 689.2,700.8 697.0,699.5 700.0,698.9 711.7,698.5 725.3,691.3 740.9,691.7 752.6,687.2 766.3,684.4 778.0,684.4 789.7,682.5 801.4,679.4 805.3,680.9 817.0,680.0 824.8,676.6 832.6,673.5 842.3,667.3 848.1,667.3 855.9,672.2 859.8,674.1 865.7,679.4 871.5,681.3 881.3,686.2 887.1,683.9 893.0,683.3 904.7,677.0 914.4,677.0 920.3,679.4 928.1,680.5 937.8,683.9 945.6,687.4 953.4,690.3 957.3,692.2 963.2,692.2 970.0,695.6 976.8,693.6 980.7,692.2 992.4,692.6 1000.2,693.0 1005.1,695.2 1011.9,693.0 1021.6,692.6 1031.4,691.3 1039.2,692.2 1046.0,693.0 1048.9,692.2" fill="none" stroke="#4646b4" stroke-width="0.85" />
<polyline points="0.0,822.4 6.8,823.9 9.7,832.1 13.6,832.7 17.5,834.6 23.4,795.7 27.3,806.4 29.6,808.9 32.6,802.5 35.5,812.6 39.0,814.6 43.3,818.1 46.8,814.2 49.7,814.2 52.6,817.1 55.2,815.7 57.5,796.6 60.4,794.3 63.4,806.0 66.3,799.6 69.2,796.6 73.1,800.5 76.0,799.9 79.9,797.2 89.7,797.2 92.2,785.3 95.5,785.3 98.4,794.3 103.3,788.4 106.2,800.5 109.2,805.4 114.0,811.8 117.9,809.3 120.9,813.2 124.2,817.1 126.7,827.2 132.6,827.2 134.9,823.5 138.4,830.2 141.3,830.2 144.2,822.6 146.6,829.2 149.7,832.3 152.4,829.4 155.9,833.3 158.9,833.3 161.4,840.9 164.1,838.5 167.1,839.5 169.6,831.7 172.5,829.4 176.4,829.4 179.3,830.7 181.7,837.2 184.2,829.8 186.7,831.7 190.6,838.5 194.9,839.5 197.3,837.2 201.8,842.4 204.7,843.4 211.5,843.4 215.4,828.4 218.3,832.1 221.2,830.4 225.1,832.3 232.9,832.3 235.5,824.5 238.2,826.8 241.3,823.9 244.1,826.8 247.2,825.5 250.5,819.0 253.4,817.7 255.9,804.4 258.7,772.7 261.2,777.1 264.5,784.0 267.4,781.6 271.0,790.2 273.9,790.8 276.4,798.2 278.8,785.9 281.7,790.8 285.0,786.3 288.1,786.3 290.8,791.2 294.3,785.9 299.2,778.5 301.8,789.2 305.1,789.2 310.3,782.4 313.8,797.6 316.2,809.3 318.7,812.2 321.6,815.2 324.6,819.0 327.5,815.2 330.4,820.0 333.3,821.4 336.3,816.5 340.2,819.0 344.1,820.6 347.0,827.8 350.0,832.7 353.9,838.2 359.4,840.5 365.2,835.6 367.5,817.5 370.5,819.0 373.8,826.5 376.3,825.5 379.2,819.0 382.7,814.6 385.5,820.0 388.4,817.1 390.9,810.7 393.3,813.6 396.4,796.6 399.1,802.1 402.6,808.3 405.6,808.3 408.5,816.1 410.8,813.2 413.4,814.2 416.7,817.5 419.6,807.7 423.1,805.4 426.0,804.8 428.9,805.8 431.5,805.8 433.8,814.2 436.7,804.8 439.7,809.7 445.5,818.1 448.4,815.2 451.4,809.7 454.3,812.2 456.6,797.6 461.1,798.0 465.4,791.8 468.5,801.5 471.2,809.3 474.4,809.3 476.7,799.9 479.6,798.2 482.6,784.0 485.5,780.5 488.4,780.5 491.3,799.0 496.2,798.6 499.7,812.6 502.4,818.1 505.6,807.4 508.3,808.7 511.4,815.2 514.1,807.4 517.6,798.6 520.6,802.5 525.4,816.1 528.4,812.6 531.3,814.2 538.1,814.2 540.1,813.2 542.6,803.8 545.3,814.2 548.4,800.5 551.8,799.6 554.3,805.4 557.0,804.4 560.1,804.8 563.5,809.3 565.4,804.8 568.7,808.3 574.2,808.7 577.5,814.2 580.6,810.9 583.3,813.6 586.5,825.3 588.8,810.3 591.7,805.8 594.6,817.1 597.6,803.5 600.5,797.6 603.4,799.2 606.3,812.2 609.3,818.1 614.5,828.2 618.0,821.0 621.0,818.5 623.9,821.6 629.1,823.3 632.3,820.0 634.6,819.4 640.4,821.4 643.4,821.6 646.3,827.4 651.2,831.7 657.6,838.5 660.3,831.7 663.5,821.6 666.8,828.4 669.7,829.2 672.6,825.9 675.1,829.4 680.4,830.4 683.3,826.8 686.6,826.5 689.6,829.2 693.1,826.5 696.6,830.4 700.0,832.3 706.8,832.7 709.7,836.0 712.7,836.0 715.6,812.2 718.5,809.7 720.5,816.1 723.4,806.8 729.2,813.2 735.5,822.4 738.4,822.4 741.3,812.6 743.3,812.2 746.8,803.5 749.7,798.6 753.6,802.5 758.5,807.9 763.4,794.7 766.7,803.5 775.0,803.5 778.6,797.2 781.5,794.7 784.4,798.6 786.7,798.2 789.3,786.9 792.6,790.2 798.4,780.5 801.4,780.5 804.7,794.3 807.2,794.7 809.2,798.2 815.0,786.9 818.3,772.7 821.4,779.7 824.4,772.8 827.3,776.2 829.6,772.7 832.6,771.3 835.5,762.1 841.3,757.3 844.2,770.3 847.2,773.6 850.5,801.1 852.6,795.7 855.9,799.6 858.3,801.5 861.8,816.1 864.1,814.8 867.6,806.0 871.2,810.9 875.4,814.2 878.4,814.6 881.3,819.0 884.6,798.6 887.5,795.7 890.4,807.9 893.4,796.6 894.9,797.6 898.4,788.8 901.8,790.2 904.3,789.4 907.6,793.7 910.5,798.2 913.5,797.6 916.4,803.8 918.7,806.4 921.6,799.9 924.6,806.0 927.5,800.9 930.6,807.9 933.5,805.8 936.3,808.7 939.8,815.2 941.7,817.1 944.6,821.4 947.6,824.3 950.5,825.3 953.4,820.6 956.3,825.9 961.2,819.4 964.5,821.4 967.6,830.2 970.6,830.2 973.5,817.5 976.4,815.5 979.7,806.8 984.6,822.9 987.5,813.6 990.4,816.5 993.4,821.4 996.3,821.6 1002.1,827.2 1005.1,827.4 1007.6,817.5 1010.9,817.5 1013.8,820.0 1016.8,813.6 1019.7,818.5 1022.6,816.7 1025.5,818.1 1027.9,820.4 1030.8,807.7 1033.7,820.0 1036.6,824.3 1039.6,825.3 1042.5,820.6 1045.4,824.3 1048.9,808.9" fill="none" stroke="#a868bc" stroke-width="0.95" />
<rect x="0" y="518.7" width="1847" height="1.6" fill="#3c3c3c"/>
<rect x="0" y="642.5" width="1847" height="1.6" fill="#3c3c3c"/>
<rect x="0" y="744.0" width="1847" height="1.6" fill="#3c3c3c"/>
<rect x="1790" y="0" width="1" height="844" fill="#505050"/>
<rect x="1791" y="-1" width="2.4" height="1" fill="#555"/>
<text x="1797.5" y="3.5" font-size="11" fill="#4f4f4f">0.260</text>
<rect x="1791" y="32" width="2.4" height="1" fill="#555"/>
<text x="1797.5" y="36.4" font-size="11" fill="#4f4f4f">0.200</text>
<rect x="1791" y="74" width="2.4" height="1" fill="#555"/>
<text x="1797.5" y="79.0" font-size="11" fill="#4f4f4f">0.140</text>
<rect x="1791" y="104" width="2.4" height="1" fill="#555"/>
<text x="1797.5" y="108.0" font-size="11" fill="#4f4f4f">0.110</text>
<rect x="1791" y="141" width="2.4" height="1" fill="#555"/>
<text x="1797.5" y="145.8" font-size="11" fill="#4f4f4f">0.080</text>
<rect x="1791" y="176" width="2.4" height="1" fill="#555"/>
<text x="1797.5" y="180.0" font-size="11" fill="#4f4f4f">0.060</text>
<rect x="1791" y="210" width="2.4" height="1" fill="#555"/>
<text x="1797.5" y="214.4" font-size="11" fill="#4f4f4f">0.045</text>
<rect x="1791" y="240" width="2.4" height="1" fill="#555"/>
<text x="1797.5" y="244.4" font-size="11" fill="#4f4f4f">0.035</text>
<rect x="1791" y="300" width="2.4" height="1" fill="#555"/>
<text x="1797.5" y="304.0" font-size="11" fill="#4f4f4f">0.021</text>
<rect x="1791" y="333" width="2.4" height="1" fill="#555"/>
<text x="1797.5" y="337.1" font-size="11" fill="#4f4f4f">0.016</text>
<rect x="1791" y="367" width="2.4" height="1" fill="#555"/>
<text x="1797.5" y="371.3" font-size="11" fill="#4f4f4f">0.012</text>
<rect x="1791" y="401" width="2.4" height="1" fill="#555"/>
<text x="1797.5" y="405.2" font-size="11" fill="#4f4f4f">0.009</text>
<rect x="1791" y="429" width="2.4" height="1" fill="#555"/>
<text x="1797.5" y="433.8" font-size="11" fill="#4f4f4f">0.007</text>
<rect x="1791" y="470" width="2.4" height="1" fill="#555"/>
<text x="1797.5" y="474.0" font-size="11" fill="#4f4f4f">0.005</text>
<rect x="1791" y="560" width="2.4" height="1" fill="#555"/>
<text x="1797.5" y="564.3" font-size="11" fill="#4f4f4f">80M</text>
<rect x="1791" y="598" width="2.4" height="1" fill="#555"/>
<text x="1797.5" y="603.0" font-size="11" fill="#4f4f4f">40M</text>
<rect x="1791" y="637" width="2.4" height="1" fill="#555"/>
<text x="1797.5" y="641.4" font-size="11" fill="#4f4f4f">0</text>
<rect x="1791" y="734" width="2.4" height="1" fill="#555"/>
<text x="1797.5" y="738.4" font-size="11" fill="#4f4f4f">-0.0200</text>
<rect x="1791" y="762" width="2.4" height="1" fill="#555"/>
<text x="1797.5" y="766.1" font-size="11" fill="#4f4f4f">80.0000</text>
<rect x="1791" y="791" width="2.4" height="1" fill="#555"/>
<text x="1797.5" y="795.9" font-size="11" fill="#4f4f4f">60.0000</text>
<rect x="1791" y="822" width="2.4" height="1" fill="#555"/>
<text x="1797.5" y="826.0" font-size="11" fill="#4f4f4f">40.0000</text>
<rect x="1790" y="208" width="38.8" height="16" fill="#0a0ae1"/>
<rect x="1790" y="215" width="3.2" height="1" fill="#fff"/>
<text x="1797.5" y="220.0" font-size="11" font-weight="bold" fill="#fff">0.043</text>
<rect x="1790" y="258" width="38.8" height="16" fill="#ff9f1a"/>
<rect x="1790" y="265" width="3.2" height="1" fill="#fff"/>
<text x="1797.5" y="270.0" font-size="11" font-weight="bold" fill="#fff">0.028</text>
<rect x="1790" y="274" width="38.8" height="16" fill="#ee1111"/>
<rect x="1790" y="281" width="3.2" height="1" fill="#fff"/>
<text x="1797.5" y="286.0" font-size="11" font-weight="bold" fill="#fff">0.025</text>
<rect x="1790" y="298" width="38.8" height="16" fill="#4a78dc"/>
<rect x="1790" y="305" width="3.2" height="1" fill="#fff"/>
<text x="1797.5" y="310.0" font-size="11" font-weight="bold" fill="#fff">0.020</text>
<rect x="1790" y="526" width="57" height="16" fill="#10be6e"/>
<rect x="1790" y="533" width="3.2" height="1" fill="#fff"/>
<text x="1797.5" y="538.0" font-size="11" font-weight="bold" fill="#fff">107.221M</text>
<rect x="1790" y="611" width="55" height="16" fill="#000"/>
<rect x="1790" y="618" width="3.2" height="1" fill="#fff"/>
<text x="1797.5" y="623.0" font-size="11" font-weight="bold" fill="#fff">18.441M</text>
<rect x="1790" y="678" width="44.3" height="16" fill="#ee1520"/>
<rect x="1790" y="685" width="3.2" height="1" fill="#fff"/>
<text x="1797.5" y="690.0" font-size="11" font-weight="bold" fill="#fff">0.0000</text>
<rect x="1790" y="694" width="48.5" height="16" fill="#1414d8"/>
<rect x="1790" y="701" width="3.2" height="1" fill="#fff"/>
<text x="1797.5" y="706.0" font-size="11" font-weight="bold" fill="#fff">-0.0029</text>
<rect x="1790" y="710" width="48.5" height="16" fill="#ee1520"/>
<rect x="1790" y="717" width="3.2" height="1" fill="#fff"/>
<text x="1797.5" y="722.0" font-size="11" font-weight="bold" fill="#fff">-0.0029</text>
<rect x="1790" y="802" width="50.5" height="16" fill="#800080"/>
<rect x="1790" y="809" width="3.2" height="1" fill="#fff"/>
<text x="1797.5" y="814.0" font-size="11" font-weight="bold" fill="#fff">48.0899</text>
</svg>
<!--LEGEND-->
</body></html>
